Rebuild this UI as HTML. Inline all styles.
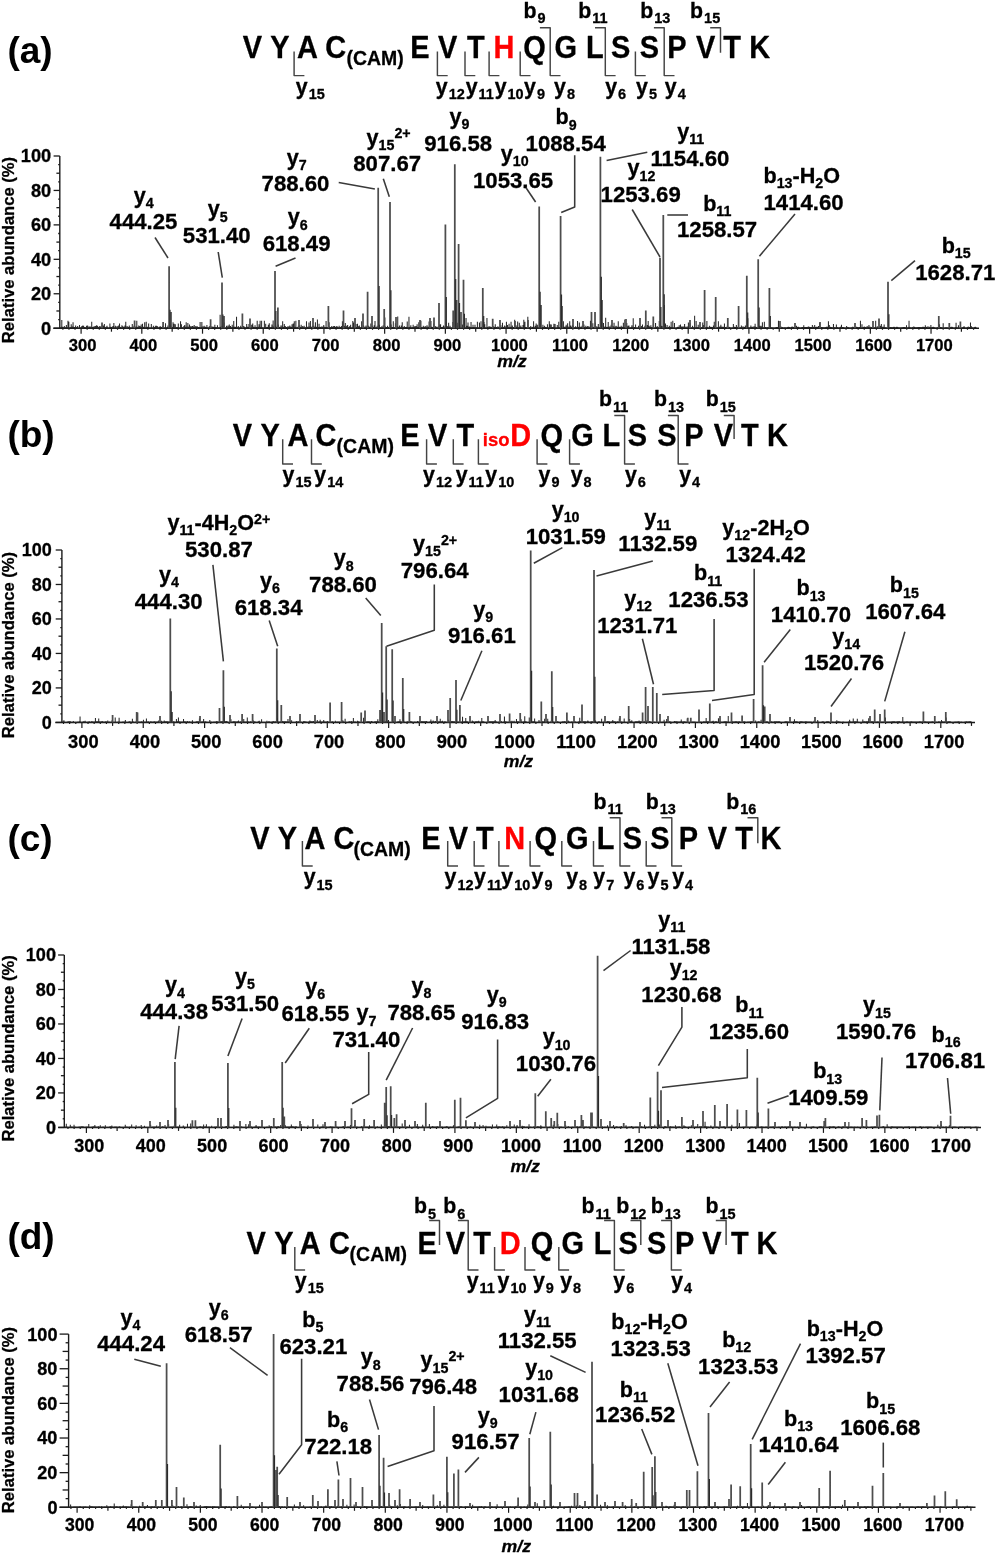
<!DOCTYPE html>
<html><head><meta charset="utf-8"><title>MS/MS spectra</title>
<style>html,body{margin:0;padding:0;background:#fff;width:995px;height:1555px;overflow:hidden}svg{display:block;will-change:transform;filter:blur(0.45px)}text{stroke-width:0.3px}</style>
</head><body>
<svg width="995" height="1555" viewBox="0 0 995 1555" font-family='"Liberation Sans", sans-serif' font-weight="bold" stroke-linejoin="round">
<rect width="995" height="1555" fill="#fff"/>
<text transform="translate(242.64 58.1) scale(0.95 1)" font-size="30.5" fill="#000" stroke="#000">V</text>
<text transform="translate(270.22 58.1) scale(0.95 1)" font-size="30.5" fill="#000" stroke="#000">Y</text>
<text transform="translate(296.9 58.1) scale(0.95 1)" font-size="30.5" fill="#000" stroke="#000">A</text>
<text transform="translate(325.19 58.1) scale(0.95 1)" font-size="30.5" fill="#000" stroke="#000">C</text>
<text transform="translate(410.18 58.1) scale(0.95 1)" font-size="30.5" fill="#000" stroke="#000">E</text>
<text transform="translate(438.09 58.1) scale(0.95 1)" font-size="30.5" fill="#000" stroke="#000">V</text>
<text transform="translate(467 58.1) scale(0.95 1)" font-size="30.5" fill="#000" stroke="#000">T</text>
<text transform="translate(493.39 58.1) scale(0.95 1)" font-size="30.5" fill="#ff0000" stroke="#ff0000">H</text>
<text transform="translate(523.29 58.1) scale(0.95 1)" font-size="30.5" fill="#000" stroke="#000">Q</text>
<text transform="translate(554.58 58.1) scale(0.95 1)" font-size="30.5" fill="#000" stroke="#000">G</text>
<text transform="translate(585.88 58.1) scale(0.95 1)" font-size="30.5" fill="#000" stroke="#000">L</text>
<text transform="translate(610.98 58.1) scale(0.95 1)" font-size="30.5" fill="#000" stroke="#000">S</text>
<text transform="translate(639.83 58.1) scale(0.95 1)" font-size="30.5" fill="#000" stroke="#000">S</text>
<text transform="translate(667.31 58.1) scale(0.95 1)" font-size="30.5" fill="#000" stroke="#000">P</text>
<text transform="translate(695.99 58.1) scale(0.95 1)" font-size="30.5" fill="#000" stroke="#000">V</text>
<text transform="translate(723.3 58.1) scale(0.95 1)" font-size="30.5" fill="#000" stroke="#000">T</text>
<text transform="translate(749.36 58.1) scale(0.95 1)" font-size="30.5" fill="#000" stroke="#000">K</text>
<text transform="translate(346.52 65) scale(0.95 1)" font-size="20.5" fill="#000" stroke="#000">(CAM)</text>
<polyline points="294.1,51.4 294.1,75.6 304.4,75.6" fill="none" stroke="#444" stroke-width="1.45"/>
<polyline points="437.4,51.4 437.4,75.6 447.7,75.6" fill="none" stroke="#444" stroke-width="1.45"/>
<polyline points="465,51.4 465,75.6 475.3,75.6" fill="none" stroke="#444" stroke-width="1.45"/>
<polyline points="489.1,51.4 489.1,75.6 499.4,75.6" fill="none" stroke="#444" stroke-width="1.45"/>
<polyline points="520.2,51.4 520.2,75.6 530.5,75.6" fill="none" stroke="#444" stroke-width="1.45"/>
<polyline points="539.9,27.7 550.2,27.7 550.2,75.6 560.5,75.6" fill="none" stroke="#444" stroke-width="1.45"/>
<polyline points="595,27.7 605.3,27.7 605.3,75.6 615.6,75.6" fill="none" stroke="#444" stroke-width="1.45"/>
<polyline points="635.4,51.4 635.4,75.6 645.7,75.6" fill="none" stroke="#444" stroke-width="1.45"/>
<polyline points="653.9,27.7 664.2,27.7 664.2,75.6 674.5,75.6" fill="none" stroke="#444" stroke-width="1.45"/>
<polyline points="710.2,27.7 720.5,27.7 720.5,52.8" fill="none" stroke="#444" stroke-width="1.45"/>
<text x="295.83" y="94" font-size="21.3" fill="#000" stroke="#000">y</text>
<text x="308.68" y="99.33" font-size="14.48" fill="#000" stroke="#000">15</text>
<text x="435.83" y="94" font-size="21.3" fill="#000" stroke="#000">y</text>
<text x="448.68" y="99.33" font-size="14.48" fill="#000" stroke="#000">12</text>
<text x="465.63" y="94" font-size="21.3" fill="#000" stroke="#000">y</text>
<text x="478.48" y="99.33" font-size="14.48" fill="#000" stroke="#000">11</text>
<text x="494.63" y="94" font-size="21.3" fill="#000" stroke="#000">y</text>
<text x="507.48" y="99.33" font-size="14.48" fill="#000" stroke="#000">10</text>
<text x="524.03" y="94" font-size="21.3" fill="#000" stroke="#000">y</text>
<text x="536.88" y="99.33" font-size="14.48" fill="#000" stroke="#000">9</text>
<text x="554.03" y="94" font-size="21.3" fill="#000" stroke="#000">y</text>
<text x="566.88" y="99.33" font-size="14.48" fill="#000" stroke="#000">8</text>
<text x="605.13" y="94" font-size="21.3" fill="#000" stroke="#000">y</text>
<text x="617.98" y="99.33" font-size="14.48" fill="#000" stroke="#000">6</text>
<text x="636.03" y="94" font-size="21.3" fill="#000" stroke="#000">y</text>
<text x="648.88" y="99.33" font-size="14.48" fill="#000" stroke="#000">5</text>
<text x="664.83" y="94" font-size="21.3" fill="#000" stroke="#000">y</text>
<text x="677.68" y="99.33" font-size="14.48" fill="#000" stroke="#000">4</text>
<text x="523.49" y="17.8" font-size="21.3" fill="#000" stroke="#000">b</text>
<text x="537.51" y="23.12" font-size="14.48" fill="#000" stroke="#000">9</text>
<text x="578.19" y="17.8" font-size="21.3" fill="#000" stroke="#000">b</text>
<text x="592.21" y="23.12" font-size="14.48" fill="#000" stroke="#000">11</text>
<text x="640.29" y="17.8" font-size="21.3" fill="#000" stroke="#000">b</text>
<text x="654.31" y="23.12" font-size="14.48" fill="#000" stroke="#000">13</text>
<text x="690.09" y="17.8" font-size="21.3" fill="#000" stroke="#000">b</text>
<text x="704.11" y="23.12" font-size="14.48" fill="#000" stroke="#000">15</text>
<text x="7.45" y="63.4" font-size="37" fill="#000" stroke="#000" style="stroke-width:0">(a)</text>
<polyline points="59.8,156 59.8,328.2" fill="none" stroke="#1a1a1a" stroke-width="1.4"/>
<polyline points="53.6,328.2 59.8,328.2" fill="none" stroke="#1a1a1a" stroke-width="1.3"/>
<polyline points="58.2,319.59 59.8,319.59" fill="none" stroke="#1a1a1a" stroke-width="1.3"/>
<polyline points="56.4,310.98 59.8,310.98" fill="none" stroke="#1a1a1a" stroke-width="1.3"/>
<polyline points="58.2,302.37 59.8,302.37" fill="none" stroke="#1a1a1a" stroke-width="1.3"/>
<polyline points="53.6,293.76 59.8,293.76" fill="none" stroke="#1a1a1a" stroke-width="1.3"/>
<polyline points="58.2,285.15 59.8,285.15" fill="none" stroke="#1a1a1a" stroke-width="1.3"/>
<polyline points="56.4,276.54 59.8,276.54" fill="none" stroke="#1a1a1a" stroke-width="1.3"/>
<polyline points="58.2,267.93 59.8,267.93" fill="none" stroke="#1a1a1a" stroke-width="1.3"/>
<polyline points="53.6,259.32 59.8,259.32" fill="none" stroke="#1a1a1a" stroke-width="1.3"/>
<polyline points="58.2,250.71 59.8,250.71" fill="none" stroke="#1a1a1a" stroke-width="1.3"/>
<polyline points="56.4,242.1 59.8,242.1" fill="none" stroke="#1a1a1a" stroke-width="1.3"/>
<polyline points="58.2,233.49 59.8,233.49" fill="none" stroke="#1a1a1a" stroke-width="1.3"/>
<polyline points="53.6,224.88 59.8,224.88" fill="none" stroke="#1a1a1a" stroke-width="1.3"/>
<polyline points="58.2,216.27 59.8,216.27" fill="none" stroke="#1a1a1a" stroke-width="1.3"/>
<polyline points="56.4,207.66 59.8,207.66" fill="none" stroke="#1a1a1a" stroke-width="1.3"/>
<polyline points="58.2,199.05 59.8,199.05" fill="none" stroke="#1a1a1a" stroke-width="1.3"/>
<polyline points="53.6,190.44 59.8,190.44" fill="none" stroke="#1a1a1a" stroke-width="1.3"/>
<polyline points="58.2,181.83 59.8,181.83" fill="none" stroke="#1a1a1a" stroke-width="1.3"/>
<polyline points="56.4,173.22 59.8,173.22" fill="none" stroke="#1a1a1a" stroke-width="1.3"/>
<polyline points="58.2,164.61 59.8,164.61" fill="none" stroke="#1a1a1a" stroke-width="1.3"/>
<polyline points="53.6,156 59.8,156" fill="none" stroke="#1a1a1a" stroke-width="1.3"/>
<polyline points="53.3,328.2 979,328.2" fill="none" stroke="#1a1a1a" stroke-width="1.5"/>
<polyline points="62.89,328.2 62.89,329.8" fill="none" stroke="#1a1a1a" stroke-width="1.2"/>
<polyline points="68.96,328.2 68.96,329.8" fill="none" stroke="#1a1a1a" stroke-width="1.2"/>
<polyline points="75.03,328.2 75.03,329.8" fill="none" stroke="#1a1a1a" stroke-width="1.2"/>
<polyline points="81.1,328.2 81.1,333.7" fill="none" stroke="#1a1a1a" stroke-width="1.2"/>
<polyline points="87.17,328.2 87.17,329.8" fill="none" stroke="#1a1a1a" stroke-width="1.2"/>
<polyline points="93.24,328.2 93.24,329.8" fill="none" stroke="#1a1a1a" stroke-width="1.2"/>
<polyline points="99.31,328.2 99.31,329.8" fill="none" stroke="#1a1a1a" stroke-width="1.2"/>
<polyline points="105.38,328.2 105.38,329.8" fill="none" stroke="#1a1a1a" stroke-width="1.2"/>
<polyline points="111.45,328.2 111.45,331.7" fill="none" stroke="#1a1a1a" stroke-width="1.2"/>
<polyline points="117.53,328.2 117.53,329.8" fill="none" stroke="#1a1a1a" stroke-width="1.2"/>
<polyline points="123.6,328.2 123.6,329.8" fill="none" stroke="#1a1a1a" stroke-width="1.2"/>
<polyline points="129.67,328.2 129.67,329.8" fill="none" stroke="#1a1a1a" stroke-width="1.2"/>
<polyline points="135.74,328.2 135.74,329.8" fill="none" stroke="#1a1a1a" stroke-width="1.2"/>
<polyline points="141.81,328.2 141.81,333.7" fill="none" stroke="#1a1a1a" stroke-width="1.2"/>
<polyline points="147.88,328.2 147.88,329.8" fill="none" stroke="#1a1a1a" stroke-width="1.2"/>
<polyline points="153.95,328.2 153.95,329.8" fill="none" stroke="#1a1a1a" stroke-width="1.2"/>
<polyline points="160.02,328.2 160.02,329.8" fill="none" stroke="#1a1a1a" stroke-width="1.2"/>
<polyline points="166.09,328.2 166.09,329.8" fill="none" stroke="#1a1a1a" stroke-width="1.2"/>
<polyline points="172.16,328.2 172.16,331.7" fill="none" stroke="#1a1a1a" stroke-width="1.2"/>
<polyline points="178.24,328.2 178.24,329.8" fill="none" stroke="#1a1a1a" stroke-width="1.2"/>
<polyline points="184.31,328.2 184.31,329.8" fill="none" stroke="#1a1a1a" stroke-width="1.2"/>
<polyline points="190.38,328.2 190.38,329.8" fill="none" stroke="#1a1a1a" stroke-width="1.2"/>
<polyline points="196.45,328.2 196.45,329.8" fill="none" stroke="#1a1a1a" stroke-width="1.2"/>
<polyline points="202.52,328.2 202.52,333.7" fill="none" stroke="#1a1a1a" stroke-width="1.2"/>
<polyline points="208.59,328.2 208.59,329.8" fill="none" stroke="#1a1a1a" stroke-width="1.2"/>
<polyline points="214.66,328.2 214.66,329.8" fill="none" stroke="#1a1a1a" stroke-width="1.2"/>
<polyline points="220.73,328.2 220.73,329.8" fill="none" stroke="#1a1a1a" stroke-width="1.2"/>
<polyline points="226.8,328.2 226.8,329.8" fill="none" stroke="#1a1a1a" stroke-width="1.2"/>
<polyline points="232.88,328.2 232.88,331.7" fill="none" stroke="#1a1a1a" stroke-width="1.2"/>
<polyline points="238.95,328.2 238.95,329.8" fill="none" stroke="#1a1a1a" stroke-width="1.2"/>
<polyline points="245.02,328.2 245.02,329.8" fill="none" stroke="#1a1a1a" stroke-width="1.2"/>
<polyline points="251.09,328.2 251.09,329.8" fill="none" stroke="#1a1a1a" stroke-width="1.2"/>
<polyline points="257.16,328.2 257.16,329.8" fill="none" stroke="#1a1a1a" stroke-width="1.2"/>
<polyline points="263.23,328.2 263.23,333.7" fill="none" stroke="#1a1a1a" stroke-width="1.2"/>
<polyline points="269.3,328.2 269.3,329.8" fill="none" stroke="#1a1a1a" stroke-width="1.2"/>
<polyline points="275.37,328.2 275.37,329.8" fill="none" stroke="#1a1a1a" stroke-width="1.2"/>
<polyline points="281.44,328.2 281.44,329.8" fill="none" stroke="#1a1a1a" stroke-width="1.2"/>
<polyline points="287.51,328.2 287.51,329.8" fill="none" stroke="#1a1a1a" stroke-width="1.2"/>
<polyline points="293.59,328.2 293.59,331.7" fill="none" stroke="#1a1a1a" stroke-width="1.2"/>
<polyline points="299.66,328.2 299.66,329.8" fill="none" stroke="#1a1a1a" stroke-width="1.2"/>
<polyline points="305.73,328.2 305.73,329.8" fill="none" stroke="#1a1a1a" stroke-width="1.2"/>
<polyline points="311.8,328.2 311.8,329.8" fill="none" stroke="#1a1a1a" stroke-width="1.2"/>
<polyline points="317.87,328.2 317.87,329.8" fill="none" stroke="#1a1a1a" stroke-width="1.2"/>
<polyline points="323.94,328.2 323.94,333.7" fill="none" stroke="#1a1a1a" stroke-width="1.2"/>
<polyline points="330.01,328.2 330.01,329.8" fill="none" stroke="#1a1a1a" stroke-width="1.2"/>
<polyline points="336.08,328.2 336.08,329.8" fill="none" stroke="#1a1a1a" stroke-width="1.2"/>
<polyline points="342.15,328.2 342.15,329.8" fill="none" stroke="#1a1a1a" stroke-width="1.2"/>
<polyline points="348.22,328.2 348.22,329.8" fill="none" stroke="#1a1a1a" stroke-width="1.2"/>
<polyline points="354.29,328.2 354.29,331.7" fill="none" stroke="#1a1a1a" stroke-width="1.2"/>
<polyline points="360.37,328.2 360.37,329.8" fill="none" stroke="#1a1a1a" stroke-width="1.2"/>
<polyline points="366.44,328.2 366.44,329.8" fill="none" stroke="#1a1a1a" stroke-width="1.2"/>
<polyline points="372.51,328.2 372.51,329.8" fill="none" stroke="#1a1a1a" stroke-width="1.2"/>
<polyline points="378.58,328.2 378.58,329.8" fill="none" stroke="#1a1a1a" stroke-width="1.2"/>
<polyline points="384.65,328.2 384.65,333.7" fill="none" stroke="#1a1a1a" stroke-width="1.2"/>
<polyline points="390.72,328.2 390.72,329.8" fill="none" stroke="#1a1a1a" stroke-width="1.2"/>
<polyline points="396.79,328.2 396.79,329.8" fill="none" stroke="#1a1a1a" stroke-width="1.2"/>
<polyline points="402.86,328.2 402.86,329.8" fill="none" stroke="#1a1a1a" stroke-width="1.2"/>
<polyline points="408.93,328.2 408.93,329.8" fill="none" stroke="#1a1a1a" stroke-width="1.2"/>
<polyline points="415,328.2 415,331.7" fill="none" stroke="#1a1a1a" stroke-width="1.2"/>
<polyline points="421.08,328.2 421.08,329.8" fill="none" stroke="#1a1a1a" stroke-width="1.2"/>
<polyline points="427.15,328.2 427.15,329.8" fill="none" stroke="#1a1a1a" stroke-width="1.2"/>
<polyline points="433.22,328.2 433.22,329.8" fill="none" stroke="#1a1a1a" stroke-width="1.2"/>
<polyline points="439.29,328.2 439.29,329.8" fill="none" stroke="#1a1a1a" stroke-width="1.2"/>
<polyline points="445.36,328.2 445.36,333.7" fill="none" stroke="#1a1a1a" stroke-width="1.2"/>
<polyline points="451.43,328.2 451.43,329.8" fill="none" stroke="#1a1a1a" stroke-width="1.2"/>
<polyline points="457.5,328.2 457.5,329.8" fill="none" stroke="#1a1a1a" stroke-width="1.2"/>
<polyline points="463.57,328.2 463.57,329.8" fill="none" stroke="#1a1a1a" stroke-width="1.2"/>
<polyline points="469.64,328.2 469.64,329.8" fill="none" stroke="#1a1a1a" stroke-width="1.2"/>
<polyline points="475.72,328.2 475.72,331.7" fill="none" stroke="#1a1a1a" stroke-width="1.2"/>
<polyline points="481.79,328.2 481.79,329.8" fill="none" stroke="#1a1a1a" stroke-width="1.2"/>
<polyline points="487.86,328.2 487.86,329.8" fill="none" stroke="#1a1a1a" stroke-width="1.2"/>
<polyline points="493.93,328.2 493.93,329.8" fill="none" stroke="#1a1a1a" stroke-width="1.2"/>
<polyline points="500,328.2 500,329.8" fill="none" stroke="#1a1a1a" stroke-width="1.2"/>
<polyline points="506.07,328.2 506.07,333.7" fill="none" stroke="#1a1a1a" stroke-width="1.2"/>
<polyline points="512.14,328.2 512.14,329.8" fill="none" stroke="#1a1a1a" stroke-width="1.2"/>
<polyline points="518.21,328.2 518.21,329.8" fill="none" stroke="#1a1a1a" stroke-width="1.2"/>
<polyline points="524.28,328.2 524.28,329.8" fill="none" stroke="#1a1a1a" stroke-width="1.2"/>
<polyline points="530.35,328.2 530.35,329.8" fill="none" stroke="#1a1a1a" stroke-width="1.2"/>
<polyline points="536.42,328.2 536.42,331.7" fill="none" stroke="#1a1a1a" stroke-width="1.2"/>
<polyline points="542.5,328.2 542.5,329.8" fill="none" stroke="#1a1a1a" stroke-width="1.2"/>
<polyline points="548.57,328.2 548.57,329.8" fill="none" stroke="#1a1a1a" stroke-width="1.2"/>
<polyline points="554.64,328.2 554.64,329.8" fill="none" stroke="#1a1a1a" stroke-width="1.2"/>
<polyline points="560.71,328.2 560.71,329.8" fill="none" stroke="#1a1a1a" stroke-width="1.2"/>
<polyline points="566.78,328.2 566.78,333.7" fill="none" stroke="#1a1a1a" stroke-width="1.2"/>
<polyline points="572.85,328.2 572.85,329.8" fill="none" stroke="#1a1a1a" stroke-width="1.2"/>
<polyline points="578.92,328.2 578.92,329.8" fill="none" stroke="#1a1a1a" stroke-width="1.2"/>
<polyline points="584.99,328.2 584.99,329.8" fill="none" stroke="#1a1a1a" stroke-width="1.2"/>
<polyline points="591.06,328.2 591.06,329.8" fill="none" stroke="#1a1a1a" stroke-width="1.2"/>
<polyline points="597.13,328.2 597.13,331.7" fill="none" stroke="#1a1a1a" stroke-width="1.2"/>
<polyline points="603.21,328.2 603.21,329.8" fill="none" stroke="#1a1a1a" stroke-width="1.2"/>
<polyline points="609.28,328.2 609.28,329.8" fill="none" stroke="#1a1a1a" stroke-width="1.2"/>
<polyline points="615.35,328.2 615.35,329.8" fill="none" stroke="#1a1a1a" stroke-width="1.2"/>
<polyline points="621.42,328.2 621.42,329.8" fill="none" stroke="#1a1a1a" stroke-width="1.2"/>
<polyline points="627.49,328.2 627.49,333.7" fill="none" stroke="#1a1a1a" stroke-width="1.2"/>
<polyline points="633.56,328.2 633.56,329.8" fill="none" stroke="#1a1a1a" stroke-width="1.2"/>
<polyline points="639.63,328.2 639.63,329.8" fill="none" stroke="#1a1a1a" stroke-width="1.2"/>
<polyline points="645.7,328.2 645.7,329.8" fill="none" stroke="#1a1a1a" stroke-width="1.2"/>
<polyline points="651.77,328.2 651.77,329.8" fill="none" stroke="#1a1a1a" stroke-width="1.2"/>
<polyline points="657.85,328.2 657.85,331.7" fill="none" stroke="#1a1a1a" stroke-width="1.2"/>
<polyline points="663.92,328.2 663.92,329.8" fill="none" stroke="#1a1a1a" stroke-width="1.2"/>
<polyline points="669.99,328.2 669.99,329.8" fill="none" stroke="#1a1a1a" stroke-width="1.2"/>
<polyline points="676.06,328.2 676.06,329.8" fill="none" stroke="#1a1a1a" stroke-width="1.2"/>
<polyline points="682.13,328.2 682.13,329.8" fill="none" stroke="#1a1a1a" stroke-width="1.2"/>
<polyline points="688.2,328.2 688.2,333.7" fill="none" stroke="#1a1a1a" stroke-width="1.2"/>
<polyline points="694.27,328.2 694.27,329.8" fill="none" stroke="#1a1a1a" stroke-width="1.2"/>
<polyline points="700.34,328.2 700.34,329.8" fill="none" stroke="#1a1a1a" stroke-width="1.2"/>
<polyline points="706.41,328.2 706.41,329.8" fill="none" stroke="#1a1a1a" stroke-width="1.2"/>
<polyline points="712.48,328.2 712.48,329.8" fill="none" stroke="#1a1a1a" stroke-width="1.2"/>
<polyline points="718.56,328.2 718.56,331.7" fill="none" stroke="#1a1a1a" stroke-width="1.2"/>
<polyline points="724.63,328.2 724.63,329.8" fill="none" stroke="#1a1a1a" stroke-width="1.2"/>
<polyline points="730.7,328.2 730.7,329.8" fill="none" stroke="#1a1a1a" stroke-width="1.2"/>
<polyline points="736.77,328.2 736.77,329.8" fill="none" stroke="#1a1a1a" stroke-width="1.2"/>
<polyline points="742.84,328.2 742.84,329.8" fill="none" stroke="#1a1a1a" stroke-width="1.2"/>
<polyline points="748.91,328.2 748.91,333.7" fill="none" stroke="#1a1a1a" stroke-width="1.2"/>
<polyline points="754.98,328.2 754.98,329.8" fill="none" stroke="#1a1a1a" stroke-width="1.2"/>
<polyline points="761.05,328.2 761.05,329.8" fill="none" stroke="#1a1a1a" stroke-width="1.2"/>
<polyline points="767.12,328.2 767.12,329.8" fill="none" stroke="#1a1a1a" stroke-width="1.2"/>
<polyline points="773.19,328.2 773.19,329.8" fill="none" stroke="#1a1a1a" stroke-width="1.2"/>
<polyline points="779.26,328.2 779.26,331.7" fill="none" stroke="#1a1a1a" stroke-width="1.2"/>
<polyline points="785.34,328.2 785.34,329.8" fill="none" stroke="#1a1a1a" stroke-width="1.2"/>
<polyline points="791.41,328.2 791.41,329.8" fill="none" stroke="#1a1a1a" stroke-width="1.2"/>
<polyline points="797.48,328.2 797.48,329.8" fill="none" stroke="#1a1a1a" stroke-width="1.2"/>
<polyline points="803.55,328.2 803.55,329.8" fill="none" stroke="#1a1a1a" stroke-width="1.2"/>
<polyline points="809.62,328.2 809.62,333.7" fill="none" stroke="#1a1a1a" stroke-width="1.2"/>
<polyline points="815.69,328.2 815.69,329.8" fill="none" stroke="#1a1a1a" stroke-width="1.2"/>
<polyline points="821.76,328.2 821.76,329.8" fill="none" stroke="#1a1a1a" stroke-width="1.2"/>
<polyline points="827.83,328.2 827.83,329.8" fill="none" stroke="#1a1a1a" stroke-width="1.2"/>
<polyline points="833.9,328.2 833.9,329.8" fill="none" stroke="#1a1a1a" stroke-width="1.2"/>
<polyline points="839.98,328.2 839.98,331.7" fill="none" stroke="#1a1a1a" stroke-width="1.2"/>
<polyline points="846.05,328.2 846.05,329.8" fill="none" stroke="#1a1a1a" stroke-width="1.2"/>
<polyline points="852.12,328.2 852.12,329.8" fill="none" stroke="#1a1a1a" stroke-width="1.2"/>
<polyline points="858.19,328.2 858.19,329.8" fill="none" stroke="#1a1a1a" stroke-width="1.2"/>
<polyline points="864.26,328.2 864.26,329.8" fill="none" stroke="#1a1a1a" stroke-width="1.2"/>
<polyline points="870.33,328.2 870.33,333.7" fill="none" stroke="#1a1a1a" stroke-width="1.2"/>
<polyline points="876.4,328.2 876.4,329.8" fill="none" stroke="#1a1a1a" stroke-width="1.2"/>
<polyline points="882.47,328.2 882.47,329.8" fill="none" stroke="#1a1a1a" stroke-width="1.2"/>
<polyline points="888.54,328.2 888.54,329.8" fill="none" stroke="#1a1a1a" stroke-width="1.2"/>
<polyline points="894.61,328.2 894.61,329.8" fill="none" stroke="#1a1a1a" stroke-width="1.2"/>
<polyline points="900.69,328.2 900.69,331.7" fill="none" stroke="#1a1a1a" stroke-width="1.2"/>
<polyline points="906.76,328.2 906.76,329.8" fill="none" stroke="#1a1a1a" stroke-width="1.2"/>
<polyline points="912.83,328.2 912.83,329.8" fill="none" stroke="#1a1a1a" stroke-width="1.2"/>
<polyline points="918.9,328.2 918.9,329.8" fill="none" stroke="#1a1a1a" stroke-width="1.2"/>
<polyline points="924.97,328.2 924.97,329.8" fill="none" stroke="#1a1a1a" stroke-width="1.2"/>
<polyline points="931.04,328.2 931.04,333.7" fill="none" stroke="#1a1a1a" stroke-width="1.2"/>
<polyline points="937.11,328.2 937.11,329.8" fill="none" stroke="#1a1a1a" stroke-width="1.2"/>
<polyline points="943.18,328.2 943.18,329.8" fill="none" stroke="#1a1a1a" stroke-width="1.2"/>
<polyline points="949.25,328.2 949.25,329.8" fill="none" stroke="#1a1a1a" stroke-width="1.2"/>
<polyline points="955.32,328.2 955.32,329.8" fill="none" stroke="#1a1a1a" stroke-width="1.2"/>
<polyline points="961.39,328.2 961.39,331.7" fill="none" stroke="#1a1a1a" stroke-width="1.2"/>
<polyline points="967.47,328.2 967.47,329.8" fill="none" stroke="#1a1a1a" stroke-width="1.2"/>
<polyline points="973.54,328.2 973.54,329.8" fill="none" stroke="#1a1a1a" stroke-width="1.2"/>
<text x="68.7" y="350.9" font-size="16.6" fill="#000" stroke="#000">300</text>
<text x="129.58" y="350.9" font-size="16.6" fill="#000" stroke="#000">400</text>
<text x="190.26" y="350.9" font-size="16.6" fill="#000" stroke="#000">500</text>
<text x="251.02" y="350.9" font-size="16.6" fill="#000" stroke="#000">600</text>
<text x="311.78" y="350.9" font-size="16.6" fill="#000" stroke="#000">700</text>
<text x="372.68" y="350.9" font-size="16.6" fill="#000" stroke="#000">800</text>
<text x="433.47" y="350.9" font-size="16.6" fill="#000" stroke="#000">900</text>
<text x="490.93" y="350.9" font-size="16.6" fill="#000" stroke="#000">1000</text>
<text x="552.09" y="350.9" font-size="16.6" fill="#000" stroke="#000">1100</text>
<text x="612.35" y="350.9" font-size="16.6" fill="#000" stroke="#000">1200</text>
<text x="673.06" y="350.9" font-size="16.6" fill="#000" stroke="#000">1300</text>
<text x="733.77" y="350.9" font-size="16.6" fill="#000" stroke="#000">1400</text>
<text x="794.48" y="350.9" font-size="16.6" fill="#000" stroke="#000">1500</text>
<text x="855.19" y="350.9" font-size="16.6" fill="#000" stroke="#000">1600</text>
<text x="915.9" y="350.9" font-size="16.6" fill="#000" stroke="#000">1700</text>
<text x="41.03" y="334.66" font-size="18.2" fill="#000" stroke="#000">0</text>
<text x="30.91" y="300.22" font-size="18.2" fill="#000" stroke="#000">20</text>
<text x="30.91" y="265.78" font-size="18.2" fill="#000" stroke="#000">40</text>
<text x="30.91" y="231.34" font-size="18.2" fill="#000" stroke="#000">60</text>
<text x="30.91" y="196.9" font-size="18.2" fill="#000" stroke="#000">80</text>
<text x="20.79" y="162.46" font-size="18.2" fill="#000" stroke="#000">100</text>
<text transform="translate(14.2 250) rotate(-90)" font-size="16.6" text-anchor="middle" stroke="#000">Relative abundance (%)</text>
<text transform="translate(497.2 366.6) scale(1.04 1)" font-size="17" font-style="italic" stroke="#000">m/z</text>
<polyline points="60.3,327.69 61.85,327.16 63.32,327.63 64.89,327.99 66.4,327.49 68.13,328.09 69.48,328.1 71.22,327.42 72.36,327.1 74.23,327.46 75.82,328.02 76.93,327.61 78.08,327.99 79.38,328.17 80.85,327.7 82.62,327.62 84.23,327.64 85.86,327.69 87.19,327.08 89.08,327.25 90.75,327.85 92.03,327.87 93.19,327.34 94.61,327.25 96.02,327.12 97.8,328.2 99.06,327.18 100.54,327.1 101.96,328.12 103.56,327.32 104.88,328.1 106.24,327.12 107.95,328.07 109.25,328.09 110.39,327.3 111.64,327.57 113.09,327.99 114.78,328.05 116.39,328.07 117.83,327.96 119.15,327.11 120.89,327.86 122.7,327.96 124.11,327.24 125.73,328.09 127.62,327.96 128.92,327.33 130.29,327.87 131.45,328.1 133.01,327.93 134.59,327.78 136.06,327.12 137.54,327.55 139.34,327.99 140.56,327.18 142.31,327.92 143.57,327.37 145.42,327.98 147.28,327.21 148.86,327.73 150.04,328.16 151.91,327.93 153.58,327.91 155.34,327.53 156.67,328 158.35,328.12 159.63,327.57 161.41,327.51 162.74,327.17 164,328.18 165.32,327.7 166.46,328 167.86,327.56 169.06,327.79 170.88,327.1 172.5,327.42 174.07,328.04 175.2,328.18 177.03,327.41 178.9,328.18 180.51,327.66 182.19,327.84 184.09,328.12 185.63,327.37 187.45,327.37 189.11,327.31 190.94,327.8 192.59,327.19 194.39,327.73 196.12,327.23 197.68,327.5 199.08,327.54 200.67,328.11 202.28,327.08 204.09,327.38 205.5,327.37 207.06,327.7 208.83,328.11 210.53,328.17 212.11,327.66 213.4,327.41 214.89,327.51 216.73,327.91 217.84,327.86 219.48,327.97 220.72,327.18 222.35,327.7 224.16,327.83 225.79,327.98 227.24,327.29 229.07,327.21 230.48,327.54 231.83,328.05 233.33,327.26 235.11,327.4 236.97,327.89 238.2,327.69 239.52,327.96 240.95,327.5 242.45,327.85 244.22,327.1 245.68,328.12 246.81,327.22 247.94,327.4 249.5,327.85 251.23,328.18 252.44,327.69 253.56,327.27 254.85,328.04 255.98,327.49 257.44,327.49 259.07,327.29 260.93,327.43 262.19,327.67 263.43,328.19 264.91,327.4 266.16,327.89 267.53,327.42 269.05,327.51 270.75,327.76 272.49,327.18 273.66,327.15 275.33,328.05 276.8,327.5 278.63,327.78 280.18,327.21 281.92,327.14 283.39,327.47 284.65,327.39 286.41,327.48 288.08,327.96 289.9,327.1 291.78,327.6 293.52,327.84 295.34,327.24 296.72,328.11 298.18,327.58 299.89,327.65 301.01,327.29 302.16,327.3 303.4,327.82 305.13,328.04 306.35,327.62 308.03,327.26 309.68,327.14 311.18,327.13 312.35,327.95 313.87,327.87 315.55,327.48 317.07,327.25 318.62,327.85 320.02,327.25 321.84,327.97 323.62,327.11 325.14,327.56 326.4,327.6 327.9,327.52 329.03,327.11 330.54,327.75 332.28,327.57 333.77,327.42 334.93,327.59 336.36,327.12 338.2,327.9 339.67,328.06 341.12,327.28 342.94,327.66 344.3,327.98 345.89,327.16 347.09,327.32 348.21,327.98 349.49,327.43 350.85,327.8 352.45,328.08 354.13,328.06 355.64,327.92 356.9,327.6 358.35,327.78 359.78,327.6 361.01,327.97 362.61,327.48 364.13,327.24 365.72,327.24 367.01,327.37 368.76,327.18 370.11,327.85 371.95,327.95 373.85,327.2 375.06,327.93 376.74,327.91 377.91,327.26 379.35,327.31 380.55,327.75 382.2,328.18 383.46,327.43 385.29,327.11 386.48,327.63 388.19,327.63 389.84,327.99 390.99,328.08 392.12,327.58 393.64,327.56 394.85,327.99 396.12,327.25 398.01,327.16 399.18,328.13 401.05,327.68 402.76,327.83 404.23,327.62 405.68,327.52 406.79,327.41 408.56,328 410.02,327.37 411.45,327.98 412.68,327.62 413.79,327.2 415.53,327.41 417.32,327.49 418.75,327.53 420.25,327.09 421.99,327.91 423.82,327.36 425.55,327.28 426.97,327.19 428.77,327.42 430.49,327.34 431.91,327.39 433.07,327.82 434.54,328.19 435.93,327.48 437.53,327.94 439.38,327.45 440.75,327.46 442.31,327.6 443.72,327.08 445.33,327.41 447.04,327.1 448.16,327.51 449.85,327.91 451.27,328.14 452.53,327.78 453.71,327.92 455.53,327.58 457.04,327.11 458.59,327.08 460.21,327.29 461.37,327.53 463.07,328.15 464.92,328.02 466.4,328.01 467.89,327.51 469.04,327.14 470.47,327.61 472.05,327.79 473.38,327.46 474.93,327.88 476.6,327.87 477.71,327.92 478.85,328.02 480.55,327.76 482.37,327.36 483.51,327.09 485.37,328.12 487.19,327.72 488.67,327.11 489.97,327.61 491.82,327.39 493.29,327.1 495.05,327.52 496.24,327.5 497.7,327.97 498.84,327.61 500.04,327.7 501.68,327.69 502.99,327.54 504.42,327.32 505.95,327.08 507.81,327.37 509.1,328.07 510.91,327.32 512.51,327.8 513.83,327.43 515.38,327.53 516.99,327.35 518.24,327.92 520.13,327.17 521.93,328.16 523.08,327.9 524.52,327.5 525.7,327.59 526.86,328.1 528.5,327.58 530.1,327.78 531.59,327.96 532.96,327.36 534.73,328.12 535.93,327.29 537.53,327.34 538.8,327.72 540.1,327.29 541.5,327.46 543.39,327.83 544.93,327.36 546.77,327.72 548.16,328.09 549.96,328.11 551.13,327.57 552.62,327.43 553.96,327.33 555.12,327.96 556.75,328.11 558.09,327.38 559.74,327.88 560.96,327.8 562.64,327.79 563.83,327.4 565.39,327.17 567.24,327.17 568.69,327.3 570.03,327.84 571.45,327.15 573.27,327.92 574.66,327.79 576.05,327.75 577.46,327.98 579.01,327.3 580.54,327.26 582.09,328 583.8,327.21 585.13,328.17 586.64,327.59 588.19,327.11 589.81,327.3 590.96,327.58 592.7,328.11 593.86,327.37 595.68,328.1 597.29,328.04 598.98,327.47 600.28,327.95 601.99,327.61 603.7,327.76 605.07,327.11 606.71,327.64 608.24,327.39 609.91,327.17 611.34,327.27 612.97,327.24 614.72,327.26 616.53,327.12 618.14,327.61 619.81,327.3 621.24,327.73 622.46,327.37 624.35,327.78 625.59,327.97 627.03,327.87 628.9,328.13 630.25,328.07 631.87,327.33 633.11,328.13 634.58,327.54 636.41,328.16 637.59,327.99 638.87,327.94 640.54,327.53 641.82,327.99 643.15,328.01 644.85,327.85 646.39,327.28 647.87,327.91 649.68,327.17 651.06,327.58 652.92,327.66 654.2,328.14 656.06,327.3 657.47,327.61 658.98,327.89 660.87,327.46 662.16,328.19 663.64,327.78 665.38,327.4 666.96,328.02 668.19,327.84 669.49,327.22 671.01,327.48 672.9,327.9 674.43,328.03 676.15,328.2 677.9,327.25 679.66,328.11 680.98,327.39 682.15,327.66 683.63,327.13 685.2,327.24 686.54,327.31 687.97,327.17 689.15,327.27 690.41,327.59 691.93,328.02 693.7,327.85 695.05,328.11 696.39,327.67 698.07,327.8 699.71,328.08 701.13,327.68 703,327.27 704.63,328.19 706.03,327.4 707.32,327.57 708.79,328.19 710.68,327.3 711.94,327.51 713.28,327.78 714.81,327.86 716.18,327.76 717.81,327.91 719.07,327.38 720.43,327.14 721.98,327.39 723.35,327.27 724.52,328.04 725.7,327.44 727.37,328 728.79,327.26 730.36,328.1 731.64,328.02 732.84,327.74 734,327.16 735.44,327.62 737.06,327.34 738.82,327.77 740.18,327.74 741.29,327.75 742.95,327.1 744.69,327.46 746.27,328.18 747.64,327.81 749.26,328.08 750.66,327.63 752.39,327.27 753.98,328.02 755.69,327.18 757.23,327.8 758.73,328.04 760.4,327.09 761.92,327.4 763.68,327.98 765.54,327.49 766.8,328.11 768.09,327.55 769.75,327.83 771.6,327.79 773.07,328.06 774.94,328.05 776.77,327.59 778.32,327.57 779.63,327.18 781.52,327.28 783.1,328.06 784.86,327.88 786.68,327.93 788.24,327.27 789.49,327.58 790.65,328.16 791.89,327.09 793.74,327.46 795.09,327.44 796.78,327.77 798.35,327.3 799.47,327.98 800.94,328.04 802.35,327.56 803.59,327.62 804.9,327.56 806.27,327.48 807.4,327.45 808.61,327.12 810.19,327.67 811.62,327.5 813.27,327.35 814.97,327.65 816.87,327.26 818.65,327.74 820.1,327.56 821.93,327.61 823.45,327.71 825.27,327.84 826.41,327.38 828.23,327.38 829.81,327.35 831.15,327.53 832.31,328.06 833.77,327.63 835.19,328.14 836.84,327.61 838.13,327.86 839.55,327.93 840.7,327.17 842.58,327.45 844.37,327.73 846.11,327.95 847.81,327.56 849.63,328.09 851.37,328.06 852.9,327.13 854,327.93 855.34,327.83 856.49,327.19 858.24,327.75 859.63,327.54 860.76,328.16 862.58,327.85 864.08,327.15 865.96,327.67 867.23,327.87 869.07,327.19 870.32,327.26 871.71,327.67 872.94,327.21 874.84,327.97 876.44,327.98 878.25,328.14 879.43,327.38 880.78,327.19 882.58,327.4 883.79,327.42 885.64,327.7 886.8,327.95 888.15,327.4 889.4,328 890.69,327.45 892.43,327.78 894.05,327.21 895.63,327.94 896.97,327.16 898.6,327.89 900.21,328.1 902.1,327.7 903.62,327.6 904.76,327.53 906.09,327.92 907.83,328.1 909.16,327.35 910.45,327.89 911.99,327.99 913.81,327.09 914.94,327.68 916.64,327.77 918.48,327.64 919.72,327.57 921.34,327.8 922.97,327.32 924.48,327.63 926.26,327.43 927.77,327.13 929.01,327.32 930.24,327.52 931.53,327.7 933.25,327.32 934.98,327.93 936.47,327.95 938.04,327.64 939.17,327.53 940.84,327.56 942.64,328 943.86,328.18 945.36,327.71 946.81,327.9 948.55,328.12 950.37,327.56 951.91,327.31 953.2,328.04 954.55,328.15 955.9,327.5 957.42,327.9 958.99,328.1 960.75,328.01 962.05,328.02 963.7,327.27 965.43,328.13 966.86,327.79 968.13,327.11 969.27,327.65 970.98,327.09 972.19,327.69 973.89,328.16 975.18,327.2 976.39,327.76" fill="none" stroke="#222" stroke-width="1.1"/>
<path d="M61.8 328.2V319.94M64.33 328.2V325.9M66.37 328.2V325M67.98 328.2V320.78M68.84 328.2V321.68M71.22 328.2V324.24M73.05 328.2V322.2M75.62 328.2V325.52M77.66 328.2V325.97M79.51 328.2V325.08M81.85 328.2V325.96M82.78 328.2V325.46M83.6 328.2V325.81M86.5 328.2V325.79M87.62 328.2V325.47M90.06 328.2V326.2M91.72 328.2V321.82M94.26 328.2V326.18M95.58 328.2V326.07M96.43 328.2V325.19M97.51 328.2V325.82M99.82 328.2V325.96M102.23 328.2V325.36M103.52 328.2V325.53M104.38 328.2V323.96M107.02 328.2V325.7M109.91 328.2V323.53M112.88 328.2V325.89M113.86 328.2V322.94M115.39 328.2V325.76M117.08 328.2V326.04M118.41 328.2V325.54M119.52 328.2V323.43M121.91 328.2V325.34M122.82 328.2V326.18M124.94 328.2V325.6M125.77 328.2V321.73M127.14 328.2V326.01M129.33 328.2V325.46M132.27 328.2V323.99M133.99 328.2V325.77M136.79 328.2V320.7M138.73 328.2V325.47M139.85 328.2V325.91M141.16 328.2V324.54M142.48 328.2V323.82M144.69 328.2V322.31M146.23 328.2V321.78M148.65 328.2V323.55M151.32 328.2V324.03M153.39 328.2V325.74M155.39 328.2V325.85M156.57 328.2V325.68M157.58 328.2V326.13M160.13 328.2V326.05M162.9 328.2V325.84M165.51 328.2V323.32M167.93 328.2V325.57M170.65 328.2V324.39M173.05 328.2V322.32M174.1 328.2V323.68M175.3 328.2V324.27M178.31 328.2V323.54M180.54 328.2V321.3M181.42 328.2V324.33M183.87 328.2V326.12M184.7 328.2V324.89M186.19 328.2V322.24M187.86 328.2V322.9M189.53 328.2V324.52M190.64 328.2V326.14M191.99 328.2V326.12M192.8 328.2V326.08M194.2 328.2V324.89M195.57 328.2V326.18M197.05 328.2V326.01M200.12 328.2V321.97M201.85 328.2V321.88M204.13 328.2V325.77M206.9 328.2V325.1M209.34 328.2V326.2M210.38 328.2V325.48M211.87 328.2V326.2M214.85 328.2V324.64M217.45 328.2V325.3M220.13 328.2V314.79M221.83 328.2V325.85M222.65 328.2V325.91M224.27 328.2V322.5M226.51 328.2V325.76M228.02 328.2V325.57M229.28 328.2V324.52M230.46 328.2V326.09M232.22 328.2V324.78M233.73 328.2V321.1M236.53 328.2V316.83M238.3 328.2V325.93M240.69 328.2V325.78M243.65 328.2V326.01M246.7 328.2V323.93M248.96 328.2V324.06M251.7 328.2V324.77M252.74 328.2V323.52M255.04 328.2V325.37M257.2 328.2V320.79M259 328.2V324.21M260.12 328.2V320.65M261.61 328.2V320.69M264.38 328.2V320.69M265.69 328.2V323.83M268.37 328.2V324.73M269.29 328.2V323.35M271.92 328.2V324.58M273.14 328.2V320.4M275.73 328.2V325.87M278.47 328.2V324.5M281.08 328.2V325.22M282.65 328.2V321.15M284.31 328.2V324.06M285.25 328.2V325.96M288.04 328.2V325.98M289.8 328.2V325.55M292.03 328.2V324.15M293.21 328.2V323.49M294.28 328.2V321.22M295.87 328.2V320.63M298.34 328.2V325.66M299.45 328.2V325.19M301.16 328.2V324.76M302.73 328.2V325.89M304.16 328.2V325.74M306.49 328.2V321.3M308.97 328.2V322.45M310.39 328.2V321.08M312.76 328.2V325.86M313.84 328.2V325.84M315.4 328.2V322.13M317.42 328.2V319.41M319.06 328.2V323.68M321.9 328.2V326.2M323.75 328.2V324.98M326.07 328.2V320.9M329.13 328.2V322.34M331.52 328.2V326.18M333.21 328.2V325.93M334.46 328.2V326.09M336.94 328.2V326.04M339.15 328.2V325.84M341.61 328.2V326.12M342.41 328.2V321.18M343.24 328.2V324.58M344.26 328.2V325.69M345.32 328.2V322.9M346.77 328.2V325.86M347.66 328.2V325.05M349.49 328.2V326.14M350.62 328.2V324.65M352.8 328.2V320.98M353.59 328.2V322.43M356.01 328.2V323.92M357.47 328.2V323.87M358.35 328.2V326.17M359.37 328.2V325.59M361.65 328.2V321.16M363.58 328.2V325.32M366.05 328.2V325.44M367.92 328.2V325.16M368.81 328.2V326.18M370.84 328.2V323.6M372.33 328.2V325.9M374.23 328.2V325.27M375.01 328.2V321.01M377.16 328.2V325.69M379.29 328.2V324.81M381.8 328.2V326.15M383.19 328.2V325.18M384.89 328.2V317.45M387.58 328.2V325.63M390.17 328.2V326.18M391.05 328.2V324.49M393.29 328.2V321.29M395.4 328.2V323.15M397.74 328.2V316.59M399.52 328.2V325.4M401.3 328.2V325.62M402.23 328.2V322.29M404.27 328.2V326.12M407.24 328.2V321.42M408.96 328.2V316.78M410.82 328.2V325.15M413.15 328.2V324.83M414.81 328.2V326.14M415.97 328.2V325.97M417.11 328.2V324.23M418.78 328.2V322.21M420.9 328.2V320.79M423.28 328.2V325.82M425.37 328.2V326.18M427.01 328.2V325.15M429.07 328.2V321.55M430.97 328.2V321.09M433.69 328.2V323.46M435.73 328.2V326.07M438.27 328.2V326.15M439.54 328.2V324.59M440.59 328.2V324.29M443.49 328.2V325.45M445.92 328.2V322.06M447.3 328.2V326.2M448.65 328.2V322.81M450.05 328.2V325.77M452.84 328.2V322.04M455.01 328.2V323.17M457.3 328.2V322.82M458.2 328.2V325.46M459.51 328.2V325.43M462.45 328.2V324.4M463.76 328.2V326.13M466.04 328.2V318.09M467.09 328.2V325.66M468 328.2V322.61M471.04 328.2V322.08M473.01 328.2V324.64M474.99 328.2V324.8M477.39 328.2V321.83M479.45 328.2V322.55M480.99 328.2V321.24M483.95 328.2V322.05M484.77 328.2V324.24M486.95 328.2V318.06M489.93 328.2V326.13M492.91 328.2V326.19M495.27 328.2V324.31M497.9 328.2V326.17M500.92 328.2V325.27M502.49 328.2V322.86M504.61 328.2V325.57M506.43 328.2V321.83M507.55 328.2V324.91M509.08 328.2V323.79M511.06 328.2V321.87M512.37 328.2V325.59M514.69 328.2V319.79M516.02 328.2V325.23M517.65 328.2V321.53M519.31 328.2V322.69M520.86 328.2V325.39M523 328.2V324.93M523.8 328.2V319.67M524.9 328.2V321.86M527.82 328.2V316.86M530.77 328.2V326.1M533.58 328.2V321.13M535.21 328.2V325.78M536.14 328.2V323.6M537.33 328.2V324.64M539.41 328.2V324.64M540.37 328.2V326.17M542.89 328.2V324.77M544.42 328.2V325.71M547.44 328.2V324.15M549.28 328.2V321.19M550.11 328.2V324.28M551.27 328.2V324.57M553.89 328.2V323.8M555.08 328.2V324.05M557.28 328.2V324.94M558.78 328.2V321.81M560.51 328.2V325.01M563.39 328.2V321.27M566.19 328.2V324.74M567.63 328.2V323.26M569.74 328.2V321.15M570.73 328.2V325.52M572.65 328.2V324.71M573.42 328.2V325.79M575.65 328.2V326.15M577.53 328.2V320.91M579.32 328.2V322.6M582.01 328.2V325.84M583.94 328.2V324.47M585.84 328.2V325.72M587.77 328.2V325.98M590.46 328.2V320.81M592.81 328.2V323.35M595.43 328.2V322.47M596.76 328.2V326.2M598.32 328.2V324.1M601.25 328.2V326.18M602.27 328.2V321.93M603.47 328.2V322.97M605.67 328.2V317.81M608.22 328.2V321.91M611.16 328.2V324.84M612.75 328.2V326.05M614.04 328.2V322.82M616 328.2V325.78M618.27 328.2V321.21M621.18 328.2V325.73M623.37 328.2V322.83M624.79 328.2V319.47M626.79 328.2V323.08M628.02 328.2V325.87M628.95 328.2V325.49M631.91 328.2V325.23M633.22 328.2V318.32M635.58 328.2V324.47M638.51 328.2V325.85M641.58 328.2V326M642.48 328.2V324.49M644.91 328.2V325.63M647.18 328.2V325.03M648.19 328.2V321.07M649.09 328.2V325.79M650.87 328.2V325.18M653.36 328.2V323.83M655.55 328.2V323.02M657.41 328.2V326.17M659.26 328.2V321.08M661.15 328.2V325.64M662.2 328.2V325.93M664.14 328.2V325.31M665.5 328.2V323.38M667.12 328.2V325.05M669.33 328.2V325.68M671.14 328.2V321.85M672.78 328.2V320.84M674.48 328.2V323.11M679.2 328.2V325.14M680.49 328.2V324.56M682.05 328.2V326.2M684.59 328.2V324.08M688.4 328.2V322.41M690.08 328.2V323.35M692.57 328.2V325.84M694.63 328.2V315.84M696.15 328.2V321.12M698.23 328.2V324.82M702.74 328.2V322.55M703.85 328.2V325.01M706.9 328.2V321.09M709.42 328.2V325.69M713.43 328.2V325.48M714.26 328.2V321.83M718.39 328.2V321.16M720.86 328.2V324.85M724.45 328.2V323.42M727.27 328.2V325.65M733.37 328.2V324.04M736.37 328.2V325.11M741.38 328.2V325.49M745.43 328.2V325.45M747.85 328.2V318.22M750.87 328.2V325.5M753.93 328.2V326.2M755.11 328.2V323.7M759.65 328.2V325.85M761.02 328.2V325.66M762.41 328.2V322.17M764.36 328.2V321.77M778.46 328.2V320.71M796.55 328.2V325.86M803.76 328.2V325.35M812.36 328.2V324.99M814.69 328.2V325.08M818.46 328.2V325.93M819.73 328.2V322.93M828.43 328.2V321.36M829.26 328.2V324.94M833.45 328.2V323.93M836.38 328.2V324.42M841.47 328.2V324.82M846.6 328.2V325.88M860.44 328.2V320.77M861.97 328.2V324.23M867.15 328.2V326M868.94 328.2V324.97M875.67 328.2V320.71M877.31 328.2V326.19M880.33 328.2V325.74M881.36 328.2V323.89M884.15 328.2V324.38M906.5 328.2V325.33M909.03 328.2V320.8M925.32 328.2V325.28M930.89 328.2V325.07M939.54 328.2V324.15M943.18 328.2V323.32M956.07 328.2V322.75M958.45 328.2V325.24M964.13 328.2V326.19M970.47 328.2V322.45M971.31 328.2V326.18" stroke="#2a2a2a" stroke-width="1.05" fill="none"/>
<path d="M169.1 328.2V266.3M222 328.2V282.6M275 328.2V271M328.4 328.2V306M343.5 328.2V310.5M363 328.2V313.5M367.6 328.2V291.8M378.2 328.2V187.8M384.2 328.2V309M390 328.2V202M439 328.2V303M445.4 328.2V224.6M454.8 328.2V164.3M458.6 328.2V244M463.5 328.2V279.7M482.8 328.2V287.9M539.2 328.2V206.5M560.6 328.2V216M600.4 328.2V156.7M591.5 328.2V312M595 328.2V312M645.8 328.2V310.5M653.3 328.2V316.5M660 328.2V257.7M663.3 328.2V215M704.6 328.2V290M715.7 328.2V297M727.8 328.2V318M738.6 328.2V306M746.8 328.2V275.8M758.2 328.2V259.2M769.4 328.2V287.9M888 328.2V281.8M938.8 328.2V316M949.3 328.2V323M960.4 328.2V321.6M879 328.2V318.5M242.4 328.2V313.5M250 328.2V318.4M277.9 328.2V307.5M102 328.2V322.5M134.6 328.2V320.6M210.6 328.2V319.2M163.1 328.2V322M171 328.2V312M224 328.2V316M434 328.2V317.5M453.2 328.2V310.4M456.5 328.2V300M461 328.2V312M541 328.2V305M562 328.2V306M602 328.2V300M664 328.2V305M313 328.2V318M299 328.2V320M355 328.2V318M372 328.2V316M396 328.2V317M420 328.2V320M430 328.2V318M492.7 328.2V318.8M500 328.2V320M515 328.2V321M528 328.2V320M573 328.2V319M583 328.2V321M612 328.2V320M626 328.2V319M640 328.2V318M690 328.2V320M700 328.2V322M780 328.2V321M795 328.2V323M820 328.2V322M855 328.2V323M873 328.2V321" stroke="#4d4d4d" stroke-width="1.75" fill="none"/>
<path d="M170 328.2V309.63M222.9 328.2V314.52M275.9 328.2V311.04M379.1 328.2V286.08M390.9 328.2V290.34M446.3 328.2V297.12M455.7 328.2V279.03M459.5 328.2V302.94M464.4 328.2V313.65M483.7 328.2V316.11M540.1 328.2V291.69M561.5 328.2V294.54M601.3 328.2V276.75M660.9 328.2V307.05M664.2 328.2V294.24M747.7 328.2V312.48M759.1 328.2V307.5M770.3 328.2V316.11M888.9 328.2V314.28" stroke="#2a2a2a" stroke-width="1.2" fill="none"/>
<text x="109.57" y="229.3" font-size="22.2" fill="#000" stroke="#000">444.25</text>
<text x="133.73" y="202.6" font-size="21.6" fill="#000" stroke="#000">y</text>
<text x="145.74" y="207.89" font-size="14.26" fill="#000" stroke="#000">4</text>
<polyline points="155,237.5 168,258" fill="none" stroke="#3a3a3a" stroke-width="1.55"/>
<text x="182.81" y="243" font-size="22.2" fill="#000" stroke="#000">531.40</text>
<text x="207.73" y="216.3" font-size="21.6" fill="#000" stroke="#000">y</text>
<text x="219.74" y="221.59" font-size="14.26" fill="#000" stroke="#000">5</text>
<polyline points="218.2,252 222.3,277.7" fill="none" stroke="#3a3a3a" stroke-width="1.55"/>
<text x="262.68" y="251" font-size="22.2" fill="#000" stroke="#000">618.49</text>
<text x="287.83" y="224.3" font-size="21.6" fill="#000" stroke="#000">y</text>
<text x="299.84" y="229.59" font-size="14.26" fill="#000" stroke="#000">6</text>
<polyline points="295.5,258 275.6,266.3" fill="none" stroke="#3a3a3a" stroke-width="1.55"/>
<text x="261.55" y="191.3" font-size="22.2" fill="#000" stroke="#000">788.60</text>
<text x="286.83" y="164.6" font-size="21.6" fill="#000" stroke="#000">y</text>
<text x="298.84" y="169.89" font-size="14.26" fill="#000" stroke="#000">7</text>
<polyline points="338.7,182.4 374.9,189" fill="none" stroke="#3a3a3a" stroke-width="1.55"/>
<text x="353.29" y="171.2" font-size="22.2" fill="#000" stroke="#000">807.67</text>
<text x="366.53" y="144.5" font-size="21.6" fill="#000" stroke="#000">y</text>
<text x="378.54" y="149.79" font-size="14.26" fill="#000" stroke="#000">15</text>
<text x="394.4" y="138.02" font-size="14.26" fill="#000" stroke="#000">2+</text>
<polyline points="383.3,178.7 389.3,196.8" fill="none" stroke="#3a3a3a" stroke-width="1.55"/>
<text x="424.22" y="150.9" font-size="22.2" fill="#000" stroke="#000">916.58</text>
<text x="449.43" y="124.2" font-size="21.6" fill="#000" stroke="#000">y</text>
<text x="461.44" y="129.49" font-size="14.26" fill="#000" stroke="#000">9</text>
<text x="473" y="187.8" font-size="22.2" fill="#000" stroke="#000">1053.65</text>
<text x="500.73" y="161.1" font-size="21.6" fill="#000" stroke="#000">y</text>
<text x="512.74" y="166.39" font-size="14.26" fill="#000" stroke="#000">10</text>
<polyline points="526,187.8 535.6,202" fill="none" stroke="#3a3a3a" stroke-width="1.55"/>
<text x="525.6" y="151" font-size="22.2" fill="#000" stroke="#000">1088.54</text>
<text x="555.57" y="124.3" font-size="21.6" fill="#000" stroke="#000">b</text>
<text x="568.77" y="129.59" font-size="14.26" fill="#000" stroke="#000">9</text>
<polyline points="574.7,155.2 574.7,207 561.2,212.5" fill="none" stroke="#3a3a3a" stroke-width="1.55"/>
<text x="650.4" y="165.8" font-size="22.2" fill="#000" stroke="#000">1154.60</text>
<text x="677.23" y="139.1" font-size="21.6" fill="#000" stroke="#000">y</text>
<text x="689.24" y="144.39" font-size="14.26" fill="#000" stroke="#000">11</text>
<polyline points="606.6,160.6 647.3,152.2" fill="none" stroke="#3a3a3a" stroke-width="1.55"/>
<text x="600.6" y="202" font-size="22.2" fill="#000" stroke="#000">1253.69</text>
<text x="627.53" y="175.3" font-size="21.6" fill="#000" stroke="#000">y</text>
<text x="639.54" y="180.59" font-size="14.26" fill="#000" stroke="#000">12</text>
<polyline points="632.2,209.5 660,257" fill="none" stroke="#3a3a3a" stroke-width="1.55"/>
<text x="677" y="237.2" font-size="22.2" fill="#000" stroke="#000">1258.57</text>
<text x="703.17" y="210.5" font-size="21.6" fill="#000" stroke="#000">b</text>
<text x="716.37" y="215.79" font-size="14.26" fill="#000" stroke="#000">11</text>
<polyline points="667.3,215 688,215" fill="none" stroke="#3a3a3a" stroke-width="1.55"/>
<text x="763.5" y="209.5" font-size="22.2" fill="#000" stroke="#000">1414.60</text>
<text x="763.47" y="182.8" font-size="21.6" fill="#000" stroke="#000">b</text>
<text x="776.67" y="188.09" font-size="14.26" fill="#000" stroke="#000">13</text>
<text x="792.53" y="182.8" font-size="21.6" fill="#000" stroke="#000">-H</text>
<text x="815.32" y="188.09" font-size="14.26" fill="#000" stroke="#000">2</text>
<text x="823.25" y="182.8" font-size="21.6" fill="#000" stroke="#000">O</text>
<polyline points="795,214 759.4,256.2" fill="none" stroke="#3a3a3a" stroke-width="1.55"/>
<text x="915.2" y="279.6" font-size="22.2" fill="#000" stroke="#000">1628.71</text>
<text x="941.67" y="252.9" font-size="21.6" fill="#000" stroke="#000">b</text>
<text x="954.87" y="258.19" font-size="14.26" fill="#000" stroke="#000">15</text>
<polyline points="891.3,280.7 915,260.6" fill="none" stroke="#3a3a3a" stroke-width="1.55"/>
<text transform="translate(232.64 446.1) scale(0.95 1)" font-size="30.5" fill="#000" stroke="#000">V</text>
<text transform="translate(260.57 446.1) scale(0.95 1)" font-size="30.5" fill="#000" stroke="#000">Y</text>
<text transform="translate(287.4 446.1) scale(0.95 1)" font-size="30.5" fill="#000" stroke="#000">A</text>
<text transform="translate(315.39 446.1) scale(0.95 1)" font-size="30.5" fill="#000" stroke="#000">C</text>
<text transform="translate(400.23 446.1) scale(0.95 1)" font-size="30.5" fill="#000" stroke="#000">E</text>
<text transform="translate(428.09 446.1) scale(0.95 1)" font-size="30.5" fill="#000" stroke="#000">V</text>
<text transform="translate(456.5 446.1) scale(0.95 1)" font-size="30.5" fill="#000" stroke="#000">T</text>
<text transform="translate(510.33 446.1) scale(0.95 1)" font-size="30.5" fill="#ff0000" stroke="#ff0000">D</text>
<text transform="translate(540.39 446.1) scale(0.95 1)" font-size="30.5" fill="#000" stroke="#000">Q</text>
<text transform="translate(571.33 446.1) scale(0.95 1)" font-size="30.5" fill="#000" stroke="#000">G</text>
<text transform="translate(602.48 446.1) scale(0.95 1)" font-size="30.5" fill="#000" stroke="#000">L</text>
<text transform="translate(627.63 446.1) scale(0.95 1)" font-size="30.5" fill="#000" stroke="#000">S</text>
<text transform="translate(657.23 446.1) scale(0.95 1)" font-size="30.5" fill="#000" stroke="#000">S</text>
<text transform="translate(684.31 446.1) scale(0.95 1)" font-size="30.5" fill="#000" stroke="#000">P</text>
<text transform="translate(713.79 446.1) scale(0.95 1)" font-size="30.5" fill="#000" stroke="#000">V</text>
<text transform="translate(741.1 446.1) scale(0.95 1)" font-size="30.5" fill="#000" stroke="#000">T</text>
<text transform="translate(766.96 446.1) scale(0.95 1)" font-size="30.5" fill="#000" stroke="#000">K</text>
<text transform="translate(336.62 453) scale(0.95 1)" font-size="20.5" fill="#000" stroke="#000">(CAM)</text>
<text x="482.81" y="446.1" font-size="18.5" fill="#f00" stroke="#f00">iso</text>
<polyline points="282.7,439.2 282.7,464 293,464" fill="none" stroke="#444" stroke-width="1.45"/>
<polyline points="311.5,439.2 311.5,464 321.8,464" fill="none" stroke="#444" stroke-width="1.45"/>
<polyline points="426.6,439.2 426.6,464 436.9,464" fill="none" stroke="#444" stroke-width="1.45"/>
<polyline points="453.3,439.2 453.3,464 463.6,464" fill="none" stroke="#444" stroke-width="1.45"/>
<polyline points="478.4,439.2 478.4,464 488.7,464" fill="none" stroke="#444" stroke-width="1.45"/>
<polyline points="537.1,439.2 537.1,464 547.4,464" fill="none" stroke="#444" stroke-width="1.45"/>
<polyline points="569.6,439.2 569.6,464 579.9,464" fill="none" stroke="#444" stroke-width="1.45"/>
<polyline points="614.3,415.5 624.6,415.5 624.6,464 634.9,464" fill="none" stroke="#444" stroke-width="1.45"/>
<polyline points="667.9,415.5 678.2,415.5 678.2,464 688.5,464" fill="none" stroke="#444" stroke-width="1.45"/>
<polyline points="723.8,415.5 734.1,415.5 734.1,439.1" fill="none" stroke="#444" stroke-width="1.45"/>
<text x="282.53" y="481.8" font-size="21.3" fill="#000" stroke="#000">y</text>
<text x="295.38" y="487.12" font-size="14.48" fill="#000" stroke="#000">15</text>
<text x="314.33" y="481.8" font-size="21.3" fill="#000" stroke="#000">y</text>
<text x="327.18" y="487.12" font-size="14.48" fill="#000" stroke="#000">14</text>
<text x="423.03" y="481.8" font-size="21.3" fill="#000" stroke="#000">y</text>
<text x="435.88" y="487.12" font-size="14.48" fill="#000" stroke="#000">12</text>
<text x="455.73" y="481.8" font-size="21.3" fill="#000" stroke="#000">y</text>
<text x="468.58" y="487.12" font-size="14.48" fill="#000" stroke="#000">11</text>
<text x="485.33" y="481.8" font-size="21.3" fill="#000" stroke="#000">y</text>
<text x="498.18" y="487.12" font-size="14.48" fill="#000" stroke="#000">10</text>
<text x="538.53" y="481.8" font-size="21.3" fill="#000" stroke="#000">y</text>
<text x="551.38" y="487.12" font-size="14.48" fill="#000" stroke="#000">9</text>
<text x="570.73" y="481.8" font-size="21.3" fill="#000" stroke="#000">y</text>
<text x="583.58" y="487.12" font-size="14.48" fill="#000" stroke="#000">8</text>
<text x="624.93" y="481.8" font-size="21.3" fill="#000" stroke="#000">y</text>
<text x="637.78" y="487.12" font-size="14.48" fill="#000" stroke="#000">6</text>
<text x="679.23" y="481.8" font-size="21.3" fill="#000" stroke="#000">y</text>
<text x="692.08" y="487.12" font-size="14.48" fill="#000" stroke="#000">4</text>
<text x="599.09" y="406.2" font-size="21.3" fill="#000" stroke="#000">b</text>
<text x="613.11" y="411.52" font-size="14.48" fill="#000" stroke="#000">11</text>
<text x="653.89" y="406.2" font-size="21.3" fill="#000" stroke="#000">b</text>
<text x="667.91" y="411.52" font-size="14.48" fill="#000" stroke="#000">13</text>
<text x="705.69" y="406.2" font-size="21.3" fill="#000" stroke="#000">b</text>
<text x="719.71" y="411.52" font-size="14.48" fill="#000" stroke="#000">15</text>
<text x="7.45" y="447" font-size="37" fill="#000" stroke="#000" style="stroke-width:0">(b)</text>
<polyline points="61.9,550 61.9,722.4" fill="none" stroke="#1a1a1a" stroke-width="1.4"/>
<polyline points="55.7,722.4 61.9,722.4" fill="none" stroke="#1a1a1a" stroke-width="1.3"/>
<polyline points="60.3,713.78 61.9,713.78" fill="none" stroke="#1a1a1a" stroke-width="1.3"/>
<polyline points="58.5,705.16 61.9,705.16" fill="none" stroke="#1a1a1a" stroke-width="1.3"/>
<polyline points="60.3,696.54 61.9,696.54" fill="none" stroke="#1a1a1a" stroke-width="1.3"/>
<polyline points="55.7,687.92 61.9,687.92" fill="none" stroke="#1a1a1a" stroke-width="1.3"/>
<polyline points="60.3,679.3 61.9,679.3" fill="none" stroke="#1a1a1a" stroke-width="1.3"/>
<polyline points="58.5,670.68 61.9,670.68" fill="none" stroke="#1a1a1a" stroke-width="1.3"/>
<polyline points="60.3,662.06 61.9,662.06" fill="none" stroke="#1a1a1a" stroke-width="1.3"/>
<polyline points="55.7,653.44 61.9,653.44" fill="none" stroke="#1a1a1a" stroke-width="1.3"/>
<polyline points="60.3,644.82 61.9,644.82" fill="none" stroke="#1a1a1a" stroke-width="1.3"/>
<polyline points="58.5,636.2 61.9,636.2" fill="none" stroke="#1a1a1a" stroke-width="1.3"/>
<polyline points="60.3,627.58 61.9,627.58" fill="none" stroke="#1a1a1a" stroke-width="1.3"/>
<polyline points="55.7,618.96 61.9,618.96" fill="none" stroke="#1a1a1a" stroke-width="1.3"/>
<polyline points="60.3,610.34 61.9,610.34" fill="none" stroke="#1a1a1a" stroke-width="1.3"/>
<polyline points="58.5,601.72 61.9,601.72" fill="none" stroke="#1a1a1a" stroke-width="1.3"/>
<polyline points="60.3,593.1 61.9,593.1" fill="none" stroke="#1a1a1a" stroke-width="1.3"/>
<polyline points="55.7,584.48 61.9,584.48" fill="none" stroke="#1a1a1a" stroke-width="1.3"/>
<polyline points="60.3,575.86 61.9,575.86" fill="none" stroke="#1a1a1a" stroke-width="1.3"/>
<polyline points="58.5,567.24 61.9,567.24" fill="none" stroke="#1a1a1a" stroke-width="1.3"/>
<polyline points="60.3,558.62 61.9,558.62" fill="none" stroke="#1a1a1a" stroke-width="1.3"/>
<polyline points="55.7,550 61.9,550" fill="none" stroke="#1a1a1a" stroke-width="1.3"/>
<polyline points="55.3,722.4 975,722.4" fill="none" stroke="#1a1a1a" stroke-width="1.5"/>
<polyline points="63.5,722.4 63.5,724" fill="none" stroke="#1a1a1a" stroke-width="1.2"/>
<polyline points="69.63,722.4 69.63,724" fill="none" stroke="#1a1a1a" stroke-width="1.2"/>
<polyline points="75.77,722.4 75.77,724" fill="none" stroke="#1a1a1a" stroke-width="1.2"/>
<polyline points="81.9,722.4 81.9,727.9" fill="none" stroke="#1a1a1a" stroke-width="1.2"/>
<polyline points="88.04,722.4 88.04,724" fill="none" stroke="#1a1a1a" stroke-width="1.2"/>
<polyline points="94.17,722.4 94.17,724" fill="none" stroke="#1a1a1a" stroke-width="1.2"/>
<polyline points="100.31,722.4 100.31,724" fill="none" stroke="#1a1a1a" stroke-width="1.2"/>
<polyline points="106.44,722.4 106.44,724" fill="none" stroke="#1a1a1a" stroke-width="1.2"/>
<polyline points="112.58,722.4 112.58,725.9" fill="none" stroke="#1a1a1a" stroke-width="1.2"/>
<polyline points="118.71,722.4 118.71,724" fill="none" stroke="#1a1a1a" stroke-width="1.2"/>
<polyline points="124.84,722.4 124.84,724" fill="none" stroke="#1a1a1a" stroke-width="1.2"/>
<polyline points="130.98,722.4 130.98,724" fill="none" stroke="#1a1a1a" stroke-width="1.2"/>
<polyline points="137.12,722.4 137.12,724" fill="none" stroke="#1a1a1a" stroke-width="1.2"/>
<polyline points="143.25,722.4 143.25,727.9" fill="none" stroke="#1a1a1a" stroke-width="1.2"/>
<polyline points="149.38,722.4 149.38,724" fill="none" stroke="#1a1a1a" stroke-width="1.2"/>
<polyline points="155.52,722.4 155.52,724" fill="none" stroke="#1a1a1a" stroke-width="1.2"/>
<polyline points="161.66,722.4 161.66,724" fill="none" stroke="#1a1a1a" stroke-width="1.2"/>
<polyline points="167.79,722.4 167.79,724" fill="none" stroke="#1a1a1a" stroke-width="1.2"/>
<polyline points="173.93,722.4 173.93,725.9" fill="none" stroke="#1a1a1a" stroke-width="1.2"/>
<polyline points="180.06,722.4 180.06,724" fill="none" stroke="#1a1a1a" stroke-width="1.2"/>
<polyline points="186.19,722.4 186.19,724" fill="none" stroke="#1a1a1a" stroke-width="1.2"/>
<polyline points="192.33,722.4 192.33,724" fill="none" stroke="#1a1a1a" stroke-width="1.2"/>
<polyline points="198.47,722.4 198.47,724" fill="none" stroke="#1a1a1a" stroke-width="1.2"/>
<polyline points="204.6,722.4 204.6,727.9" fill="none" stroke="#1a1a1a" stroke-width="1.2"/>
<polyline points="210.74,722.4 210.74,724" fill="none" stroke="#1a1a1a" stroke-width="1.2"/>
<polyline points="216.87,722.4 216.87,724" fill="none" stroke="#1a1a1a" stroke-width="1.2"/>
<polyline points="223,722.4 223,724" fill="none" stroke="#1a1a1a" stroke-width="1.2"/>
<polyline points="229.14,722.4 229.14,724" fill="none" stroke="#1a1a1a" stroke-width="1.2"/>
<polyline points="235.28,722.4 235.28,725.9" fill="none" stroke="#1a1a1a" stroke-width="1.2"/>
<polyline points="241.41,722.4 241.41,724" fill="none" stroke="#1a1a1a" stroke-width="1.2"/>
<polyline points="247.55,722.4 247.55,724" fill="none" stroke="#1a1a1a" stroke-width="1.2"/>
<polyline points="253.68,722.4 253.68,724" fill="none" stroke="#1a1a1a" stroke-width="1.2"/>
<polyline points="259.81,722.4 259.81,724" fill="none" stroke="#1a1a1a" stroke-width="1.2"/>
<polyline points="265.95,722.4 265.95,727.9" fill="none" stroke="#1a1a1a" stroke-width="1.2"/>
<polyline points="272.09,722.4 272.09,724" fill="none" stroke="#1a1a1a" stroke-width="1.2"/>
<polyline points="278.22,722.4 278.22,724" fill="none" stroke="#1a1a1a" stroke-width="1.2"/>
<polyline points="284.36,722.4 284.36,724" fill="none" stroke="#1a1a1a" stroke-width="1.2"/>
<polyline points="290.49,722.4 290.49,724" fill="none" stroke="#1a1a1a" stroke-width="1.2"/>
<polyline points="296.62,722.4 296.62,725.9" fill="none" stroke="#1a1a1a" stroke-width="1.2"/>
<polyline points="302.76,722.4 302.76,724" fill="none" stroke="#1a1a1a" stroke-width="1.2"/>
<polyline points="308.89,722.4 308.89,724" fill="none" stroke="#1a1a1a" stroke-width="1.2"/>
<polyline points="315.03,722.4 315.03,724" fill="none" stroke="#1a1a1a" stroke-width="1.2"/>
<polyline points="321.16,722.4 321.16,724" fill="none" stroke="#1a1a1a" stroke-width="1.2"/>
<polyline points="327.3,722.4 327.3,727.9" fill="none" stroke="#1a1a1a" stroke-width="1.2"/>
<polyline points="333.44,722.4 333.44,724" fill="none" stroke="#1a1a1a" stroke-width="1.2"/>
<polyline points="339.57,722.4 339.57,724" fill="none" stroke="#1a1a1a" stroke-width="1.2"/>
<polyline points="345.71,722.4 345.71,724" fill="none" stroke="#1a1a1a" stroke-width="1.2"/>
<polyline points="351.84,722.4 351.84,724" fill="none" stroke="#1a1a1a" stroke-width="1.2"/>
<polyline points="357.98,722.4 357.98,725.9" fill="none" stroke="#1a1a1a" stroke-width="1.2"/>
<polyline points="364.11,722.4 364.11,724" fill="none" stroke="#1a1a1a" stroke-width="1.2"/>
<polyline points="370.25,722.4 370.25,724" fill="none" stroke="#1a1a1a" stroke-width="1.2"/>
<polyline points="376.38,722.4 376.38,724" fill="none" stroke="#1a1a1a" stroke-width="1.2"/>
<polyline points="382.51,722.4 382.51,724" fill="none" stroke="#1a1a1a" stroke-width="1.2"/>
<polyline points="388.65,722.4 388.65,727.9" fill="none" stroke="#1a1a1a" stroke-width="1.2"/>
<polyline points="394.78,722.4 394.78,724" fill="none" stroke="#1a1a1a" stroke-width="1.2"/>
<polyline points="400.92,722.4 400.92,724" fill="none" stroke="#1a1a1a" stroke-width="1.2"/>
<polyline points="407.05,722.4 407.05,724" fill="none" stroke="#1a1a1a" stroke-width="1.2"/>
<polyline points="413.19,722.4 413.19,724" fill="none" stroke="#1a1a1a" stroke-width="1.2"/>
<polyline points="419.33,722.4 419.33,725.9" fill="none" stroke="#1a1a1a" stroke-width="1.2"/>
<polyline points="425.46,722.4 425.46,724" fill="none" stroke="#1a1a1a" stroke-width="1.2"/>
<polyline points="431.6,722.4 431.6,724" fill="none" stroke="#1a1a1a" stroke-width="1.2"/>
<polyline points="437.73,722.4 437.73,724" fill="none" stroke="#1a1a1a" stroke-width="1.2"/>
<polyline points="443.87,722.4 443.87,724" fill="none" stroke="#1a1a1a" stroke-width="1.2"/>
<polyline points="450,722.4 450,727.9" fill="none" stroke="#1a1a1a" stroke-width="1.2"/>
<polyline points="456.13,722.4 456.13,724" fill="none" stroke="#1a1a1a" stroke-width="1.2"/>
<polyline points="462.27,722.4 462.27,724" fill="none" stroke="#1a1a1a" stroke-width="1.2"/>
<polyline points="468.4,722.4 468.4,724" fill="none" stroke="#1a1a1a" stroke-width="1.2"/>
<polyline points="474.54,722.4 474.54,724" fill="none" stroke="#1a1a1a" stroke-width="1.2"/>
<polyline points="480.67,722.4 480.67,725.9" fill="none" stroke="#1a1a1a" stroke-width="1.2"/>
<polyline points="486.81,722.4 486.81,724" fill="none" stroke="#1a1a1a" stroke-width="1.2"/>
<polyline points="492.95,722.4 492.95,724" fill="none" stroke="#1a1a1a" stroke-width="1.2"/>
<polyline points="499.08,722.4 499.08,724" fill="none" stroke="#1a1a1a" stroke-width="1.2"/>
<polyline points="505.22,722.4 505.22,724" fill="none" stroke="#1a1a1a" stroke-width="1.2"/>
<polyline points="511.35,722.4 511.35,727.9" fill="none" stroke="#1a1a1a" stroke-width="1.2"/>
<polyline points="517.49,722.4 517.49,724" fill="none" stroke="#1a1a1a" stroke-width="1.2"/>
<polyline points="523.62,722.4 523.62,724" fill="none" stroke="#1a1a1a" stroke-width="1.2"/>
<polyline points="529.75,722.4 529.75,724" fill="none" stroke="#1a1a1a" stroke-width="1.2"/>
<polyline points="535.89,722.4 535.89,724" fill="none" stroke="#1a1a1a" stroke-width="1.2"/>
<polyline points="542.02,722.4 542.02,725.9" fill="none" stroke="#1a1a1a" stroke-width="1.2"/>
<polyline points="548.16,722.4 548.16,724" fill="none" stroke="#1a1a1a" stroke-width="1.2"/>
<polyline points="554.29,722.4 554.29,724" fill="none" stroke="#1a1a1a" stroke-width="1.2"/>
<polyline points="560.43,722.4 560.43,724" fill="none" stroke="#1a1a1a" stroke-width="1.2"/>
<polyline points="566.57,722.4 566.57,724" fill="none" stroke="#1a1a1a" stroke-width="1.2"/>
<polyline points="572.7,722.4 572.7,727.9" fill="none" stroke="#1a1a1a" stroke-width="1.2"/>
<polyline points="578.84,722.4 578.84,724" fill="none" stroke="#1a1a1a" stroke-width="1.2"/>
<polyline points="584.97,722.4 584.97,724" fill="none" stroke="#1a1a1a" stroke-width="1.2"/>
<polyline points="591.11,722.4 591.11,724" fill="none" stroke="#1a1a1a" stroke-width="1.2"/>
<polyline points="597.24,722.4 597.24,724" fill="none" stroke="#1a1a1a" stroke-width="1.2"/>
<polyline points="603.38,722.4 603.38,725.9" fill="none" stroke="#1a1a1a" stroke-width="1.2"/>
<polyline points="609.51,722.4 609.51,724" fill="none" stroke="#1a1a1a" stroke-width="1.2"/>
<polyline points="615.64,722.4 615.64,724" fill="none" stroke="#1a1a1a" stroke-width="1.2"/>
<polyline points="621.78,722.4 621.78,724" fill="none" stroke="#1a1a1a" stroke-width="1.2"/>
<polyline points="627.91,722.4 627.91,724" fill="none" stroke="#1a1a1a" stroke-width="1.2"/>
<polyline points="634.05,722.4 634.05,727.9" fill="none" stroke="#1a1a1a" stroke-width="1.2"/>
<polyline points="640.18,722.4 640.18,724" fill="none" stroke="#1a1a1a" stroke-width="1.2"/>
<polyline points="646.32,722.4 646.32,724" fill="none" stroke="#1a1a1a" stroke-width="1.2"/>
<polyline points="652.45,722.4 652.45,724" fill="none" stroke="#1a1a1a" stroke-width="1.2"/>
<polyline points="658.59,722.4 658.59,724" fill="none" stroke="#1a1a1a" stroke-width="1.2"/>
<polyline points="664.73,722.4 664.73,725.9" fill="none" stroke="#1a1a1a" stroke-width="1.2"/>
<polyline points="670.86,722.4 670.86,724" fill="none" stroke="#1a1a1a" stroke-width="1.2"/>
<polyline points="677,722.4 677,724" fill="none" stroke="#1a1a1a" stroke-width="1.2"/>
<polyline points="683.13,722.4 683.13,724" fill="none" stroke="#1a1a1a" stroke-width="1.2"/>
<polyline points="689.26,722.4 689.26,724" fill="none" stroke="#1a1a1a" stroke-width="1.2"/>
<polyline points="695.4,722.4 695.4,727.9" fill="none" stroke="#1a1a1a" stroke-width="1.2"/>
<polyline points="701.53,722.4 701.53,724" fill="none" stroke="#1a1a1a" stroke-width="1.2"/>
<polyline points="707.67,722.4 707.67,724" fill="none" stroke="#1a1a1a" stroke-width="1.2"/>
<polyline points="713.8,722.4 713.8,724" fill="none" stroke="#1a1a1a" stroke-width="1.2"/>
<polyline points="719.94,722.4 719.94,724" fill="none" stroke="#1a1a1a" stroke-width="1.2"/>
<polyline points="726.07,722.4 726.07,725.9" fill="none" stroke="#1a1a1a" stroke-width="1.2"/>
<polyline points="732.21,722.4 732.21,724" fill="none" stroke="#1a1a1a" stroke-width="1.2"/>
<polyline points="738.35,722.4 738.35,724" fill="none" stroke="#1a1a1a" stroke-width="1.2"/>
<polyline points="744.48,722.4 744.48,724" fill="none" stroke="#1a1a1a" stroke-width="1.2"/>
<polyline points="750.62,722.4 750.62,724" fill="none" stroke="#1a1a1a" stroke-width="1.2"/>
<polyline points="756.75,722.4 756.75,727.9" fill="none" stroke="#1a1a1a" stroke-width="1.2"/>
<polyline points="762.88,722.4 762.88,724" fill="none" stroke="#1a1a1a" stroke-width="1.2"/>
<polyline points="769.02,722.4 769.02,724" fill="none" stroke="#1a1a1a" stroke-width="1.2"/>
<polyline points="775.15,722.4 775.15,724" fill="none" stroke="#1a1a1a" stroke-width="1.2"/>
<polyline points="781.29,722.4 781.29,724" fill="none" stroke="#1a1a1a" stroke-width="1.2"/>
<polyline points="787.42,722.4 787.42,725.9" fill="none" stroke="#1a1a1a" stroke-width="1.2"/>
<polyline points="793.56,722.4 793.56,724" fill="none" stroke="#1a1a1a" stroke-width="1.2"/>
<polyline points="799.69,722.4 799.69,724" fill="none" stroke="#1a1a1a" stroke-width="1.2"/>
<polyline points="805.83,722.4 805.83,724" fill="none" stroke="#1a1a1a" stroke-width="1.2"/>
<polyline points="811.97,722.4 811.97,724" fill="none" stroke="#1a1a1a" stroke-width="1.2"/>
<polyline points="818.1,722.4 818.1,727.9" fill="none" stroke="#1a1a1a" stroke-width="1.2"/>
<polyline points="824.24,722.4 824.24,724" fill="none" stroke="#1a1a1a" stroke-width="1.2"/>
<polyline points="830.37,722.4 830.37,724" fill="none" stroke="#1a1a1a" stroke-width="1.2"/>
<polyline points="836.5,722.4 836.5,724" fill="none" stroke="#1a1a1a" stroke-width="1.2"/>
<polyline points="842.64,722.4 842.64,724" fill="none" stroke="#1a1a1a" stroke-width="1.2"/>
<polyline points="848.77,722.4 848.77,725.9" fill="none" stroke="#1a1a1a" stroke-width="1.2"/>
<polyline points="854.91,722.4 854.91,724" fill="none" stroke="#1a1a1a" stroke-width="1.2"/>
<polyline points="861.04,722.4 861.04,724" fill="none" stroke="#1a1a1a" stroke-width="1.2"/>
<polyline points="867.18,722.4 867.18,724" fill="none" stroke="#1a1a1a" stroke-width="1.2"/>
<polyline points="873.31,722.4 873.31,724" fill="none" stroke="#1a1a1a" stroke-width="1.2"/>
<polyline points="879.45,722.4 879.45,727.9" fill="none" stroke="#1a1a1a" stroke-width="1.2"/>
<polyline points="885.58,722.4 885.58,724" fill="none" stroke="#1a1a1a" stroke-width="1.2"/>
<polyline points="891.72,722.4 891.72,724" fill="none" stroke="#1a1a1a" stroke-width="1.2"/>
<polyline points="897.86,722.4 897.86,724" fill="none" stroke="#1a1a1a" stroke-width="1.2"/>
<polyline points="903.99,722.4 903.99,724" fill="none" stroke="#1a1a1a" stroke-width="1.2"/>
<polyline points="910.12,722.4 910.12,725.9" fill="none" stroke="#1a1a1a" stroke-width="1.2"/>
<polyline points="916.26,722.4 916.26,724" fill="none" stroke="#1a1a1a" stroke-width="1.2"/>
<polyline points="922.39,722.4 922.39,724" fill="none" stroke="#1a1a1a" stroke-width="1.2"/>
<polyline points="928.53,722.4 928.53,724" fill="none" stroke="#1a1a1a" stroke-width="1.2"/>
<polyline points="934.66,722.4 934.66,724" fill="none" stroke="#1a1a1a" stroke-width="1.2"/>
<polyline points="940.8,722.4 940.8,727.9" fill="none" stroke="#1a1a1a" stroke-width="1.2"/>
<polyline points="946.93,722.4 946.93,724" fill="none" stroke="#1a1a1a" stroke-width="1.2"/>
<polyline points="953.07,722.4 953.07,724" fill="none" stroke="#1a1a1a" stroke-width="1.2"/>
<polyline points="959.2,722.4 959.2,724" fill="none" stroke="#1a1a1a" stroke-width="1.2"/>
<polyline points="965.34,722.4 965.34,724" fill="none" stroke="#1a1a1a" stroke-width="1.2"/>
<polyline points="971.48,722.4 971.48,725.9" fill="none" stroke="#1a1a1a" stroke-width="1.2"/>
<text x="68.1" y="748" font-size="18.3" fill="#000" stroke="#000">300</text>
<text x="129.63" y="748" font-size="18.3" fill="#000" stroke="#000">400</text>
<text x="190.93" y="748" font-size="18.3" fill="#000" stroke="#000">500</text>
<text x="252.32" y="748" font-size="18.3" fill="#000" stroke="#000">600</text>
<text x="313.72" y="748" font-size="18.3" fill="#000" stroke="#000">700</text>
<text x="375.27" y="748" font-size="18.3" fill="#000" stroke="#000">800</text>
<text x="436.69" y="748" font-size="18.3" fill="#000" stroke="#000">900</text>
<text x="494.3" y="748" font-size="18.3" fill="#000" stroke="#000">1000</text>
<text x="556.15" y="748" font-size="18.3" fill="#000" stroke="#000">1100</text>
<text x="617" y="748" font-size="18.3" fill="#000" stroke="#000">1200</text>
<text x="678.35" y="748" font-size="18.3" fill="#000" stroke="#000">1300</text>
<text x="739.7" y="748" font-size="18.3" fill="#000" stroke="#000">1400</text>
<text x="801.05" y="748" font-size="18.3" fill="#000" stroke="#000">1500</text>
<text x="862.4" y="748" font-size="18.3" fill="#000" stroke="#000">1600</text>
<text x="923.75" y="748" font-size="18.3" fill="#000" stroke="#000">1700</text>
<text x="41.73" y="728.79" font-size="18" fill="#000" stroke="#000">0</text>
<text x="31.72" y="694.31" font-size="18" fill="#000" stroke="#000">20</text>
<text x="31.72" y="659.83" font-size="18" fill="#000" stroke="#000">40</text>
<text x="31.72" y="625.35" font-size="18" fill="#000" stroke="#000">60</text>
<text x="31.72" y="590.87" font-size="18" fill="#000" stroke="#000">80</text>
<text x="21.71" y="556.39" font-size="18" fill="#000" stroke="#000">100</text>
<text transform="translate(14.2 645) rotate(-90)" font-size="16.6" text-anchor="middle" stroke="#000">Relative abundance (%)</text>
<text transform="translate(503.7 767) scale(1.04 1)" font-size="17" font-style="italic" stroke="#000">m/z</text>
<polyline points="62.4,722.06 64.03,721.92 65.24,722.39 66.64,722.2 68.39,721.9 69.97,722 71.6,722.3 73.05,722.28 74.88,722.36 76.63,722.35 78.28,722.16 79.7,721.79 80.82,722.36 82.65,722.03 83.82,721.69 85.68,722.32 87.12,722.3 88.47,721.95 89.7,721.9 90.84,722.28 92.59,722.11 94.03,721.97 95.51,722.12 96.63,721.88 98.51,721.7 100.14,722.14 101.53,721.9 103.17,722.32 104.46,722.14 105.97,721.82 107.47,722.38 109.22,722.09 110.74,722.24 112.18,722.12 113.9,722.33 115.44,722.27 117.1,722.37 118.42,722.15 120.03,722.36 121.49,722.25 122.82,722.06 124.69,722.05 126.55,722.28 128.39,722.14 129.64,721.86 131.47,722.4 132.79,721.85 134.16,722.23 135.27,722.37 136.86,721.69 138.76,722.04 139.88,722.17 141.61,721.8 143.22,722.23 144.74,722.06 146.34,722.21 148.2,721.76 149.43,722.19 151.23,722.2 153.08,722.03 154.74,721.89 156.01,722.19 157.32,721.91 158.97,722.31 160.78,722.1 162.07,722.09 163.96,722 165.56,721.74 167.43,721.85 168.86,721.98 170.68,721.83 172.25,722.15 173.64,721.87 175.19,722.39 176.86,721.75 178.6,721.75 180.43,722.01 182.16,722.13 183.34,722.15 184.69,721.73 186.34,722.01 187.93,722.31 189.46,721.9 190.88,722.22 192.3,722.17 193.95,722.3 195.12,722.18 196.78,721.85 198.41,721.73 199.8,722.38 201.29,722.08 202.53,721.92 203.91,722.23 205.27,721.72 206.38,722.14 207.7,722.26 209.14,722.24 210.98,722.04 212.64,722.28 214.11,721.96 215.88,722.22 217.35,721.78 219.12,722.24 220.65,721.85 222.06,721.92 223.69,721.7 225.24,721.91 226.62,721.87 227.98,722.04 229.36,722.18 230.57,722.24 232.11,722.22 233.25,721.82 234.57,721.73 236.15,722.12 237.95,721.75 239.31,722.31 240.92,721.79 242.51,721.84 243.94,721.96 245.25,722.11 246.65,722.12 248.07,721.82 249.31,722.25 250.61,721.7 252.13,722.36 253.9,721.77 255.65,722.14 257.34,722.18 258.55,721.78 260.32,722.25 262.12,722.38 263.47,722.39 264.71,722.28 266.38,722.19 267.63,722.27 268.98,721.78 270.57,722.33 272.21,722.01 273.67,722.02 275.29,721.82 276.8,721.94 278.27,721.94 279.68,722.1 281.2,721.89 282.52,721.73 284.01,721.78 285.66,721.71 287.31,722.09 288.74,721.96 290.44,721.8 291.64,722.36 292.83,722.34 293.97,722.39 295.27,722.32 296.92,721.96 298.79,721.71 300.49,721.72 301.61,722.24 303.45,722.06 304.72,721.86 306.16,722.01 307.51,722.23 308.68,721.96 310.54,721.69 312.26,721.73 313.65,722.19 315.48,721.97 317.12,722.39 318.4,722.05 320.09,721.81 321.79,722.16 323.2,721.78 325.09,722.05 326.35,721.95 327.87,722.14 329.16,722.12 330.75,722.31 332.28,721.71 333.98,722.22 335.41,722.33 337.1,721.95 338.34,722.01 339.92,721.98 341.32,722.18 342.7,721.68 344.07,722.04 345.54,722.28 346.96,722.25 348.31,722.14 349.69,721.72 351.03,722.16 352.66,722.11 354.17,721.93 355.33,721.92 356.51,722.22 358.26,721.69 359.9,722.28 361.35,722.2 363.12,722.23 364.38,721.94 365.99,721.98 367.47,721.71 368.94,721.73 370.35,722.06 371.74,721.89 373.44,722.23 374.96,721.88 376.46,721.92 378.05,721.89 379.44,722.18 380.56,721.76 382.29,722.12 384.16,721.75 385.38,721.8 386.82,722.17 388.13,722.1 389.27,722.36 390.46,722.18 391.69,722.31 393.46,722.13 394.95,721.97 396.79,722.29 398.08,721.78 399.9,721.73 401.43,722.14 402.68,721.74 404.39,722 406.12,722.21 407.65,721.75 408.84,721.96 410.09,721.8 411.86,721.94 413.31,722.38 414.8,722.14 416.22,722.34 418.06,722.02 419.61,721.79 421.42,722 422.96,721.79 424.36,721.75 425.48,721.83 427,721.95 428.89,722.24 430.32,721.82 432.01,722.02 433.74,721.91 435.53,721.93 436.92,722.19 438.09,722.31 439.22,721.7 440.43,721.97 441.64,721.7 443.17,722.27 444.93,721.78 446.81,722.24 448.23,721.92 449.56,721.99 451.22,721.86 452.98,721.86 454.31,721.86 455.75,722.28 456.87,721.95 458.26,722.33 459.75,722.1 461.11,721.99 462.64,722.02 464.53,721.75 465.87,721.77 467.22,721.73 468.37,722.17 470.21,721.92 471.88,722.25 473.08,721.71 474.23,722.27 475.67,721.81 477.32,721.68 479.04,722.09 480.87,722.17 482.01,721.71 483.81,721.92 485.3,722.25 486.57,722.35 487.75,722.06 489.57,721.73 491.08,721.92 492.55,721.84 494.22,721.69 495.99,721.91 497.57,722.28 499.04,722.08 500.27,722.25 501.7,722.27 503.3,722.16 505.19,721.91 506.7,722.09 508.11,722.26 509.98,721.74 511.6,721.93 512.82,722.01 514.05,722.17 515.62,722.28 516.91,721.87 518.4,721.76 519.62,722.34 521.47,721.96 523.13,722 524.35,721.7 525.84,721.75 527.06,722.2 528.6,722.22 530.39,722.21 531.55,722.28 532.87,721.72 534.67,721.92 536.11,722.37 537.88,722.31 539.14,722.09 540.93,722.27 542.08,721.75 543.18,721.87 544.4,722.18 545.66,722.08 547.5,721.8 549.03,722.34 550.27,722.19 552,721.74 553.12,722.16 554.99,722.29 556.16,722.21 557.97,722.21 559.64,722.31 561.27,722.28 562.85,721.87 564.65,722.09 566.54,722.11 568.4,721.74 570.3,722.32 571.62,721.9 573.42,722.22 575.14,722.06 576.24,722.34 577.35,722.24 579.19,721.91 580.98,721.74 582.4,721.9 584.02,721.9 585.2,721.76 586.42,722.08 588.07,721.86 589.83,722.18 591.17,721.88 592.31,721.77 593.66,722.12 595.01,721.89 596.25,722.3 597.4,722.31 599,721.69 600.11,722.07 601.49,722.18 602.87,722.32 604.3,722.21 605.45,722.3 607.3,721.88 609.18,721.81 610.87,722.24 612.06,721.69 613.71,721.88 614.92,721.83 616.45,722.34 617.72,721.7 619.32,722.33 620.48,721.86 621.86,722.06 623.07,722.27 624.57,722.09 625.82,722.29 627.28,722.32 628.42,722.06 629.57,721.87 631.28,721.89 633.14,722.28 634.58,722.1 635.74,721.78 636.87,721.69 638.51,721.69 639.66,721.76 641.53,721.84 643.09,721.93 644.58,721.79 646.14,722.01 647.56,721.95 649.13,721.72 650.85,722.16 652.53,722.23 654.01,722.02 655.7,722.35 656.91,722.27 658.51,722.28 660.06,721.77 661.5,722.24 663.08,722.1 664.53,722.27 666.17,722.15 668.06,722.04 669.71,721.73 671.59,722.38 673.43,722.33 675.29,721.83 676.6,721.88 678.15,722.07 679.75,722.07 681.38,721.9 682.48,721.94 684.14,721.78 685.67,722.01 686.89,722.26 688.71,722.36 690.53,722.31 691.93,721.95 693.06,722.08 694.8,722.12 696.04,722.36 697.9,722.32 699.53,721.94 700.86,722 702.5,722.25 703.8,721.73 705.07,722.05 706.53,721.84 708.32,721.85 709.92,722.01 711.09,721.99 712.54,721.86 713.94,722.31 715.34,721.8 716.84,721.92 717.99,722.24 719.3,722.05 720.49,721.72 721.86,722.4 723.15,722.04 724.74,721.81 725.91,721.7 727.7,722.03 729.32,722.18 730.53,722.39 732.4,721.76 733.86,721.97 735.34,721.9 736.52,721.86 737.76,721.97 739.36,721.79 740.95,722.27 742.7,722.13 744.25,721.82 746.14,722.33 747.6,722.17 749.38,722.11 751.21,721.83 752.64,721.85 754.28,722.32 755.62,722.3 757.39,722.12 758.73,721.88 760.62,722.3 762.27,722.24 764,721.86 765.72,721.98 766.92,721.79 768.1,721.98 769.97,722.21 771.46,721.91 773.07,722.17 774.51,721.75 776.18,722.27 777.82,721.79 779.4,721.76 780.72,722.19 782.51,722.22 783.71,722.29 785.52,721.81 786.77,721.87 788.03,721.95 789.14,721.98 790.84,722.04 792.44,722.32 793.91,721.84 795.31,721.86 796.89,721.82 798.58,722.18 800.33,721.81 801.78,721.88 803.21,721.99 804.57,722.07 805.91,721.76 807.5,721.96 809.02,722.07 810.26,721.93 811.72,722.15 813.23,722.31 814.85,721.84 816.24,722.28 818.11,721.95 819.47,722.34 821.03,722.24 822.85,721.88 824.17,722.11 825.34,722.24 826.88,721.76 828.33,721.71 829.63,722.33 831.4,722.13 832.73,722.08 834.32,722.24 835.5,721.97 837.13,722 838.36,721.78 839.8,722.01 841.61,722.3 843.1,722.09 844.71,722.24 846.01,722.24 847.55,722.18 849.4,721.77 851.08,722.11 852.84,721.99 854.56,721.71 855.76,721.85 857.58,722.11 858.96,722.38 860.77,722.25 861.88,722.34 863.39,721.91 865.22,721.92 866.4,721.73 868.2,721.82 870.02,721.8 871.66,721.85 872.78,721.69 873.88,722.09 875.44,722.03 876.81,722.03 878.16,721.92 879.29,722.15 880.91,722.07 882.03,722.07 883.87,722.02 885.55,722.12 887.44,722.02 889.18,721.95 890.94,722.12 892.78,721.69 894.6,721.75 895.99,722.16 897.8,721.81 899.38,722 900.48,722 901.63,722.02 902.91,721.96 904.14,722.16 905.85,721.98 907.06,721.69 908.18,722.1 909.85,721.98 911.47,721.75 912.65,722.03 913.95,721.97 915.42,721.95 917.16,722.04 918.6,722 919.83,721.74 921.24,722.04 923.02,721.8 924.91,721.89 926.44,722.09 928.16,721.95 929.27,721.99 930.91,722.14 932.67,721.87 934.48,722.19 936.11,722 937.48,722.19 938.65,721.8 939.97,722.15 941.28,722 942.77,721.78 943.93,722.15 945.7,721.83 946.85,722.08 948.75,721.69 950.1,721.86 951.47,722.35 953.29,722.31 955.18,722.07 956.96,722.06 958.78,721.86 960.02,722.38 961.26,721.96 962.44,722.35 963.85,722.36 965.2,721.95 966.48,721.83 967.79,722.14 969.21,721.79 970.35,721.82 971.52,721.7" fill="none" stroke="#222" stroke-width="1.1"/>
<path d="M63.9 722.4V720.17M70.02 722.4V720.98M73.34 722.4V721.11M80.06 722.4V716.46M85.15 722.4V720.74M91.85 722.4V720.93M95.44 722.4V718M98.72 722.4V718.38M102.77 722.4V721.06M107.75 722.4V720.41M112.11 722.4V720.29M115.22 722.4V717.54M119.12 722.4V717.84M125.37 722.4V719.99M132.39 722.4V718.67M136.4 722.4V720.68M143.45 722.4V719.73M146.42 722.4V718.47M150.92 722.4V721M158.66 722.4V720.58M161.44 722.4V720.76M164.26 722.4V720.62M171.37 722.4V720.41M176.42 722.4V719.04M178.43 722.4V717.55M183.51 722.4V718.89M187.37 722.4V721.1M192.45 722.4V720.18M199.43 722.4V718.45M203.61 722.4V719.06M209.81 722.4V720.12M216.22 722.4V720.94M222.79 722.4V721.11M226.25 722.4V721.11M230.97 722.4V719.29M238.54 722.4V720.44M243.75 722.4V718.94M247.29 722.4V717.58M253.37 722.4V720.41M259.25 722.4V720.68M261.58 722.4V719.33M266.9 722.4V720.74M273.23 722.4V721.1M277.49 722.4V718.15M282.28 722.4V721.07M287.96 722.4V719.11M291.6 722.4V720.13M296.37 722.4V721.12M303.8 722.4V720.95M309.88 722.4V720.61M313.46 722.4V720.94M317.29 722.4V719.92M320.17 722.4V719.72M323.71 722.4V719.97M327.38 722.4V721.07M335.34 722.4V720.71M342.81 722.4V720.13M345.12 722.4V718.7M351.32 722.4V721.05M353.38 722.4V718.09M357.49 722.4V720.68M363.57 722.4V717.67M371.52 722.4V721M377.81 722.4V719.33M383.23 722.4V720.82M386.09 722.4V721.11M388.52 722.4V720.11M395.4 722.4V720.9M399.96 722.4V719.24M403.64 722.4V720.7M410.84 722.4V721.11M417.45 722.4V720.99M421.82 722.4V720.97M426.36 722.4V720.88M430.91 722.4V719.61M433.13 722.4V720.48M435.54 722.4V721.1M437.71 722.4V720.71M440.25 722.4V718.68M442.58 722.4V720.7M448.65 722.4V719.67M451.98 722.4V721.1M459.17 722.4V720.94M462.55 722.4V716.87M465.75 722.4V717.97M472.27 722.4V720.61M478.65 722.4V720.64M481.79 722.4V717.89M488.33 722.4V720.62M495.16 722.4V720.07M501.29 722.4V721.08M504.45 722.4V716.38M511.94 722.4V720.85M514.13 722.4V720.64M516.47 722.4V719.05M521.13 722.4V719.3M524.74 722.4V716.21M529.26 722.4V717.44M534.61 722.4V718.41M538.99 722.4V719.88M544.63 722.4V718.82M547.72 722.4V718.84M551.15 722.4V720.63M557.8 722.4V720.92M564.79 722.4V721.07M568.22 722.4V720.53M574.73 722.4V721.04M579.73 722.4V717.79M582.17 722.4V720.95M587.82 722.4V720.56M595.56 722.4V720.6M601.63 722.4V718.73M604.23 722.4V720.72M607.76 722.4V721.08M612.77 722.4V719.99M619.28 722.4V718.56M624.2 722.4V718.52M629.65 722.4V718.92M631.77 722.4V720.33M639.07 722.4V720.42M647.06 722.4V720.19M649.86 722.4V720.97M656.56 722.4V718.1M664.12 722.4V719.85M666.7 722.4V718.94M674.41 722.4V720.93M681.27 722.4V719.46M687.27 722.4V718.51M706.15 722.4V718.05M713.18 722.4V720.82M718.46 722.4V718.26M728.25 722.4V716.11M755.66 722.4V720.43M761.09 722.4V719.85M776.09 722.4V721.11M794.45 722.4V719.24M814.05 722.4V720.84M817.72 722.4V720.03M836.83 722.4V720.16M849.62 722.4V719.8M853.26 722.4V718.44M857.31 722.4V718.84M862.81 722.4V719.57M868.69 722.4V718.21M885.42 722.4V717.52M899.18 722.4V721.07M902.78 722.4V717.05M941.5 722.4V719.92M946.17 722.4V717.56" stroke="#2a2a2a" stroke-width="1.05" fill="none"/>
<path d="M170.3 722.4V618.5M223.4 722.4V670.3M276.8 722.4V648.6M381.7 722.4V623M386.2 722.4V646.2M392.2 722.4V649.2M402.8 722.4V677.9M330.1 722.4V702.6M341.6 722.4V702M219.5 722.4V708M281.3 722.4V705M137.5 722.4V712.5M361.2 722.4V712.5M365 722.4V710.4M409.4 722.4V712M242.1 722.4V714M252.6 722.4V714M450.2 722.4V698M456 722.4V680M459.9 722.4V705M530.7 722.4V550.6M541.3 722.4V701.4M551.8 722.4V671.2M566.9 722.4V712.5M582 722.4V704.4M594 722.4V570M509.6 722.4V713.4M520.2 722.4V713M628.7 722.4V706M642.6 722.4V712.5M645.6 722.4V687M652.8 722.4V687M656.8 722.4V693M687.8 722.4V717.7M690.8 722.4V717.7M699 722.4V709.5M709.8 722.4V703.5M731.5 722.4V712.5M742.1 722.4V715.6M753.6 722.4V699M762.6 722.4V665.2M764.7 722.4V706.5M831 722.4V712.5M874.7 722.4V709.5M884.7 722.4V709.5M923.4 722.4V711.6M934.8 722.4V716M945.8 722.4V712M112.6 722.4V715M136.7 722.4V712M172 722.4V712M160 722.4V716M200 722.4V716M230 722.4V715M290 722.4V716M300 722.4V714M315 722.4V715M380 722.4V710M384 722.4V712M395 722.4V716M420 722.4V716M437 722.4V716M448 722.4V710M470 722.4V716M488 722.4V716M500 722.4V714M546 722.4V714M556 722.4V716M574 722.4V716M605 722.4V716M620 722.4V716M648 722.4V706M660 722.4V714M668 722.4V716M720 722.4V716M770 722.4V714M790 722.4V717M815 722.4V717M870 722.4V716M880 722.4V714" stroke="#4d4d4d" stroke-width="1.75" fill="none"/>
<path d="M171.2 722.4V691.23M224.3 722.4V706.77M277.7 722.4V700.26M382.6 722.4V692.58M387.1 722.4V699.54M393.1 722.4V700.44M403.7 722.4V709.05M456.9 722.4V709.68M531.6 722.4V670.86M552.7 722.4V707.04M594.9 722.4V676.68M763.5 722.4V705.24" stroke="#2a2a2a" stroke-width="1.2" fill="none"/>
<text x="134.77" y="608.8" font-size="22.2" fill="#000" stroke="#000">444.30</text>
<text x="159.03" y="582.1" font-size="21.6" fill="#000" stroke="#000">y</text>
<text x="171.04" y="587.39" font-size="14.26" fill="#000" stroke="#000">4</text>
<text x="185.01" y="556.7" font-size="22.2" fill="#000" stroke="#000">530.87</text>
<text x="167.43" y="530" font-size="21.6" fill="#000" stroke="#000">y</text>
<text x="179.44" y="535.29" font-size="14.26" fill="#000" stroke="#000">11</text>
<text x="194.51" y="530" font-size="21.6" fill="#000" stroke="#000">-4H</text>
<text x="229.32" y="535.29" font-size="14.26" fill="#000" stroke="#000">2</text>
<text x="237.24" y="530" font-size="21.6" fill="#000" stroke="#000">O</text>
<text x="254.05" y="523.52" font-size="14.26" fill="#000" stroke="#000">2+</text>
<polyline points="212.9,564.8 223.4,661.3" fill="none" stroke="#3a3a3a" stroke-width="1.55"/>
<text x="234.68" y="614.6" font-size="22.2" fill="#000" stroke="#000">618.34</text>
<text x="260.03" y="587.9" font-size="21.6" fill="#000" stroke="#000">y</text>
<text x="272.04" y="593.19" font-size="14.26" fill="#000" stroke="#000">6</text>
<polyline points="269.2,620.6 277.7,646.2" fill="none" stroke="#3a3a3a" stroke-width="1.55"/>
<text x="309.05" y="592" font-size="22.2" fill="#000" stroke="#000">788.60</text>
<text x="333.83" y="565.3" font-size="21.6" fill="#000" stroke="#000">y</text>
<text x="345.84" y="570.59" font-size="14.26" fill="#000" stroke="#000">8</text>
<polyline points="365.7,598 380.8,615.5" fill="none" stroke="#3a3a3a" stroke-width="1.55"/>
<text x="400.75" y="577.8" font-size="22.2" fill="#000" stroke="#000">796.64</text>
<text x="413.03" y="551.1" font-size="21.6" fill="#000" stroke="#000">y</text>
<text x="425.04" y="556.39" font-size="14.26" fill="#000" stroke="#000">15</text>
<text x="440.9" y="544.62" font-size="14.26" fill="#000" stroke="#000">2+</text>
<polyline points="434.3,584.4 434.3,630.2 386.5,646.2" fill="none" stroke="#3a3a3a" stroke-width="1.55"/>
<text x="447.92" y="643.2" font-size="22.2" fill="#000" stroke="#000">916.61</text>
<text x="473.33" y="616.5" font-size="21.6" fill="#000" stroke="#000">y</text>
<text x="485.34" y="621.79" font-size="14.26" fill="#000" stroke="#000">9</text>
<polyline points="481.9,650.7 460.8,700.5" fill="none" stroke="#3a3a3a" stroke-width="1.55"/>
<text x="525.7" y="543.7" font-size="22.2" fill="#000" stroke="#000">1031.59</text>
<text x="551.63" y="517" font-size="21.6" fill="#000" stroke="#000">y</text>
<text x="563.64" y="522.29" font-size="14.26" fill="#000" stroke="#000">10</text>
<polyline points="533.8,563.3 562.4,547.6" fill="none" stroke="#3a3a3a" stroke-width="1.55"/>
<text x="618.3" y="551.3" font-size="22.2" fill="#000" stroke="#000">1132.59</text>
<text x="644.23" y="524.6" font-size="21.6" fill="#000" stroke="#000">y</text>
<text x="656.24" y="529.89" font-size="14.26" fill="#000" stroke="#000">11</text>
<polyline points="596.5,576 652.8,560.9" fill="none" stroke="#3a3a3a" stroke-width="1.55"/>
<text x="597.2" y="632.7" font-size="22.2" fill="#000" stroke="#000">1231.71</text>
<text x="624.13" y="606" font-size="21.6" fill="#000" stroke="#000">y</text>
<text x="636.14" y="611.29" font-size="14.26" fill="#000" stroke="#000">12</text>
<polyline points="642.4,638.7 653.5,684.2" fill="none" stroke="#3a3a3a" stroke-width="1.55"/>
<text x="668.3" y="607" font-size="22.2" fill="#000" stroke="#000">1236.53</text>
<text x="693.97" y="580.3" font-size="21.6" fill="#000" stroke="#000">b</text>
<text x="707.17" y="585.59" font-size="14.26" fill="#000" stroke="#000">11</text>
<polyline points="662.2,694.5 714.1,690.5 714.1,619.1" fill="none" stroke="#3a3a3a" stroke-width="1.55"/>
<text x="725.6" y="561.8" font-size="22.2" fill="#000" stroke="#000">1324.42</text>
<text x="722.33" y="535.1" font-size="21.6" fill="#000" stroke="#000">y</text>
<text x="734.34" y="540.39" font-size="14.26" fill="#000" stroke="#000">12</text>
<text x="750.2" y="535.1" font-size="21.6" fill="#000" stroke="#000">-2H</text>
<text x="785" y="540.39" font-size="14.26" fill="#000" stroke="#000">2</text>
<text x="792.93" y="535.1" font-size="21.6" fill="#000" stroke="#000">O</text>
<polyline points="712,700.5 754.2,694.5 754.2,568.7" fill="none" stroke="#3a3a3a" stroke-width="1.55"/>
<text x="770.8" y="622.1" font-size="22.2" fill="#000" stroke="#000">1410.70</text>
<text x="796.47" y="595.4" font-size="21.6" fill="#000" stroke="#000">b</text>
<text x="809.67" y="600.69" font-size="14.26" fill="#000" stroke="#000">13</text>
<polyline points="764.1,662.2 790.3,629.6" fill="none" stroke="#3a3a3a" stroke-width="1.55"/>
<text x="804" y="670.3" font-size="22.2" fill="#000" stroke="#000">1520.76</text>
<text x="832.33" y="643.6" font-size="21.6" fill="#000" stroke="#000">y</text>
<text x="844.34" y="648.89" font-size="14.26" fill="#000" stroke="#000">14</text>
<polyline points="831,706.5 851.5,678.5" fill="none" stroke="#3a3a3a" stroke-width="1.55"/>
<text x="865.2" y="619.1" font-size="22.2" fill="#000" stroke="#000">1607.64</text>
<text x="889.87" y="592.4" font-size="21.6" fill="#000" stroke="#000">b</text>
<text x="903.07" y="597.69" font-size="14.26" fill="#000" stroke="#000">15</text>
<polyline points="884.7,701.4 904.9,631.7" fill="none" stroke="#3a3a3a" stroke-width="1.55"/>
<text transform="translate(250.24 849.1) scale(0.95 1)" font-size="30.5" fill="#000" stroke="#000">V</text>
<text transform="translate(277.87 849.1) scale(0.95 1)" font-size="30.5" fill="#000" stroke="#000">Y</text>
<text transform="translate(304.45 849.1) scale(0.95 1)" font-size="30.5" fill="#000" stroke="#000">A</text>
<text transform="translate(333.59 849.1) scale(0.95 1)" font-size="30.5" fill="#000" stroke="#000">C</text>
<text transform="translate(421.18 849.1) scale(0.95 1)" font-size="30.5" fill="#000" stroke="#000">E</text>
<text transform="translate(448.74 849.1) scale(0.95 1)" font-size="30.5" fill="#000" stroke="#000">V</text>
<text transform="translate(475.9 849.1) scale(0.95 1)" font-size="30.5" fill="#000" stroke="#000">T</text>
<text transform="translate(504.14 849.1) scale(0.95 1)" font-size="30.5" fill="#ff0000" stroke="#ff0000">N</text>
<text transform="translate(534.44 849.1) scale(0.95 1)" font-size="30.5" fill="#000" stroke="#000">Q</text>
<text transform="translate(565.88 849.1) scale(0.95 1)" font-size="30.5" fill="#000" stroke="#000">G</text>
<text transform="translate(596.63 849.1) scale(0.95 1)" font-size="30.5" fill="#000" stroke="#000">L</text>
<text transform="translate(622.83 849.1) scale(0.95 1)" font-size="30.5" fill="#000" stroke="#000">S</text>
<text transform="translate(650.23 849.1) scale(0.95 1)" font-size="30.5" fill="#000" stroke="#000">S</text>
<text transform="translate(678.76 849.1) scale(0.95 1)" font-size="30.5" fill="#000" stroke="#000">P</text>
<text transform="translate(707.69 849.1) scale(0.95 1)" font-size="30.5" fill="#000" stroke="#000">V</text>
<text transform="translate(735.35 849.1) scale(0.95 1)" font-size="30.5" fill="#000" stroke="#000">T</text>
<text transform="translate(760.51 849.1) scale(0.95 1)" font-size="30.5" fill="#000" stroke="#000">K</text>
<text transform="translate(353.52 856) scale(0.95 1)" font-size="20.5" fill="#000" stroke="#000">(CAM)</text>
<polyline points="302.4,841 302.4,866 312.7,866" fill="none" stroke="#444" stroke-width="1.45"/>
<polyline points="447.7,841 447.7,866 458,866" fill="none" stroke="#444" stroke-width="1.45"/>
<polyline points="474.2,841 474.2,866 484.5,866" fill="none" stroke="#444" stroke-width="1.45"/>
<polyline points="498.9,841 498.9,866 509.2,866" fill="none" stroke="#444" stroke-width="1.45"/>
<polyline points="530.1,841 530.1,866 540.4,866" fill="none" stroke="#444" stroke-width="1.45"/>
<polyline points="561.8,841 561.8,866 572.1,866" fill="none" stroke="#444" stroke-width="1.45"/>
<polyline points="593.5,841 593.5,866 603.8,866" fill="none" stroke="#444" stroke-width="1.45"/>
<polyline points="609.7,817.7 620,817.7 620,866 630.3,866" fill="none" stroke="#444" stroke-width="1.45"/>
<polyline points="646.2,841 646.2,866 656.5,866" fill="none" stroke="#444" stroke-width="1.45"/>
<polyline points="661.5,817.7 671.8,817.7 671.8,866 682.1,866" fill="none" stroke="#444" stroke-width="1.45"/>
<polyline points="747.5,817.7 757.8,817.7 757.8,843.3" fill="none" stroke="#444" stroke-width="1.45"/>
<text x="303.73" y="884.2" font-size="21.3" fill="#000" stroke="#000">y</text>
<text x="316.58" y="889.53" font-size="14.48" fill="#000" stroke="#000">15</text>
<text x="444.53" y="884.2" font-size="21.3" fill="#000" stroke="#000">y</text>
<text x="457.38" y="889.53" font-size="14.48" fill="#000" stroke="#000">12</text>
<text x="474.03" y="884.2" font-size="21.3" fill="#000" stroke="#000">y</text>
<text x="486.88" y="889.53" font-size="14.48" fill="#000" stroke="#000">11</text>
<text x="501.33" y="884.2" font-size="21.3" fill="#000" stroke="#000">y</text>
<text x="514.18" y="889.53" font-size="14.48" fill="#000" stroke="#000">10</text>
<text x="531.53" y="884.2" font-size="21.3" fill="#000" stroke="#000">y</text>
<text x="544.38" y="889.53" font-size="14.48" fill="#000" stroke="#000">9</text>
<text x="566.13" y="884.2" font-size="21.3" fill="#000" stroke="#000">y</text>
<text x="578.98" y="889.53" font-size="14.48" fill="#000" stroke="#000">8</text>
<text x="593.33" y="884.2" font-size="21.3" fill="#000" stroke="#000">y</text>
<text x="606.18" y="889.53" font-size="14.48" fill="#000" stroke="#000">7</text>
<text x="623.43" y="884.2" font-size="21.3" fill="#000" stroke="#000">y</text>
<text x="636.28" y="889.53" font-size="14.48" fill="#000" stroke="#000">6</text>
<text x="647.53" y="884.2" font-size="21.3" fill="#000" stroke="#000">y</text>
<text x="660.38" y="889.53" font-size="14.48" fill="#000" stroke="#000">5</text>
<text x="672.23" y="884.2" font-size="21.3" fill="#000" stroke="#000">y</text>
<text x="685.08" y="889.53" font-size="14.48" fill="#000" stroke="#000">4</text>
<text x="593.59" y="808.6" font-size="21.3" fill="#000" stroke="#000">b</text>
<text x="607.61" y="813.93" font-size="14.48" fill="#000" stroke="#000">11</text>
<text x="645.69" y="808.6" font-size="21.3" fill="#000" stroke="#000">b</text>
<text x="659.71" y="813.93" font-size="14.48" fill="#000" stroke="#000">13</text>
<text x="726.19" y="808.6" font-size="21.3" fill="#000" stroke="#000">b</text>
<text x="740.21" y="813.93" font-size="14.48" fill="#000" stroke="#000">16</text>
<text x="7.45" y="850.6" font-size="37" fill="#000" stroke="#000" style="stroke-width:0">(c)</text>
<polyline points="64.3,955 64.3,1127.4" fill="none" stroke="#1a1a1a" stroke-width="1.4"/>
<polyline points="58.1,1127.4 64.3,1127.4" fill="none" stroke="#1a1a1a" stroke-width="1.3"/>
<polyline points="62.7,1118.78 64.3,1118.78" fill="none" stroke="#1a1a1a" stroke-width="1.3"/>
<polyline points="60.9,1110.16 64.3,1110.16" fill="none" stroke="#1a1a1a" stroke-width="1.3"/>
<polyline points="62.7,1101.54 64.3,1101.54" fill="none" stroke="#1a1a1a" stroke-width="1.3"/>
<polyline points="58.1,1092.92 64.3,1092.92" fill="none" stroke="#1a1a1a" stroke-width="1.3"/>
<polyline points="62.7,1084.3 64.3,1084.3" fill="none" stroke="#1a1a1a" stroke-width="1.3"/>
<polyline points="60.9,1075.68 64.3,1075.68" fill="none" stroke="#1a1a1a" stroke-width="1.3"/>
<polyline points="62.7,1067.06 64.3,1067.06" fill="none" stroke="#1a1a1a" stroke-width="1.3"/>
<polyline points="58.1,1058.44 64.3,1058.44" fill="none" stroke="#1a1a1a" stroke-width="1.3"/>
<polyline points="62.7,1049.82 64.3,1049.82" fill="none" stroke="#1a1a1a" stroke-width="1.3"/>
<polyline points="60.9,1041.2 64.3,1041.2" fill="none" stroke="#1a1a1a" stroke-width="1.3"/>
<polyline points="62.7,1032.58 64.3,1032.58" fill="none" stroke="#1a1a1a" stroke-width="1.3"/>
<polyline points="58.1,1023.96 64.3,1023.96" fill="none" stroke="#1a1a1a" stroke-width="1.3"/>
<polyline points="62.7,1015.34 64.3,1015.34" fill="none" stroke="#1a1a1a" stroke-width="1.3"/>
<polyline points="60.9,1006.72 64.3,1006.72" fill="none" stroke="#1a1a1a" stroke-width="1.3"/>
<polyline points="62.7,998.1 64.3,998.1" fill="none" stroke="#1a1a1a" stroke-width="1.3"/>
<polyline points="58.1,989.48 64.3,989.48" fill="none" stroke="#1a1a1a" stroke-width="1.3"/>
<polyline points="62.7,980.86 64.3,980.86" fill="none" stroke="#1a1a1a" stroke-width="1.3"/>
<polyline points="60.9,972.24 64.3,972.24" fill="none" stroke="#1a1a1a" stroke-width="1.3"/>
<polyline points="62.7,963.62 64.3,963.62" fill="none" stroke="#1a1a1a" stroke-width="1.3"/>
<polyline points="58.1,955 64.3,955" fill="none" stroke="#1a1a1a" stroke-width="1.3"/>
<polyline points="58.3,1127.4 981,1127.4" fill="none" stroke="#1a1a1a" stroke-width="1.5"/>
<polyline points="67.97,1127.4 67.97,1129" fill="none" stroke="#1a1a1a" stroke-width="1.2"/>
<polyline points="74.12,1127.4 74.12,1129" fill="none" stroke="#1a1a1a" stroke-width="1.2"/>
<polyline points="80.26,1127.4 80.26,1129" fill="none" stroke="#1a1a1a" stroke-width="1.2"/>
<polyline points="86.4,1127.4 86.4,1132.9" fill="none" stroke="#1a1a1a" stroke-width="1.2"/>
<polyline points="92.54,1127.4 92.54,1129" fill="none" stroke="#1a1a1a" stroke-width="1.2"/>
<polyline points="98.68,1127.4 98.68,1129" fill="none" stroke="#1a1a1a" stroke-width="1.2"/>
<polyline points="104.83,1127.4 104.83,1129" fill="none" stroke="#1a1a1a" stroke-width="1.2"/>
<polyline points="110.97,1127.4 110.97,1129" fill="none" stroke="#1a1a1a" stroke-width="1.2"/>
<polyline points="117.11,1127.4 117.11,1130.9" fill="none" stroke="#1a1a1a" stroke-width="1.2"/>
<polyline points="123.25,1127.4 123.25,1129" fill="none" stroke="#1a1a1a" stroke-width="1.2"/>
<polyline points="129.39,1127.4 129.39,1129" fill="none" stroke="#1a1a1a" stroke-width="1.2"/>
<polyline points="135.54,1127.4 135.54,1129" fill="none" stroke="#1a1a1a" stroke-width="1.2"/>
<polyline points="141.68,1127.4 141.68,1129" fill="none" stroke="#1a1a1a" stroke-width="1.2"/>
<polyline points="147.82,1127.4 147.82,1132.9" fill="none" stroke="#1a1a1a" stroke-width="1.2"/>
<polyline points="153.96,1127.4 153.96,1129" fill="none" stroke="#1a1a1a" stroke-width="1.2"/>
<polyline points="160.1,1127.4 160.1,1129" fill="none" stroke="#1a1a1a" stroke-width="1.2"/>
<polyline points="166.25,1127.4 166.25,1129" fill="none" stroke="#1a1a1a" stroke-width="1.2"/>
<polyline points="172.39,1127.4 172.39,1129" fill="none" stroke="#1a1a1a" stroke-width="1.2"/>
<polyline points="178.53,1127.4 178.53,1130.9" fill="none" stroke="#1a1a1a" stroke-width="1.2"/>
<polyline points="184.67,1127.4 184.67,1129" fill="none" stroke="#1a1a1a" stroke-width="1.2"/>
<polyline points="190.81,1127.4 190.81,1129" fill="none" stroke="#1a1a1a" stroke-width="1.2"/>
<polyline points="196.96,1127.4 196.96,1129" fill="none" stroke="#1a1a1a" stroke-width="1.2"/>
<polyline points="203.1,1127.4 203.1,1129" fill="none" stroke="#1a1a1a" stroke-width="1.2"/>
<polyline points="209.24,1127.4 209.24,1132.9" fill="none" stroke="#1a1a1a" stroke-width="1.2"/>
<polyline points="215.38,1127.4 215.38,1129" fill="none" stroke="#1a1a1a" stroke-width="1.2"/>
<polyline points="221.52,1127.4 221.52,1129" fill="none" stroke="#1a1a1a" stroke-width="1.2"/>
<polyline points="227.67,1127.4 227.67,1129" fill="none" stroke="#1a1a1a" stroke-width="1.2"/>
<polyline points="233.81,1127.4 233.81,1129" fill="none" stroke="#1a1a1a" stroke-width="1.2"/>
<polyline points="239.95,1127.4 239.95,1130.9" fill="none" stroke="#1a1a1a" stroke-width="1.2"/>
<polyline points="246.09,1127.4 246.09,1129" fill="none" stroke="#1a1a1a" stroke-width="1.2"/>
<polyline points="252.23,1127.4 252.23,1129" fill="none" stroke="#1a1a1a" stroke-width="1.2"/>
<polyline points="258.38,1127.4 258.38,1129" fill="none" stroke="#1a1a1a" stroke-width="1.2"/>
<polyline points="264.52,1127.4 264.52,1129" fill="none" stroke="#1a1a1a" stroke-width="1.2"/>
<polyline points="270.66,1127.4 270.66,1132.9" fill="none" stroke="#1a1a1a" stroke-width="1.2"/>
<polyline points="276.8,1127.4 276.8,1129" fill="none" stroke="#1a1a1a" stroke-width="1.2"/>
<polyline points="282.94,1127.4 282.94,1129" fill="none" stroke="#1a1a1a" stroke-width="1.2"/>
<polyline points="289.09,1127.4 289.09,1129" fill="none" stroke="#1a1a1a" stroke-width="1.2"/>
<polyline points="295.23,1127.4 295.23,1129" fill="none" stroke="#1a1a1a" stroke-width="1.2"/>
<polyline points="301.37,1127.4 301.37,1130.9" fill="none" stroke="#1a1a1a" stroke-width="1.2"/>
<polyline points="307.51,1127.4 307.51,1129" fill="none" stroke="#1a1a1a" stroke-width="1.2"/>
<polyline points="313.65,1127.4 313.65,1129" fill="none" stroke="#1a1a1a" stroke-width="1.2"/>
<polyline points="319.8,1127.4 319.8,1129" fill="none" stroke="#1a1a1a" stroke-width="1.2"/>
<polyline points="325.94,1127.4 325.94,1129" fill="none" stroke="#1a1a1a" stroke-width="1.2"/>
<polyline points="332.08,1127.4 332.08,1132.9" fill="none" stroke="#1a1a1a" stroke-width="1.2"/>
<polyline points="338.22,1127.4 338.22,1129" fill="none" stroke="#1a1a1a" stroke-width="1.2"/>
<polyline points="344.36,1127.4 344.36,1129" fill="none" stroke="#1a1a1a" stroke-width="1.2"/>
<polyline points="350.51,1127.4 350.51,1129" fill="none" stroke="#1a1a1a" stroke-width="1.2"/>
<polyline points="356.65,1127.4 356.65,1129" fill="none" stroke="#1a1a1a" stroke-width="1.2"/>
<polyline points="362.79,1127.4 362.79,1130.9" fill="none" stroke="#1a1a1a" stroke-width="1.2"/>
<polyline points="368.93,1127.4 368.93,1129" fill="none" stroke="#1a1a1a" stroke-width="1.2"/>
<polyline points="375.07,1127.4 375.07,1129" fill="none" stroke="#1a1a1a" stroke-width="1.2"/>
<polyline points="381.22,1127.4 381.22,1129" fill="none" stroke="#1a1a1a" stroke-width="1.2"/>
<polyline points="387.36,1127.4 387.36,1129" fill="none" stroke="#1a1a1a" stroke-width="1.2"/>
<polyline points="393.5,1127.4 393.5,1132.9" fill="none" stroke="#1a1a1a" stroke-width="1.2"/>
<polyline points="399.64,1127.4 399.64,1129" fill="none" stroke="#1a1a1a" stroke-width="1.2"/>
<polyline points="405.78,1127.4 405.78,1129" fill="none" stroke="#1a1a1a" stroke-width="1.2"/>
<polyline points="411.93,1127.4 411.93,1129" fill="none" stroke="#1a1a1a" stroke-width="1.2"/>
<polyline points="418.07,1127.4 418.07,1129" fill="none" stroke="#1a1a1a" stroke-width="1.2"/>
<polyline points="424.21,1127.4 424.21,1130.9" fill="none" stroke="#1a1a1a" stroke-width="1.2"/>
<polyline points="430.35,1127.4 430.35,1129" fill="none" stroke="#1a1a1a" stroke-width="1.2"/>
<polyline points="436.49,1127.4 436.49,1129" fill="none" stroke="#1a1a1a" stroke-width="1.2"/>
<polyline points="442.64,1127.4 442.64,1129" fill="none" stroke="#1a1a1a" stroke-width="1.2"/>
<polyline points="448.78,1127.4 448.78,1129" fill="none" stroke="#1a1a1a" stroke-width="1.2"/>
<polyline points="454.92,1127.4 454.92,1132.9" fill="none" stroke="#1a1a1a" stroke-width="1.2"/>
<polyline points="461.06,1127.4 461.06,1129" fill="none" stroke="#1a1a1a" stroke-width="1.2"/>
<polyline points="467.2,1127.4 467.2,1129" fill="none" stroke="#1a1a1a" stroke-width="1.2"/>
<polyline points="473.35,1127.4 473.35,1129" fill="none" stroke="#1a1a1a" stroke-width="1.2"/>
<polyline points="479.49,1127.4 479.49,1129" fill="none" stroke="#1a1a1a" stroke-width="1.2"/>
<polyline points="485.63,1127.4 485.63,1130.9" fill="none" stroke="#1a1a1a" stroke-width="1.2"/>
<polyline points="491.77,1127.4 491.77,1129" fill="none" stroke="#1a1a1a" stroke-width="1.2"/>
<polyline points="497.91,1127.4 497.91,1129" fill="none" stroke="#1a1a1a" stroke-width="1.2"/>
<polyline points="504.06,1127.4 504.06,1129" fill="none" stroke="#1a1a1a" stroke-width="1.2"/>
<polyline points="510.2,1127.4 510.2,1129" fill="none" stroke="#1a1a1a" stroke-width="1.2"/>
<polyline points="516.34,1127.4 516.34,1132.9" fill="none" stroke="#1a1a1a" stroke-width="1.2"/>
<polyline points="522.48,1127.4 522.48,1129" fill="none" stroke="#1a1a1a" stroke-width="1.2"/>
<polyline points="528.62,1127.4 528.62,1129" fill="none" stroke="#1a1a1a" stroke-width="1.2"/>
<polyline points="534.77,1127.4 534.77,1129" fill="none" stroke="#1a1a1a" stroke-width="1.2"/>
<polyline points="540.91,1127.4 540.91,1129" fill="none" stroke="#1a1a1a" stroke-width="1.2"/>
<polyline points="547.05,1127.4 547.05,1130.9" fill="none" stroke="#1a1a1a" stroke-width="1.2"/>
<polyline points="553.19,1127.4 553.19,1129" fill="none" stroke="#1a1a1a" stroke-width="1.2"/>
<polyline points="559.33,1127.4 559.33,1129" fill="none" stroke="#1a1a1a" stroke-width="1.2"/>
<polyline points="565.48,1127.4 565.48,1129" fill="none" stroke="#1a1a1a" stroke-width="1.2"/>
<polyline points="571.62,1127.4 571.62,1129" fill="none" stroke="#1a1a1a" stroke-width="1.2"/>
<polyline points="577.76,1127.4 577.76,1132.9" fill="none" stroke="#1a1a1a" stroke-width="1.2"/>
<polyline points="583.9,1127.4 583.9,1129" fill="none" stroke="#1a1a1a" stroke-width="1.2"/>
<polyline points="590.04,1127.4 590.04,1129" fill="none" stroke="#1a1a1a" stroke-width="1.2"/>
<polyline points="596.19,1127.4 596.19,1129" fill="none" stroke="#1a1a1a" stroke-width="1.2"/>
<polyline points="602.33,1127.4 602.33,1129" fill="none" stroke="#1a1a1a" stroke-width="1.2"/>
<polyline points="608.47,1127.4 608.47,1130.9" fill="none" stroke="#1a1a1a" stroke-width="1.2"/>
<polyline points="614.61,1127.4 614.61,1129" fill="none" stroke="#1a1a1a" stroke-width="1.2"/>
<polyline points="620.75,1127.4 620.75,1129" fill="none" stroke="#1a1a1a" stroke-width="1.2"/>
<polyline points="626.9,1127.4 626.9,1129" fill="none" stroke="#1a1a1a" stroke-width="1.2"/>
<polyline points="633.04,1127.4 633.04,1129" fill="none" stroke="#1a1a1a" stroke-width="1.2"/>
<polyline points="639.18,1127.4 639.18,1132.9" fill="none" stroke="#1a1a1a" stroke-width="1.2"/>
<polyline points="645.32,1127.4 645.32,1129" fill="none" stroke="#1a1a1a" stroke-width="1.2"/>
<polyline points="651.46,1127.4 651.46,1129" fill="none" stroke="#1a1a1a" stroke-width="1.2"/>
<polyline points="657.61,1127.4 657.61,1129" fill="none" stroke="#1a1a1a" stroke-width="1.2"/>
<polyline points="663.75,1127.4 663.75,1129" fill="none" stroke="#1a1a1a" stroke-width="1.2"/>
<polyline points="669.89,1127.4 669.89,1130.9" fill="none" stroke="#1a1a1a" stroke-width="1.2"/>
<polyline points="676.03,1127.4 676.03,1129" fill="none" stroke="#1a1a1a" stroke-width="1.2"/>
<polyline points="682.17,1127.4 682.17,1129" fill="none" stroke="#1a1a1a" stroke-width="1.2"/>
<polyline points="688.32,1127.4 688.32,1129" fill="none" stroke="#1a1a1a" stroke-width="1.2"/>
<polyline points="694.46,1127.4 694.46,1129" fill="none" stroke="#1a1a1a" stroke-width="1.2"/>
<polyline points="700.6,1127.4 700.6,1132.9" fill="none" stroke="#1a1a1a" stroke-width="1.2"/>
<polyline points="706.74,1127.4 706.74,1129" fill="none" stroke="#1a1a1a" stroke-width="1.2"/>
<polyline points="712.88,1127.4 712.88,1129" fill="none" stroke="#1a1a1a" stroke-width="1.2"/>
<polyline points="719.03,1127.4 719.03,1129" fill="none" stroke="#1a1a1a" stroke-width="1.2"/>
<polyline points="725.17,1127.4 725.17,1129" fill="none" stroke="#1a1a1a" stroke-width="1.2"/>
<polyline points="731.31,1127.4 731.31,1130.9" fill="none" stroke="#1a1a1a" stroke-width="1.2"/>
<polyline points="737.45,1127.4 737.45,1129" fill="none" stroke="#1a1a1a" stroke-width="1.2"/>
<polyline points="743.59,1127.4 743.59,1129" fill="none" stroke="#1a1a1a" stroke-width="1.2"/>
<polyline points="749.74,1127.4 749.74,1129" fill="none" stroke="#1a1a1a" stroke-width="1.2"/>
<polyline points="755.88,1127.4 755.88,1129" fill="none" stroke="#1a1a1a" stroke-width="1.2"/>
<polyline points="762.02,1127.4 762.02,1132.9" fill="none" stroke="#1a1a1a" stroke-width="1.2"/>
<polyline points="768.16,1127.4 768.16,1129" fill="none" stroke="#1a1a1a" stroke-width="1.2"/>
<polyline points="774.3,1127.4 774.3,1129" fill="none" stroke="#1a1a1a" stroke-width="1.2"/>
<polyline points="780.45,1127.4 780.45,1129" fill="none" stroke="#1a1a1a" stroke-width="1.2"/>
<polyline points="786.59,1127.4 786.59,1129" fill="none" stroke="#1a1a1a" stroke-width="1.2"/>
<polyline points="792.73,1127.4 792.73,1130.9" fill="none" stroke="#1a1a1a" stroke-width="1.2"/>
<polyline points="798.87,1127.4 798.87,1129" fill="none" stroke="#1a1a1a" stroke-width="1.2"/>
<polyline points="805.01,1127.4 805.01,1129" fill="none" stroke="#1a1a1a" stroke-width="1.2"/>
<polyline points="811.16,1127.4 811.16,1129" fill="none" stroke="#1a1a1a" stroke-width="1.2"/>
<polyline points="817.3,1127.4 817.3,1129" fill="none" stroke="#1a1a1a" stroke-width="1.2"/>
<polyline points="823.44,1127.4 823.44,1132.9" fill="none" stroke="#1a1a1a" stroke-width="1.2"/>
<polyline points="829.58,1127.4 829.58,1129" fill="none" stroke="#1a1a1a" stroke-width="1.2"/>
<polyline points="835.72,1127.4 835.72,1129" fill="none" stroke="#1a1a1a" stroke-width="1.2"/>
<polyline points="841.87,1127.4 841.87,1129" fill="none" stroke="#1a1a1a" stroke-width="1.2"/>
<polyline points="848.01,1127.4 848.01,1129" fill="none" stroke="#1a1a1a" stroke-width="1.2"/>
<polyline points="854.15,1127.4 854.15,1130.9" fill="none" stroke="#1a1a1a" stroke-width="1.2"/>
<polyline points="860.29,1127.4 860.29,1129" fill="none" stroke="#1a1a1a" stroke-width="1.2"/>
<polyline points="866.43,1127.4 866.43,1129" fill="none" stroke="#1a1a1a" stroke-width="1.2"/>
<polyline points="872.58,1127.4 872.58,1129" fill="none" stroke="#1a1a1a" stroke-width="1.2"/>
<polyline points="878.72,1127.4 878.72,1129" fill="none" stroke="#1a1a1a" stroke-width="1.2"/>
<polyline points="884.86,1127.4 884.86,1132.9" fill="none" stroke="#1a1a1a" stroke-width="1.2"/>
<polyline points="891,1127.4 891,1129" fill="none" stroke="#1a1a1a" stroke-width="1.2"/>
<polyline points="897.14,1127.4 897.14,1129" fill="none" stroke="#1a1a1a" stroke-width="1.2"/>
<polyline points="903.29,1127.4 903.29,1129" fill="none" stroke="#1a1a1a" stroke-width="1.2"/>
<polyline points="909.43,1127.4 909.43,1129" fill="none" stroke="#1a1a1a" stroke-width="1.2"/>
<polyline points="915.57,1127.4 915.57,1130.9" fill="none" stroke="#1a1a1a" stroke-width="1.2"/>
<polyline points="921.71,1127.4 921.71,1129" fill="none" stroke="#1a1a1a" stroke-width="1.2"/>
<polyline points="927.85,1127.4 927.85,1129" fill="none" stroke="#1a1a1a" stroke-width="1.2"/>
<polyline points="934,1127.4 934,1129" fill="none" stroke="#1a1a1a" stroke-width="1.2"/>
<polyline points="940.14,1127.4 940.14,1129" fill="none" stroke="#1a1a1a" stroke-width="1.2"/>
<polyline points="946.28,1127.4 946.28,1132.9" fill="none" stroke="#1a1a1a" stroke-width="1.2"/>
<polyline points="952.42,1127.4 952.42,1129" fill="none" stroke="#1a1a1a" stroke-width="1.2"/>
<polyline points="958.56,1127.4 958.56,1129" fill="none" stroke="#1a1a1a" stroke-width="1.2"/>
<polyline points="964.71,1127.4 964.71,1129" fill="none" stroke="#1a1a1a" stroke-width="1.2"/>
<polyline points="970.85,1127.4 970.85,1129" fill="none" stroke="#1a1a1a" stroke-width="1.2"/>
<polyline points="976.99,1127.4 976.99,1130.9" fill="none" stroke="#1a1a1a" stroke-width="1.2"/>
<text x="74.15" y="1152.2" font-size="18" fill="#000" stroke="#000">300</text>
<text x="135.74" y="1152.2" font-size="18" fill="#000" stroke="#000">400</text>
<text x="197.12" y="1152.2" font-size="18" fill="#000" stroke="#000">500</text>
<text x="258.58" y="1152.2" font-size="18" fill="#000" stroke="#000">600</text>
<text x="320.05" y="1152.2" font-size="18" fill="#000" stroke="#000">700</text>
<text x="381.67" y="1152.2" font-size="18" fill="#000" stroke="#000">800</text>
<text x="443.16" y="1152.2" font-size="18" fill="#000" stroke="#000">900</text>
<text x="500.93" y="1152.2" font-size="18" fill="#000" stroke="#000">1000</text>
<text x="562.84" y="1152.2" font-size="18" fill="#000" stroke="#000">1100</text>
<text x="623.77" y="1152.2" font-size="18" fill="#000" stroke="#000">1200</text>
<text x="685.19" y="1152.2" font-size="18" fill="#000" stroke="#000">1300</text>
<text x="746.61" y="1152.2" font-size="18" fill="#000" stroke="#000">1400</text>
<text x="808.03" y="1152.2" font-size="18" fill="#000" stroke="#000">1500</text>
<text x="869.45" y="1152.2" font-size="18" fill="#000" stroke="#000">1600</text>
<text x="930.87" y="1152.2" font-size="18" fill="#000" stroke="#000">1700</text>
<text x="45.88" y="1133.83" font-size="18.1" fill="#000" stroke="#000">0</text>
<text x="35.81" y="1099.35" font-size="18.1" fill="#000" stroke="#000">20</text>
<text x="35.81" y="1064.87" font-size="18.1" fill="#000" stroke="#000">40</text>
<text x="35.81" y="1030.39" font-size="18.1" fill="#000" stroke="#000">60</text>
<text x="35.81" y="995.91" font-size="18.1" fill="#000" stroke="#000">80</text>
<text x="25.75" y="961.43" font-size="18.1" fill="#000" stroke="#000">100</text>
<text transform="translate(14.2 1048.4) rotate(-90)" font-size="16.6" text-anchor="middle" stroke="#000">Relative abundance (%)</text>
<text transform="translate(510.4 1172) scale(1.04 1)" font-size="17" font-style="italic" stroke="#000">m/z</text>
<polyline points="64.8,1127.26 66.45,1127.03 68.23,1127.3 69.51,1127.32 70.79,1127 72,1127.11 73.27,1127.24 74.71,1126.95 76.3,1127.39 77.62,1127.32 79.42,1126.96 81.16,1126.95 82.86,1126.89 84.59,1127.26 86.37,1127.14 88.08,1127.1 89.52,1127.2 90.96,1127.23 92.16,1126.96 93.9,1126.87 95.55,1127.1 97.25,1127.33 98.89,1127.16 100.13,1127.29 101.65,1127.26 103.12,1127.07 104.53,1127.33 106.03,1127.27 107.31,1127.29 108.71,1127.36 110.33,1126.89 111.74,1127.01 113.59,1127.38 114.8,1126.96 116.57,1127.05 117.8,1127.18 119.59,1126.92 121.34,1127.29 123.12,1127.2 124.79,1127.33 126.67,1127.07 128.35,1127.29 129.94,1127.09 131.51,1127.21 133.2,1127.22 134.53,1127.31 136.18,1127.34 137.46,1127.36 139.07,1127.1 140.61,1127.38 142.06,1127.21 143.24,1127.4 145.13,1127.33 146.47,1127.25 148.05,1127.36 149.53,1127.2 151.3,1127.4 152.66,1127.13 154.54,1127.12 156.02,1127.04 157.36,1127.38 158.86,1126.91 160.55,1127.26 162.2,1126.94 163.5,1127.08 164.89,1127.27 166.22,1127.29 167.6,1127.38 169.02,1127.35 170.72,1127.08 171.83,1126.98 173.08,1127.14 174.62,1127.22 175.95,1127.17 177.16,1126.93 178.35,1126.96 179.63,1127.24 181.04,1127.38 182.24,1127.21 183.69,1126.93 185.59,1127.38 187.11,1127.33 188.86,1127.23 190.67,1127.11 191.87,1127.4 193.17,1126.93 194.39,1127.14 195.79,1127.21 197.53,1127.28 199.2,1127.04 201.05,1127.12 202.89,1127.16 204.45,1127.06 206.22,1126.92 207.41,1127.33 208.94,1126.96 210.46,1127.24 212.33,1127.24 213.5,1127.37 214.63,1127.01 215.81,1127.01 217.61,1126.86 219.35,1127.17 220.95,1126.95 222.62,1127.24 224.33,1127.34 225.68,1126.86 227.16,1127.26 228.89,1127.16 229.99,1127.38 231.3,1127.22 233.14,1127.27 234.93,1126.94 236.36,1126.86 238.07,1127.14 239.38,1127.15 241.2,1127.11 242.45,1127.2 243.93,1127.3 245.49,1127.38 247.25,1127.3 248.43,1127.08 249.78,1126.92 251.28,1127.12 253.04,1127.28 254.74,1127.05 256.18,1126.88 257.3,1126.93 258.51,1126.95 259.74,1127.37 261.24,1126.9 262.54,1127.14 264.13,1127.27 265.65,1127.39 267.11,1126.99 268.49,1127.28 269.63,1127.02 271.07,1126.91 272.76,1127.35 274.59,1126.9 276.35,1126.95 277.99,1127.01 279.62,1127.08 280.93,1127.33 282.61,1127.08 283.76,1127.05 285.34,1127.12 287.06,1126.93 288.47,1126.96 289.97,1127.09 291.4,1126.9 292.86,1126.89 294.23,1127.04 296.06,1127.03 297.46,1127.36 298.94,1127.18 300.69,1126.98 302.58,1127.16 304.01,1127.1 305.71,1127.36 306.98,1127.32 308.34,1127.24 310.21,1127.29 312.06,1127.24 313.32,1126.87 314.5,1127.34 315.7,1127.36 317.11,1127.29 318.33,1127.39 319.99,1127.37 321.28,1127.09 323.09,1127.04 324.75,1127.02 326.49,1126.94 327.71,1127.37 329.31,1127.12 330.83,1126.98 332.07,1127.02 333.51,1127.17 334.8,1127.25 336.37,1127.1 338.19,1127.25 339.87,1127.35 341.49,1127.31 343.27,1126.88 344.58,1126.96 345.85,1127.24 347.03,1127.16 348.22,1127.02 349.78,1127.17 351.45,1127.27 352.81,1127.2 353.91,1126.92 355.08,1127.35 356.82,1126.96 358.28,1127.17 359.49,1127.4 361.01,1127.27 362.23,1126.91 363.34,1127.2 365.05,1127 366.23,1127 367.78,1127.06 369.64,1126.97 371.22,1126.98 372.71,1127.1 374.46,1127.07 375.86,1127.39 377.6,1127.22 379.04,1127.24 380.58,1127.18 382.35,1127.08 383.9,1126.98 385.35,1127.11 387.05,1127.01 388.75,1126.92 390.29,1127.1 391.54,1127.27 392.99,1127.13 394.81,1127.38 396.19,1127 397.66,1126.94 398.88,1126.98 400.33,1127.09 401.47,1127.18 403.22,1127 404.77,1127.17 405.9,1127.02 407.36,1127.01 408.95,1127.18 410.75,1127.33 412.61,1127.35 414.49,1127.08 415.95,1126.89 417.46,1127.13 418.6,1126.97 420.22,1127.27 421.41,1127.17 423.25,1126.93 424.73,1127.38 426.49,1127.29 428.17,1127.13 430.05,1127.32 431.78,1127.01 432.89,1127.09 434.23,1127.02 436.1,1127.04 437.59,1127.07 438.89,1127.15 440.09,1127.01 441.24,1127.12 442.48,1127.1 443.63,1127.39 445.23,1127.01 447.04,1127.03 448.94,1127.32 450.54,1127.06 451.78,1127.32 453.07,1127.12 454.8,1127.02 456.36,1127.36 458.04,1127.12 459.27,1127.07 460.57,1127.23 462.03,1126.99 463.21,1127.16 464.5,1127.04 466.25,1127.26 467.93,1127.15 469.2,1127.25 470.74,1126.96 472.32,1127.4 474.04,1127.09 475.48,1127.27 476.93,1127.03 478.25,1127.33 480.05,1127.16 481.21,1126.92 482.4,1127.2 483.99,1127.04 485.81,1127.3 487.37,1126.93 488.84,1127.01 490.31,1127.01 492.18,1127.22 493.87,1127.21 495.68,1126.99 497.47,1126.93 499.04,1126.89 500.27,1127.09 501.43,1127.09 503.08,1127.25 504.83,1127.17 506.08,1127.3 507.65,1127.19 508.78,1127.23 510.66,1127.14 512.31,1127.17 513.47,1127.07 514.73,1127.33 516.33,1127.04 517.44,1126.89 518.55,1127.31 519.92,1126.97 521.61,1127 523.05,1126.91 524.26,1126.88 525.4,1127.32 527.1,1126.98 528.74,1127.27 530.53,1127.12 531.8,1127.35 533.69,1127.37 534.97,1127.21 536.78,1126.95 538.55,1127.06 539.66,1127 540.92,1126.89 542.79,1127.36 544.48,1127.27 545.66,1126.93 547.11,1127.24 548.66,1127.37 550.1,1127.05 551.89,1127.33 553.71,1127.34 554.97,1127.22 556.21,1127.35 557.83,1127.18 559.08,1127.12 560.28,1127.03 562.15,1127.15 563.59,1127.18 564.99,1127.18 566.23,1127.24 567.88,1127.14 569.03,1127.32 570.81,1127.21 572.57,1127.07 574.17,1127.21 575.74,1127.18 577.25,1126.89 578.44,1127.28 580.26,1126.9 582.01,1126.94 583.19,1127.01 584.39,1126.94 585.81,1127.14 587.32,1127.29 588.88,1126.93 590.34,1127.16 591.73,1127.3 593.06,1126.95 594.93,1127.2 596.26,1127.22 598.05,1127.26 599.3,1127.23 600.46,1127.32 601.75,1127.05 603.59,1127.26 604.93,1127.08 606.05,1127.35 607.61,1127.15 608.99,1127.18 610.11,1127.26 611.35,1127.27 612.5,1126.96 613.62,1127.18 614.86,1127.29 616.56,1126.88 618.44,1127.22 619.97,1127.17 621.13,1127.17 622.72,1127.18 624.45,1127.16 625.78,1126.92 627.34,1127.26 629.16,1127.14 630.75,1127.15 632.53,1127 633.99,1127.2 635.71,1126.95 637.29,1126.93 638.81,1127.18 640.16,1127.25 641.39,1126.9 642.93,1127.35 644.19,1127.17 645.94,1126.94 647.65,1127.24 649.09,1126.89 650.5,1127.05 651.64,1127.14 653.14,1126.91 655.01,1126.99 656.38,1126.93 658.21,1127.36 659.65,1127.1 660.99,1127.27 662.72,1127.29 664.27,1127.39 665.73,1126.88 666.84,1127.34 668.66,1126.91 670.16,1127.24 671.5,1127 673.07,1127.16 674.72,1127.35 676.13,1126.93 677.96,1127.14 679.69,1126.92 681.2,1127.32 682.39,1127.04 683.76,1127.12 684.89,1126.89 686.22,1127.06 687.81,1127.21 689.08,1127.1 690.44,1127.36 691.68,1127.38 693.5,1127.29 695.34,1127.07 697.2,1127.15 698.51,1127.35 700.1,1127.02 701.75,1126.91 702.93,1127.05 704.59,1126.89 705.89,1126.9 707.01,1127.08 708.37,1127.12 709.61,1127.19 710.99,1127.15 712.41,1127.28 713.65,1127.15 715.54,1126.94 716.76,1127.06 717.98,1127.22 719.88,1127.22 721.06,1127.1 722.63,1127.12 724.49,1127.12 725.88,1127.29 727.44,1127 728.94,1127.19 730.25,1126.94 732.14,1127.08 733.81,1127.22 735.03,1127.37 736.63,1126.9 738.28,1127.04 740.07,1127.18 741.51,1127.26 743.28,1127.03 744.79,1126.98 746.62,1127.38 747.9,1127.15 749.57,1127.27 751.03,1127.04 752.36,1127.04 753.51,1127.18 755.12,1126.93 756.63,1127.04 758.26,1127.05 759.72,1127.23 760.92,1126.92 762.64,1127.05 764.35,1127.23 765.59,1127.11 767.06,1127.05 768.86,1127.19 770.26,1127.02 772.07,1127.09 773.64,1126.92 775.48,1127.38 777.36,1127.35 778.9,1127.13 780.78,1127.27 781.92,1126.88 783.38,1127.15 784.82,1127.25 785.95,1127.1 787.22,1127.13 789.12,1126.87 790.46,1127.22 791.66,1127.07 792.9,1127.33 794.74,1127.1 796.55,1127.28 797.79,1127.09 799.44,1127.3 800.94,1127.1 802.44,1127.23 803.9,1127.34 805.08,1127.37 806.85,1127.27 808.49,1127.34 810.29,1127.38 812.04,1127.11 813.86,1126.92 814.97,1127.37 816.27,1127.38 818.07,1127.32 819.71,1126.89 821.37,1126.86 822.99,1127.19 824.87,1127.28 826.41,1127.18 827.94,1127.24 829.81,1126.86 831.47,1127.13 833.33,1126.89 834.47,1126.92 835.66,1127.35 836.96,1127.2 838.45,1126.88 839.67,1127.05 841.17,1127.33 843.07,1126.91 844.44,1126.93 845.9,1127.04 847.75,1127.05 849.14,1127.37 850.61,1127.09 851.93,1127.09 853.04,1127.26 854.52,1127.14 856.19,1127.27 857.51,1127 858.84,1127.32 860.44,1127.21 862.01,1126.88 863.89,1126.97 865.76,1126.97 867.15,1126.9 868.35,1127.29 869.86,1127.33 871.44,1127.11 872.71,1127 873.87,1127.14 875.19,1126.89 876.41,1127.19 878.08,1127.24 879.84,1127.34 881,1127.39 882.55,1127.14 884.08,1127.15 885.88,1127.28 887.1,1127.27 888.86,1126.96 890.05,1127.4 891.94,1126.88 893.26,1127.11 894.4,1127.13 895.64,1127.03 896.86,1127.1 898.23,1127.14 900.09,1127.12 901.97,1127.01 903.25,1127.26 905,1126.98 906.22,1126.96 907.56,1127.09 909.37,1126.9 910.61,1127.32 911.92,1127.07 913.79,1127.05 915.5,1126.96 916.98,1127.2 918.72,1127.06 920.53,1126.86 922,1127.21 923.21,1127.08 924.56,1127.23 926.06,1127.01 927.71,1127.15 929.33,1127.06 931.16,1127.03 932.94,1127.27 934.72,1127.4 936.47,1127.39 938.06,1127.25 939.29,1127 940.5,1127.03 941.66,1127.29 943.08,1127.09 944.71,1127.21 946.5,1127.38 947.76,1127.19 949.34,1127.05 951.15,1127.21 952.77,1127.03 954,1127.2 955.45,1127.08 956.97,1127.33 958.24,1127.22 959.4,1126.98 961.22,1127 962.5,1127.08 963.62,1127.29 964.93,1127.08 966.49,1127.11 967.72,1127.13 969.42,1126.93 970.81,1127.16 972.61,1127.38 974.19,1127.34 975.94,1127.04 977.1,1127.38 978.95,1127.23" fill="none" stroke="#222" stroke-width="1.1"/>
<path d="M66.3 1127.4V1123.87M70.31 1127.4V1124.71M74.03 1127.4V1124.82M81.38 1127.4V1126.43M88.77 1127.4V1123.88M94.86 1127.4V1124.97M98.17 1127.4V1126.37M100.31 1127.4V1125.13M105.34 1127.4V1125.13M111.82 1127.4V1125.5M119.31 1127.4V1126.43M125.27 1127.4V1124.83M131.67 1127.4V1124.43M136.09 1127.4V1125.32M141.2 1127.4V1124.99M144.45 1127.4V1125.87M150.66 1127.4V1124.86M156.68 1127.4V1125.61M159.41 1127.4V1125.94M162.55 1127.4V1126.41M165.03 1127.4V1124.93M168.65 1127.4V1124.29M174.02 1127.4V1125.81M179.62 1127.4V1124.71M183.27 1127.4V1125.5M187.47 1127.4V1123.81M190.72 1127.4V1123.59M196.72 1127.4V1126.39M200.17 1127.4V1126.23M203.63 1127.4V1124.5M206.39 1127.4V1124.2M211.68 1127.4V1125.82M217.88 1127.4V1125.59M222.29 1127.4V1126.44M226.54 1127.4V1126.02M233.93 1127.4V1124.66M241.71 1127.4V1126.44M245.86 1127.4V1124.01M248.66 1127.4V1124.34M251.7 1127.4V1126.44M256.07 1127.4V1124.94M259.24 1127.4V1126.43M261.54 1127.4V1125.84M269.15 1127.4V1125.28M271.58 1127.4V1126.13M278.1 1127.4V1126.02M280.7 1127.4V1125.02M285.37 1127.4V1125.33M291.35 1127.4V1124.53M296 1127.4V1126.36M301.08 1127.4V1124.09M308 1127.4V1125.53M312.35 1127.4V1126.34M317.78 1127.4V1124.45M322.97 1127.4V1124.27M330.64 1127.4V1126.41M335.59 1127.4V1124.37M343.41 1127.4V1126.38M350.44 1127.4V1124.88M354.76 1127.4V1125.12M361.41 1127.4V1126.32M364.01 1127.4V1125.16M369.5 1127.4V1125.18M377.28 1127.4V1126.19M381.35 1127.4V1124.54M389 1127.4V1126.1M395.73 1127.4V1126.37M402.2 1127.4V1123.42M409.46 1127.4V1124.78M417.36 1127.4V1124.03M422.69 1127.4V1124.73M429.38 1127.4V1123.92M432.71 1127.4V1125.96M437.21 1127.4V1126.34M439.82 1127.4V1125.68M446.82 1127.4V1126.09M453.48 1127.4V1125.14M459.11 1127.4V1126.36M466.15 1127.4V1126.07M470.25 1127.4V1126.4M474.92 1127.4V1126.26M479.76 1127.4V1124.74M483.05 1127.4V1125.08M485.97 1127.4V1125.64M492.44 1127.4V1124.52M496.72 1127.4V1124.4M502.8 1127.4V1125.95M506.81 1127.4V1125.17M514.25 1127.4V1124.59M517.07 1127.4V1125.12M522.22 1127.4V1125.67M529.03 1127.4V1124.33M534.08 1127.4V1125.92M537.91 1127.4V1126.01M540.81 1127.4V1125.15M546.21 1127.4V1126.42M553.28 1127.4V1124.7M557.85 1127.4V1123.91M565.67 1127.4V1125.24M568.65 1127.4V1126.17M575.92 1127.4V1126.4M581.44 1127.4V1124.69M586.31 1127.4V1126.44M592.06 1127.4V1124.18M597.63 1127.4V1125.15M602.37 1127.4V1126.43M607.54 1127.4V1125.34M613.57 1127.4V1125.01M621.39 1127.4V1125.92M626.04 1127.4V1125.36M631.57 1127.4V1126.03M639.14 1127.4V1126.42M644.53 1127.4V1124.64M651.51 1127.4V1126.36M654.83 1127.4V1124.82M659.27 1127.4V1124.56M664.88 1127.4V1126.11M670.55 1127.4V1126.13M675.43 1127.4V1125.22M681.68 1127.4V1125.87M683.94 1127.4V1125.33M691.36 1127.4V1125.15M697.72 1127.4V1123.9M699.93 1127.4V1126.21M705.06 1127.4V1121.69M710.86 1127.4V1125.39M724 1127.4V1126.15M731.86 1127.4V1124.85M739.43 1127.4V1123.07M745.91 1127.4V1126.3M757.18 1127.4V1124.61M784.93 1127.4V1126.15M790.82 1127.4V1126.39M806.42 1127.4V1123.79M823.58 1127.4V1126.1M848.87 1127.4V1122.03M862.92 1127.4V1125.93M883.21 1127.4V1126.08M887.15 1127.4V1124.27M937.84 1127.4V1124.84M941.27 1127.4V1124.39M946 1127.4V1126.32M949.4 1127.4V1125.3M954.07 1127.4V1126.39" stroke="#2a2a2a" stroke-width="1.05" fill="none"/>
<path d="M174.9 1127.4V1062.1M227.9 1127.4V1063M282.2 1127.4V1062.1M351.5 1127.4V1108.2M386.2 1127.4V1087.1M390.7 1127.4V1086.2M218 1127.4V1117.9M221 1127.4V1117.9M192.4 1127.4V1120.3M195.4 1127.4V1120.3M273.8 1127.4V1117.9M284.3 1127.4V1116.4M313 1127.4V1119M335.6 1127.4V1121M364.2 1127.4V1119M374.1 1127.4V1120M384.7 1127.4V1102.8M394.3 1127.4V1118M396.6 1127.4V1114.3M425.8 1127.4V1102.8M454.8 1127.4V1099.8M460.5 1127.4V1097.7M465.9 1127.4V1120.3M535.3 1127.4V1093.2M545.8 1127.4V1111.2M551.2 1127.4V1117.9M554.3 1127.4V1121M557.3 1127.4V1112.7M581.4 1127.4V1115M591 1127.4V1112.4M597.6 1127.4V955.7M601 1127.4V1119M650.3 1127.4V1097.5M657.6 1127.4V1071.8M661 1127.4V1090.2M592 1127.4V1112.4M583 1127.4V1120M623.7 1127.4V1123M681.9 1127.4V1117M693 1127.4V1120M703 1127.4V1110.9M714.8 1127.4V1104.9M727.1 1127.4V1104M737.4 1127.4V1109.4M746.4 1127.4V1110M757.3 1127.4V1077.7M768.4 1127.4V1108.5M824.2 1127.4V1121M825.4 1127.4V1118M862.1 1127.4V1118M866.4 1127.4V1120M877 1127.4V1115.4M879.4 1127.4V1114.7M941 1127.4V1121M950.5 1127.4V1115.8M150 1127.4V1121M160 1127.4V1122M168 1127.4V1120M240 1127.4V1121M250 1127.4V1121M262 1127.4V1120M300 1127.4V1121M325 1127.4V1122M345 1127.4V1121M355 1127.4V1120M405 1127.4V1120M415 1127.4V1121M440 1127.4V1121M475 1127.4V1122M510 1127.4V1121M520 1127.4V1120M565 1127.4V1121M575 1127.4V1120M610 1127.4V1121M640 1127.4V1122M668 1127.4V1120M720 1127.4V1121M775 1127.4V1122M790 1127.4V1121M800 1127.4V1122M845 1127.4V1122" stroke="#4d4d4d" stroke-width="1.75" fill="none"/>
<path d="M175.8 1127.4V1107.81M228.8 1127.4V1108.08M283.1 1127.4V1107.81M387.1 1127.4V1115.31M391.6 1127.4V1115.04M598.5 1127.4V1075.89M658.5 1127.4V1110.72M758.2 1127.4V1112.49" stroke="#2a2a2a" stroke-width="1.2" fill="none"/>
<text x="140.17" y="1019" font-size="22.2" fill="#000" stroke="#000">444.38</text>
<text x="165.03" y="992.3" font-size="21.6" fill="#000" stroke="#000">y</text>
<text x="177.04" y="997.59" font-size="14.26" fill="#000" stroke="#000">4</text>
<polyline points="179.1,1025.9 175.2,1059.1" fill="none" stroke="#3a3a3a" stroke-width="1.55"/>
<text x="211.31" y="1010.8" font-size="22.2" fill="#000" stroke="#000">531.50</text>
<text x="235.03" y="984.1" font-size="21.6" fill="#000" stroke="#000">y</text>
<text x="247.04" y="989.39" font-size="14.26" fill="#000" stroke="#000">5</text>
<polyline points="242.1,1018.4 227.9,1056.1" fill="none" stroke="#3a3a3a" stroke-width="1.55"/>
<text x="281.38" y="1020.8" font-size="22.2" fill="#000" stroke="#000">618.55</text>
<text x="305.23" y="994.1" font-size="21.6" fill="#000" stroke="#000">y</text>
<text x="317.24" y="999.39" font-size="14.26" fill="#000" stroke="#000">6</text>
<polyline points="309.3,1028.3 285.2,1063" fill="none" stroke="#3a3a3a" stroke-width="1.55"/>
<text x="332.45" y="1047" font-size="22.2" fill="#000" stroke="#000">731.40</text>
<text x="356.53" y="1020.3" font-size="21.6" fill="#000" stroke="#000">y</text>
<text x="368.54" y="1025.59" font-size="14.26" fill="#000" stroke="#000">7</text>
<polyline points="368.7,1052.1 368.7,1094.4 352.1,1103.7" fill="none" stroke="#3a3a3a" stroke-width="1.55"/>
<text x="387.45" y="1019.9" font-size="22.2" fill="#000" stroke="#000">788.65</text>
<text x="411.53" y="993.2" font-size="21.6" fill="#000" stroke="#000">y</text>
<text x="423.54" y="998.49" font-size="14.26" fill="#000" stroke="#000">8</text>
<polyline points="412.6,1028 386.2,1080.2" fill="none" stroke="#3a3a3a" stroke-width="1.55"/>
<text x="461.22" y="1028.9" font-size="22.2" fill="#000" stroke="#000">916.83</text>
<text x="486.83" y="1002.2" font-size="21.6" fill="#000" stroke="#000">y</text>
<text x="498.84" y="1007.49" font-size="14.26" fill="#000" stroke="#000">9</text>
<polyline points="497.6,1039.5 497.6,1098.3 465.9,1117.9" fill="none" stroke="#3a3a3a" stroke-width="1.55"/>
<text x="515.8" y="1071.1" font-size="22.2" fill="#000" stroke="#000">1030.76</text>
<text x="542.63" y="1044.4" font-size="21.6" fill="#000" stroke="#000">y</text>
<text x="554.64" y="1049.69" font-size="14.26" fill="#000" stroke="#000">10</text>
<polyline points="550.9,1079.3 537.7,1096.2" fill="none" stroke="#3a3a3a" stroke-width="1.55"/>
<text x="631.4" y="953.5" font-size="22.2" fill="#000" stroke="#000">1131.58</text>
<text x="658.33" y="926.8" font-size="21.6" fill="#000" stroke="#000">y</text>
<text x="670.34" y="932.09" font-size="14.26" fill="#000" stroke="#000">11</text>
<polyline points="603.5,970.7 630.6,950.5" fill="none" stroke="#3a3a3a" stroke-width="1.55"/>
<text x="641.3" y="1001.8" font-size="22.2" fill="#000" stroke="#000">1230.68</text>
<text x="669.63" y="975.1" font-size="21.6" fill="#000" stroke="#000">y</text>
<text x="681.64" y="980.39" font-size="14.26" fill="#000" stroke="#000">12</text>
<polyline points="681.9,1006.9 681.9,1027.1 658.4,1065.7" fill="none" stroke="#3a3a3a" stroke-width="1.55"/>
<text x="708.8" y="1039.1" font-size="22.2" fill="#000" stroke="#000">1235.60</text>
<text x="735.37" y="1012.4" font-size="21.6" fill="#000" stroke="#000">b</text>
<text x="748.57" y="1017.69" font-size="14.26" fill="#000" stroke="#000">11</text>
<polyline points="662,1087.4 747.3,1077.7 747.3,1049.1" fill="none" stroke="#3a3a3a" stroke-width="1.55"/>
<text x="788.2" y="1105" font-size="22.2" fill="#000" stroke="#000">1409.59</text>
<text x="813.17" y="1078.3" font-size="21.6" fill="#000" stroke="#000">b</text>
<text x="826.37" y="1083.59" font-size="14.26" fill="#000" stroke="#000">13</text>
<polyline points="767.5,1103.3 788.6,1095.8" fill="none" stroke="#3a3a3a" stroke-width="1.55"/>
<text x="835.9" y="1039.1" font-size="22.2" fill="#000" stroke="#000">1590.76</text>
<text x="863.03" y="1012.4" font-size="21.6" fill="#000" stroke="#000">y</text>
<text x="875.04" y="1017.69" font-size="14.26" fill="#000" stroke="#000">15</text>
<polyline points="882,1057.5 879.8,1110.4" fill="none" stroke="#3a3a3a" stroke-width="1.55"/>
<text x="905" y="1068.3" font-size="22.2" fill="#000" stroke="#000">1706.81</text>
<text x="931.57" y="1041.6" font-size="21.6" fill="#000" stroke="#000">b</text>
<text x="944.77" y="1046.89" font-size="14.26" fill="#000" stroke="#000">16</text>
<polyline points="947.5,1078 950.7,1113.7" fill="none" stroke="#3a3a3a" stroke-width="1.55"/>
<text transform="translate(246.59 1254.1) scale(0.95 1)" font-size="30.5" fill="#000" stroke="#000">V</text>
<text transform="translate(274.37 1254.1) scale(0.95 1)" font-size="30.5" fill="#000" stroke="#000">Y</text>
<text transform="translate(299.75 1254.1) scale(0.95 1)" font-size="30.5" fill="#000" stroke="#000">A</text>
<text transform="translate(328.94 1254.1) scale(0.95 1)" font-size="30.5" fill="#000" stroke="#000">C</text>
<text transform="translate(417.53 1254.1) scale(0.95 1)" font-size="30.5" fill="#000" stroke="#000">E</text>
<text transform="translate(445.74 1254.1) scale(0.95 1)" font-size="30.5" fill="#000" stroke="#000">V</text>
<text transform="translate(473.35 1254.1) scale(0.95 1)" font-size="30.5" fill="#000" stroke="#000">T</text>
<text transform="translate(499.73 1254.1) scale(0.95 1)" font-size="30.5" fill="#ff0000" stroke="#ff0000">D</text>
<text transform="translate(530.69 1254.1) scale(0.95 1)" font-size="30.5" fill="#000" stroke="#000">Q</text>
<text transform="translate(561.48 1254.1) scale(0.95 1)" font-size="30.5" fill="#000" stroke="#000">G</text>
<text transform="translate(593.68 1254.1) scale(0.95 1)" font-size="30.5" fill="#000" stroke="#000">L</text>
<text transform="translate(618.43 1254.1) scale(0.95 1)" font-size="30.5" fill="#000" stroke="#000">S</text>
<text transform="translate(647.08 1254.1) scale(0.95 1)" font-size="30.5" fill="#000" stroke="#000">S</text>
<text transform="translate(674.91 1254.1) scale(0.95 1)" font-size="30.5" fill="#000" stroke="#000">P</text>
<text transform="translate(702.24 1254.1) scale(0.95 1)" font-size="30.5" fill="#000" stroke="#000">V</text>
<text transform="translate(730.9 1254.1) scale(0.95 1)" font-size="30.5" fill="#000" stroke="#000">T</text>
<text transform="translate(756.56 1254.1) scale(0.95 1)" font-size="30.5" fill="#000" stroke="#000">K</text>
<text transform="translate(349.62 1261) scale(0.95 1)" font-size="20.5" fill="#000" stroke="#000">(CAM)</text>
<polyline points="294.8,1247 294.8,1270 305.1,1270" fill="none" stroke="#444" stroke-width="1.45"/>
<polyline points="429.2,1220.5 439.5,1220.5 439.5,1245" fill="none" stroke="#444" stroke-width="1.45"/>
<polyline points="457.9,1220.5 468.2,1220.5 468.2,1270 478.5,1270" fill="none" stroke="#444" stroke-width="1.45"/>
<polyline points="494.6,1247 494.6,1270 504.9,1270" fill="none" stroke="#444" stroke-width="1.45"/>
<polyline points="525,1247 525,1270 535.3,1270" fill="none" stroke="#444" stroke-width="1.45"/>
<polyline points="558.8,1247 558.8,1270 569.1,1270" fill="none" stroke="#444" stroke-width="1.45"/>
<polyline points="604.1,1220.5 614.4,1220.5 614.4,1270 624.7,1270" fill="none" stroke="#444" stroke-width="1.45"/>
<polyline points="630.5,1220.5 640.8,1220.5 640.8,1245" fill="none" stroke="#444" stroke-width="1.45"/>
<polyline points="661.1,1220.5 671.4,1220.5 671.4,1270 681.7,1270" fill="none" stroke="#444" stroke-width="1.45"/>
<polyline points="715.8,1220.5 726.1,1220.5 726.1,1245" fill="none" stroke="#444" stroke-width="1.45"/>
<text x="294.83" y="1288" font-size="21.3" fill="#000" stroke="#000">y</text>
<text x="307.68" y="1293.33" font-size="14.48" fill="#000" stroke="#000">15</text>
<text x="466.63" y="1288" font-size="21.3" fill="#000" stroke="#000">y</text>
<text x="479.48" y="1293.33" font-size="14.48" fill="#000" stroke="#000">11</text>
<text x="497.53" y="1288" font-size="21.3" fill="#000" stroke="#000">y</text>
<text x="510.38" y="1293.33" font-size="14.48" fill="#000" stroke="#000">10</text>
<text x="532.93" y="1288" font-size="21.3" fill="#000" stroke="#000">y</text>
<text x="545.78" y="1293.33" font-size="14.48" fill="#000" stroke="#000">9</text>
<text x="560.23" y="1288" font-size="21.3" fill="#000" stroke="#000">y</text>
<text x="573.08" y="1293.33" font-size="14.48" fill="#000" stroke="#000">8</text>
<text x="613.33" y="1288" font-size="21.3" fill="#000" stroke="#000">y</text>
<text x="626.18" y="1293.33" font-size="14.48" fill="#000" stroke="#000">6</text>
<text x="671.23" y="1288" font-size="21.3" fill="#000" stroke="#000">y</text>
<text x="684.08" y="1293.33" font-size="14.48" fill="#000" stroke="#000">4</text>
<text x="413.99" y="1213.2" font-size="21.3" fill="#000" stroke="#000">b</text>
<text x="428.01" y="1218.53" font-size="14.48" fill="#000" stroke="#000">5</text>
<text x="443.29" y="1213.2" font-size="21.3" fill="#000" stroke="#000">b</text>
<text x="457.31" y="1218.53" font-size="14.48" fill="#000" stroke="#000">6</text>
<text x="581.49" y="1213.2" font-size="21.3" fill="#000" stroke="#000">b</text>
<text x="595.51" y="1218.53" font-size="14.48" fill="#000" stroke="#000">11</text>
<text x="616.29" y="1213.2" font-size="21.3" fill="#000" stroke="#000">b</text>
<text x="630.31" y="1218.53" font-size="14.48" fill="#000" stroke="#000">12</text>
<text x="650.69" y="1213.2" font-size="21.3" fill="#000" stroke="#000">b</text>
<text x="664.71" y="1218.53" font-size="14.48" fill="#000" stroke="#000">13</text>
<text x="705.39" y="1213.2" font-size="21.3" fill="#000" stroke="#000">b</text>
<text x="719.41" y="1218.53" font-size="14.48" fill="#000" stroke="#000">15</text>
<text x="7.45" y="1249.1" font-size="37" fill="#000" stroke="#000" style="stroke-width:0">(d)</text>
<polyline points="68.6,1334.1 68.6,1507.3" fill="none" stroke="#1a1a1a" stroke-width="1.4"/>
<polyline points="59.6,1507.3 68.6,1507.3" fill="none" stroke="#1a1a1a" stroke-width="1.3"/>
<polyline points="65.6,1498.64 68.6,1498.64" fill="none" stroke="#1a1a1a" stroke-width="1.3"/>
<polyline points="62.6,1489.98 68.6,1489.98" fill="none" stroke="#1a1a1a" stroke-width="1.3"/>
<polyline points="65.6,1481.32 68.6,1481.32" fill="none" stroke="#1a1a1a" stroke-width="1.3"/>
<polyline points="59.6,1472.66 68.6,1472.66" fill="none" stroke="#1a1a1a" stroke-width="1.3"/>
<polyline points="65.6,1464 68.6,1464" fill="none" stroke="#1a1a1a" stroke-width="1.3"/>
<polyline points="62.6,1455.34 68.6,1455.34" fill="none" stroke="#1a1a1a" stroke-width="1.3"/>
<polyline points="65.6,1446.68 68.6,1446.68" fill="none" stroke="#1a1a1a" stroke-width="1.3"/>
<polyline points="59.6,1438.02 68.6,1438.02" fill="none" stroke="#1a1a1a" stroke-width="1.3"/>
<polyline points="65.6,1429.36 68.6,1429.36" fill="none" stroke="#1a1a1a" stroke-width="1.3"/>
<polyline points="62.6,1420.7 68.6,1420.7" fill="none" stroke="#1a1a1a" stroke-width="1.3"/>
<polyline points="65.6,1412.04 68.6,1412.04" fill="none" stroke="#1a1a1a" stroke-width="1.3"/>
<polyline points="59.6,1403.38 68.6,1403.38" fill="none" stroke="#1a1a1a" stroke-width="1.3"/>
<polyline points="65.6,1394.72 68.6,1394.72" fill="none" stroke="#1a1a1a" stroke-width="1.3"/>
<polyline points="62.6,1386.06 68.6,1386.06" fill="none" stroke="#1a1a1a" stroke-width="1.3"/>
<polyline points="65.6,1377.4 68.6,1377.4" fill="none" stroke="#1a1a1a" stroke-width="1.3"/>
<polyline points="59.6,1368.74 68.6,1368.74" fill="none" stroke="#1a1a1a" stroke-width="1.3"/>
<polyline points="65.6,1360.08 68.6,1360.08" fill="none" stroke="#1a1a1a" stroke-width="1.3"/>
<polyline points="62.6,1351.42 68.6,1351.42" fill="none" stroke="#1a1a1a" stroke-width="1.3"/>
<polyline points="65.6,1342.76 68.6,1342.76" fill="none" stroke="#1a1a1a" stroke-width="1.3"/>
<polyline points="59.6,1334.1 68.6,1334.1" fill="none" stroke="#1a1a1a" stroke-width="1.3"/>
<polyline points="59.5,1507.3 975.5,1507.3" fill="none" stroke="#1a1a1a" stroke-width="1.5"/>
<polyline points="70.94,1507.3 70.94,1508.9" fill="none" stroke="#1a1a1a" stroke-width="1.2"/>
<polyline points="77.1,1507.3 77.1,1512.8" fill="none" stroke="#1a1a1a" stroke-width="1.2"/>
<polyline points="83.26,1507.3 83.26,1508.9" fill="none" stroke="#1a1a1a" stroke-width="1.2"/>
<polyline points="89.43,1507.3 89.43,1508.9" fill="none" stroke="#1a1a1a" stroke-width="1.2"/>
<polyline points="95.59,1507.3 95.59,1508.9" fill="none" stroke="#1a1a1a" stroke-width="1.2"/>
<polyline points="101.76,1507.3 101.76,1508.9" fill="none" stroke="#1a1a1a" stroke-width="1.2"/>
<polyline points="107.92,1507.3 107.92,1510.8" fill="none" stroke="#1a1a1a" stroke-width="1.2"/>
<polyline points="114.08,1507.3 114.08,1508.9" fill="none" stroke="#1a1a1a" stroke-width="1.2"/>
<polyline points="120.25,1507.3 120.25,1508.9" fill="none" stroke="#1a1a1a" stroke-width="1.2"/>
<polyline points="126.41,1507.3 126.41,1508.9" fill="none" stroke="#1a1a1a" stroke-width="1.2"/>
<polyline points="132.58,1507.3 132.58,1508.9" fill="none" stroke="#1a1a1a" stroke-width="1.2"/>
<polyline points="138.74,1507.3 138.74,1512.8" fill="none" stroke="#1a1a1a" stroke-width="1.2"/>
<polyline points="144.9,1507.3 144.9,1508.9" fill="none" stroke="#1a1a1a" stroke-width="1.2"/>
<polyline points="151.07,1507.3 151.07,1508.9" fill="none" stroke="#1a1a1a" stroke-width="1.2"/>
<polyline points="157.23,1507.3 157.23,1508.9" fill="none" stroke="#1a1a1a" stroke-width="1.2"/>
<polyline points="163.4,1507.3 163.4,1508.9" fill="none" stroke="#1a1a1a" stroke-width="1.2"/>
<polyline points="169.56,1507.3 169.56,1510.8" fill="none" stroke="#1a1a1a" stroke-width="1.2"/>
<polyline points="175.72,1507.3 175.72,1508.9" fill="none" stroke="#1a1a1a" stroke-width="1.2"/>
<polyline points="181.89,1507.3 181.89,1508.9" fill="none" stroke="#1a1a1a" stroke-width="1.2"/>
<polyline points="188.05,1507.3 188.05,1508.9" fill="none" stroke="#1a1a1a" stroke-width="1.2"/>
<polyline points="194.22,1507.3 194.22,1508.9" fill="none" stroke="#1a1a1a" stroke-width="1.2"/>
<polyline points="200.38,1507.3 200.38,1512.8" fill="none" stroke="#1a1a1a" stroke-width="1.2"/>
<polyline points="206.54,1507.3 206.54,1508.9" fill="none" stroke="#1a1a1a" stroke-width="1.2"/>
<polyline points="212.71,1507.3 212.71,1508.9" fill="none" stroke="#1a1a1a" stroke-width="1.2"/>
<polyline points="218.87,1507.3 218.87,1508.9" fill="none" stroke="#1a1a1a" stroke-width="1.2"/>
<polyline points="225.04,1507.3 225.04,1508.9" fill="none" stroke="#1a1a1a" stroke-width="1.2"/>
<polyline points="231.2,1507.3 231.2,1510.8" fill="none" stroke="#1a1a1a" stroke-width="1.2"/>
<polyline points="237.36,1507.3 237.36,1508.9" fill="none" stroke="#1a1a1a" stroke-width="1.2"/>
<polyline points="243.53,1507.3 243.53,1508.9" fill="none" stroke="#1a1a1a" stroke-width="1.2"/>
<polyline points="249.69,1507.3 249.69,1508.9" fill="none" stroke="#1a1a1a" stroke-width="1.2"/>
<polyline points="255.86,1507.3 255.86,1508.9" fill="none" stroke="#1a1a1a" stroke-width="1.2"/>
<polyline points="262.02,1507.3 262.02,1512.8" fill="none" stroke="#1a1a1a" stroke-width="1.2"/>
<polyline points="268.18,1507.3 268.18,1508.9" fill="none" stroke="#1a1a1a" stroke-width="1.2"/>
<polyline points="274.35,1507.3 274.35,1508.9" fill="none" stroke="#1a1a1a" stroke-width="1.2"/>
<polyline points="280.51,1507.3 280.51,1508.9" fill="none" stroke="#1a1a1a" stroke-width="1.2"/>
<polyline points="286.68,1507.3 286.68,1508.9" fill="none" stroke="#1a1a1a" stroke-width="1.2"/>
<polyline points="292.84,1507.3 292.84,1510.8" fill="none" stroke="#1a1a1a" stroke-width="1.2"/>
<polyline points="299,1507.3 299,1508.9" fill="none" stroke="#1a1a1a" stroke-width="1.2"/>
<polyline points="305.17,1507.3 305.17,1508.9" fill="none" stroke="#1a1a1a" stroke-width="1.2"/>
<polyline points="311.33,1507.3 311.33,1508.9" fill="none" stroke="#1a1a1a" stroke-width="1.2"/>
<polyline points="317.5,1507.3 317.5,1508.9" fill="none" stroke="#1a1a1a" stroke-width="1.2"/>
<polyline points="323.66,1507.3 323.66,1512.8" fill="none" stroke="#1a1a1a" stroke-width="1.2"/>
<polyline points="329.82,1507.3 329.82,1508.9" fill="none" stroke="#1a1a1a" stroke-width="1.2"/>
<polyline points="335.99,1507.3 335.99,1508.9" fill="none" stroke="#1a1a1a" stroke-width="1.2"/>
<polyline points="342.15,1507.3 342.15,1508.9" fill="none" stroke="#1a1a1a" stroke-width="1.2"/>
<polyline points="348.32,1507.3 348.32,1508.9" fill="none" stroke="#1a1a1a" stroke-width="1.2"/>
<polyline points="354.48,1507.3 354.48,1510.8" fill="none" stroke="#1a1a1a" stroke-width="1.2"/>
<polyline points="360.64,1507.3 360.64,1508.9" fill="none" stroke="#1a1a1a" stroke-width="1.2"/>
<polyline points="366.81,1507.3 366.81,1508.9" fill="none" stroke="#1a1a1a" stroke-width="1.2"/>
<polyline points="372.97,1507.3 372.97,1508.9" fill="none" stroke="#1a1a1a" stroke-width="1.2"/>
<polyline points="379.14,1507.3 379.14,1508.9" fill="none" stroke="#1a1a1a" stroke-width="1.2"/>
<polyline points="385.3,1507.3 385.3,1512.8" fill="none" stroke="#1a1a1a" stroke-width="1.2"/>
<polyline points="391.46,1507.3 391.46,1508.9" fill="none" stroke="#1a1a1a" stroke-width="1.2"/>
<polyline points="397.63,1507.3 397.63,1508.9" fill="none" stroke="#1a1a1a" stroke-width="1.2"/>
<polyline points="403.79,1507.3 403.79,1508.9" fill="none" stroke="#1a1a1a" stroke-width="1.2"/>
<polyline points="409.96,1507.3 409.96,1508.9" fill="none" stroke="#1a1a1a" stroke-width="1.2"/>
<polyline points="416.12,1507.3 416.12,1510.8" fill="none" stroke="#1a1a1a" stroke-width="1.2"/>
<polyline points="422.28,1507.3 422.28,1508.9" fill="none" stroke="#1a1a1a" stroke-width="1.2"/>
<polyline points="428.45,1507.3 428.45,1508.9" fill="none" stroke="#1a1a1a" stroke-width="1.2"/>
<polyline points="434.61,1507.3 434.61,1508.9" fill="none" stroke="#1a1a1a" stroke-width="1.2"/>
<polyline points="440.78,1507.3 440.78,1508.9" fill="none" stroke="#1a1a1a" stroke-width="1.2"/>
<polyline points="446.94,1507.3 446.94,1512.8" fill="none" stroke="#1a1a1a" stroke-width="1.2"/>
<polyline points="453.1,1507.3 453.1,1508.9" fill="none" stroke="#1a1a1a" stroke-width="1.2"/>
<polyline points="459.27,1507.3 459.27,1508.9" fill="none" stroke="#1a1a1a" stroke-width="1.2"/>
<polyline points="465.43,1507.3 465.43,1508.9" fill="none" stroke="#1a1a1a" stroke-width="1.2"/>
<polyline points="471.6,1507.3 471.6,1508.9" fill="none" stroke="#1a1a1a" stroke-width="1.2"/>
<polyline points="477.76,1507.3 477.76,1510.8" fill="none" stroke="#1a1a1a" stroke-width="1.2"/>
<polyline points="483.92,1507.3 483.92,1508.9" fill="none" stroke="#1a1a1a" stroke-width="1.2"/>
<polyline points="490.09,1507.3 490.09,1508.9" fill="none" stroke="#1a1a1a" stroke-width="1.2"/>
<polyline points="496.25,1507.3 496.25,1508.9" fill="none" stroke="#1a1a1a" stroke-width="1.2"/>
<polyline points="502.42,1507.3 502.42,1508.9" fill="none" stroke="#1a1a1a" stroke-width="1.2"/>
<polyline points="508.58,1507.3 508.58,1512.8" fill="none" stroke="#1a1a1a" stroke-width="1.2"/>
<polyline points="514.74,1507.3 514.74,1508.9" fill="none" stroke="#1a1a1a" stroke-width="1.2"/>
<polyline points="520.91,1507.3 520.91,1508.9" fill="none" stroke="#1a1a1a" stroke-width="1.2"/>
<polyline points="527.07,1507.3 527.07,1508.9" fill="none" stroke="#1a1a1a" stroke-width="1.2"/>
<polyline points="533.24,1507.3 533.24,1508.9" fill="none" stroke="#1a1a1a" stroke-width="1.2"/>
<polyline points="539.4,1507.3 539.4,1510.8" fill="none" stroke="#1a1a1a" stroke-width="1.2"/>
<polyline points="545.56,1507.3 545.56,1508.9" fill="none" stroke="#1a1a1a" stroke-width="1.2"/>
<polyline points="551.73,1507.3 551.73,1508.9" fill="none" stroke="#1a1a1a" stroke-width="1.2"/>
<polyline points="557.89,1507.3 557.89,1508.9" fill="none" stroke="#1a1a1a" stroke-width="1.2"/>
<polyline points="564.06,1507.3 564.06,1508.9" fill="none" stroke="#1a1a1a" stroke-width="1.2"/>
<polyline points="570.22,1507.3 570.22,1512.8" fill="none" stroke="#1a1a1a" stroke-width="1.2"/>
<polyline points="576.38,1507.3 576.38,1508.9" fill="none" stroke="#1a1a1a" stroke-width="1.2"/>
<polyline points="582.55,1507.3 582.55,1508.9" fill="none" stroke="#1a1a1a" stroke-width="1.2"/>
<polyline points="588.71,1507.3 588.71,1508.9" fill="none" stroke="#1a1a1a" stroke-width="1.2"/>
<polyline points="594.88,1507.3 594.88,1508.9" fill="none" stroke="#1a1a1a" stroke-width="1.2"/>
<polyline points="601.04,1507.3 601.04,1510.8" fill="none" stroke="#1a1a1a" stroke-width="1.2"/>
<polyline points="607.2,1507.3 607.2,1508.9" fill="none" stroke="#1a1a1a" stroke-width="1.2"/>
<polyline points="613.37,1507.3 613.37,1508.9" fill="none" stroke="#1a1a1a" stroke-width="1.2"/>
<polyline points="619.53,1507.3 619.53,1508.9" fill="none" stroke="#1a1a1a" stroke-width="1.2"/>
<polyline points="625.7,1507.3 625.7,1508.9" fill="none" stroke="#1a1a1a" stroke-width="1.2"/>
<polyline points="631.86,1507.3 631.86,1512.8" fill="none" stroke="#1a1a1a" stroke-width="1.2"/>
<polyline points="638.02,1507.3 638.02,1508.9" fill="none" stroke="#1a1a1a" stroke-width="1.2"/>
<polyline points="644.19,1507.3 644.19,1508.9" fill="none" stroke="#1a1a1a" stroke-width="1.2"/>
<polyline points="650.35,1507.3 650.35,1508.9" fill="none" stroke="#1a1a1a" stroke-width="1.2"/>
<polyline points="656.52,1507.3 656.52,1508.9" fill="none" stroke="#1a1a1a" stroke-width="1.2"/>
<polyline points="662.68,1507.3 662.68,1510.8" fill="none" stroke="#1a1a1a" stroke-width="1.2"/>
<polyline points="668.84,1507.3 668.84,1508.9" fill="none" stroke="#1a1a1a" stroke-width="1.2"/>
<polyline points="675.01,1507.3 675.01,1508.9" fill="none" stroke="#1a1a1a" stroke-width="1.2"/>
<polyline points="681.17,1507.3 681.17,1508.9" fill="none" stroke="#1a1a1a" stroke-width="1.2"/>
<polyline points="687.34,1507.3 687.34,1508.9" fill="none" stroke="#1a1a1a" stroke-width="1.2"/>
<polyline points="693.5,1507.3 693.5,1512.8" fill="none" stroke="#1a1a1a" stroke-width="1.2"/>
<polyline points="699.66,1507.3 699.66,1508.9" fill="none" stroke="#1a1a1a" stroke-width="1.2"/>
<polyline points="705.83,1507.3 705.83,1508.9" fill="none" stroke="#1a1a1a" stroke-width="1.2"/>
<polyline points="711.99,1507.3 711.99,1508.9" fill="none" stroke="#1a1a1a" stroke-width="1.2"/>
<polyline points="718.16,1507.3 718.16,1508.9" fill="none" stroke="#1a1a1a" stroke-width="1.2"/>
<polyline points="724.32,1507.3 724.32,1510.8" fill="none" stroke="#1a1a1a" stroke-width="1.2"/>
<polyline points="730.48,1507.3 730.48,1508.9" fill="none" stroke="#1a1a1a" stroke-width="1.2"/>
<polyline points="736.65,1507.3 736.65,1508.9" fill="none" stroke="#1a1a1a" stroke-width="1.2"/>
<polyline points="742.81,1507.3 742.81,1508.9" fill="none" stroke="#1a1a1a" stroke-width="1.2"/>
<polyline points="748.98,1507.3 748.98,1508.9" fill="none" stroke="#1a1a1a" stroke-width="1.2"/>
<polyline points="755.14,1507.3 755.14,1512.8" fill="none" stroke="#1a1a1a" stroke-width="1.2"/>
<polyline points="761.3,1507.3 761.3,1508.9" fill="none" stroke="#1a1a1a" stroke-width="1.2"/>
<polyline points="767.47,1507.3 767.47,1508.9" fill="none" stroke="#1a1a1a" stroke-width="1.2"/>
<polyline points="773.63,1507.3 773.63,1508.9" fill="none" stroke="#1a1a1a" stroke-width="1.2"/>
<polyline points="779.8,1507.3 779.8,1508.9" fill="none" stroke="#1a1a1a" stroke-width="1.2"/>
<polyline points="785.96,1507.3 785.96,1510.8" fill="none" stroke="#1a1a1a" stroke-width="1.2"/>
<polyline points="792.12,1507.3 792.12,1508.9" fill="none" stroke="#1a1a1a" stroke-width="1.2"/>
<polyline points="798.29,1507.3 798.29,1508.9" fill="none" stroke="#1a1a1a" stroke-width="1.2"/>
<polyline points="804.45,1507.3 804.45,1508.9" fill="none" stroke="#1a1a1a" stroke-width="1.2"/>
<polyline points="810.62,1507.3 810.62,1508.9" fill="none" stroke="#1a1a1a" stroke-width="1.2"/>
<polyline points="816.78,1507.3 816.78,1512.8" fill="none" stroke="#1a1a1a" stroke-width="1.2"/>
<polyline points="822.94,1507.3 822.94,1508.9" fill="none" stroke="#1a1a1a" stroke-width="1.2"/>
<polyline points="829.11,1507.3 829.11,1508.9" fill="none" stroke="#1a1a1a" stroke-width="1.2"/>
<polyline points="835.27,1507.3 835.27,1508.9" fill="none" stroke="#1a1a1a" stroke-width="1.2"/>
<polyline points="841.44,1507.3 841.44,1508.9" fill="none" stroke="#1a1a1a" stroke-width="1.2"/>
<polyline points="847.6,1507.3 847.6,1510.8" fill="none" stroke="#1a1a1a" stroke-width="1.2"/>
<polyline points="853.76,1507.3 853.76,1508.9" fill="none" stroke="#1a1a1a" stroke-width="1.2"/>
<polyline points="859.93,1507.3 859.93,1508.9" fill="none" stroke="#1a1a1a" stroke-width="1.2"/>
<polyline points="866.09,1507.3 866.09,1508.9" fill="none" stroke="#1a1a1a" stroke-width="1.2"/>
<polyline points="872.26,1507.3 872.26,1508.9" fill="none" stroke="#1a1a1a" stroke-width="1.2"/>
<polyline points="878.42,1507.3 878.42,1512.8" fill="none" stroke="#1a1a1a" stroke-width="1.2"/>
<polyline points="884.58,1507.3 884.58,1508.9" fill="none" stroke="#1a1a1a" stroke-width="1.2"/>
<polyline points="890.75,1507.3 890.75,1508.9" fill="none" stroke="#1a1a1a" stroke-width="1.2"/>
<polyline points="896.91,1507.3 896.91,1508.9" fill="none" stroke="#1a1a1a" stroke-width="1.2"/>
<polyline points="903.08,1507.3 903.08,1508.9" fill="none" stroke="#1a1a1a" stroke-width="1.2"/>
<polyline points="909.24,1507.3 909.24,1510.8" fill="none" stroke="#1a1a1a" stroke-width="1.2"/>
<polyline points="915.4,1507.3 915.4,1508.9" fill="none" stroke="#1a1a1a" stroke-width="1.2"/>
<polyline points="921.57,1507.3 921.57,1508.9" fill="none" stroke="#1a1a1a" stroke-width="1.2"/>
<polyline points="927.73,1507.3 927.73,1508.9" fill="none" stroke="#1a1a1a" stroke-width="1.2"/>
<polyline points="933.9,1507.3 933.9,1508.9" fill="none" stroke="#1a1a1a" stroke-width="1.2"/>
<polyline points="940.06,1507.3 940.06,1512.8" fill="none" stroke="#1a1a1a" stroke-width="1.2"/>
<polyline points="946.22,1507.3 946.22,1508.9" fill="none" stroke="#1a1a1a" stroke-width="1.2"/>
<polyline points="952.39,1507.3 952.39,1508.9" fill="none" stroke="#1a1a1a" stroke-width="1.2"/>
<polyline points="958.55,1507.3 958.55,1508.9" fill="none" stroke="#1a1a1a" stroke-width="1.2"/>
<polyline points="964.72,1507.3 964.72,1508.9" fill="none" stroke="#1a1a1a" stroke-width="1.2"/>
<polyline points="970.88,1507.3 970.88,1510.8" fill="none" stroke="#1a1a1a" stroke-width="1.2"/>
<text x="64.88" y="1531.1" font-size="17.6" fill="#000" stroke="#000">300</text>
<text x="126.69" y="1531.1" font-size="17.6" fill="#000" stroke="#000">400</text>
<text x="188.29" y="1531.1" font-size="17.6" fill="#000" stroke="#000">500</text>
<text x="249.98" y="1531.1" font-size="17.6" fill="#000" stroke="#000">600</text>
<text x="311.66" y="1531.1" font-size="17.6" fill="#000" stroke="#000">700</text>
<text x="373.5" y="1531.1" font-size="17.6" fill="#000" stroke="#000">800</text>
<text x="435.21" y="1531.1" font-size="17.6" fill="#000" stroke="#000">900</text>
<text x="493.32" y="1531.1" font-size="17.6" fill="#000" stroke="#000">1000</text>
<text x="555.44" y="1531.1" font-size="17.6" fill="#000" stroke="#000">1100</text>
<text x="616.6" y="1531.1" font-size="17.6" fill="#000" stroke="#000">1200</text>
<text x="678.24" y="1531.1" font-size="17.6" fill="#000" stroke="#000">1300</text>
<text x="739.88" y="1531.1" font-size="17.6" fill="#000" stroke="#000">1400</text>
<text x="801.52" y="1531.1" font-size="17.6" fill="#000" stroke="#000">1500</text>
<text x="863.16" y="1531.1" font-size="17.6" fill="#000" stroke="#000">1600</text>
<text x="924.8" y="1531.1" font-size="17.6" fill="#000" stroke="#000">1700</text>
<text x="47.38" y="1513.73" font-size="18.1" fill="#000" stroke="#000">0</text>
<text x="37.31" y="1479.09" font-size="18.1" fill="#000" stroke="#000">20</text>
<text x="37.31" y="1444.45" font-size="18.1" fill="#000" stroke="#000">40</text>
<text x="37.31" y="1409.81" font-size="18.1" fill="#000" stroke="#000">60</text>
<text x="37.31" y="1375.17" font-size="18.1" fill="#000" stroke="#000">80</text>
<text x="27.25" y="1340.53" font-size="18.1" fill="#000" stroke="#000">100</text>
<text transform="translate(14.2 1420) rotate(-90)" font-size="16.6" text-anchor="middle" stroke="#000">Relative abundance (%)</text>
<text transform="translate(501.6 1552) scale(1.04 1)" font-size="17" font-style="italic" stroke="#000">m/z</text>
<polyline points="69.1,1507.25 70.76,1507.01 72.61,1507.18 73.92,1506.97 75.55,1507.16 77.19,1507.12 78.92,1507.25 80.19,1506.89 81.58,1507.18 83.32,1507.02 84.54,1507.05 86.17,1507.23 87.8,1507.24 89.17,1507.26 90.43,1506.86 91.85,1506.85 93.3,1507.03 95.1,1506.99 96.29,1507.03 97.9,1507.22 99.07,1506.91 100.58,1507.21 102.05,1507.2 103.78,1507.07 104.97,1506.93 106.14,1507.17 107.26,1506.97 108.45,1507.06 109.63,1507.08 111.27,1507.06 112.74,1507.08 114.19,1507.03 115.36,1507.09 116.65,1506.91 118.5,1507.27 119.72,1506.98 121.28,1507.29 122.94,1506.88 124.38,1507.14 125.93,1506.88 127.24,1507.16 128.5,1507.02 129.97,1507.18 131.38,1507.28 132.73,1506.86 134.3,1507.17 136.15,1507.14 137.45,1507.28 138.67,1507.21 139.95,1506.91 141.26,1507.19 142.85,1506.89 144.18,1506.96 145.57,1507.05 147.15,1506.88 148.86,1507.07 150.63,1507.14 152.04,1506.87 153.57,1506.95 154.93,1506.89 156.52,1507.19 158.36,1507.09 159.73,1507.18 160.92,1507.21 162.57,1507.24 163.88,1507.1 165.41,1507.13 167.14,1507.18 168.54,1507.11 169.74,1507.2 170.96,1506.97 172.17,1507 173.45,1507.01 175.08,1507.14 176.92,1507 178.47,1507.28 179.89,1507.18 181.37,1506.88 183.16,1507.27 184.81,1506.88 186.34,1507.26 188.13,1507.11 190.02,1506.91 191.78,1506.88 192.93,1506.94 194.28,1507.24 195.68,1507.03 196.79,1507.1 198.51,1507.08 200.04,1507.17 201.91,1507.19 203.56,1507.01 204.66,1506.85 205.95,1506.86 207.79,1506.89 209.57,1507.12 211.03,1507.14 212.88,1507.29 214.09,1506.87 215.83,1506.98 217.71,1507.06 219.48,1507.1 221.3,1507.27 222.75,1507.04 224.48,1507.11 226.13,1506.86 227.56,1507.21 228.69,1506.91 230.17,1507.13 231.68,1507.25 232.96,1507.19 234.26,1506.91 235.56,1507.26 237.36,1507.05 238.48,1507 240.13,1507.01 241.85,1507.11 243.13,1506.97 244.73,1506.98 245.97,1507.13 247.63,1507.13 249.21,1507.09 250.91,1507.14 252.41,1506.93 253.76,1507.22 255.37,1507.24 257.15,1507.18 258.98,1507.06 260.2,1507.07 261.85,1507.08 263.45,1507.13 265.32,1507.22 267.06,1507.29 268.57,1507.27 269.77,1507.04 271.59,1507.16 273.02,1507.09 274.6,1507.14 275.98,1506.92 277.53,1507.14 279.28,1506.85 280.73,1507.29 282.07,1506.9 283.31,1507.21 285.04,1507.25 286.82,1507.2 288.23,1507.03 289.42,1506.95 290.87,1506.95 292.58,1507.27 294.34,1506.93 295.64,1507.03 296.9,1507.06 298.6,1507.13 300.13,1507.24 301.92,1507.02 303.68,1507.26 305.38,1507.26 306.92,1507.2 308.75,1507.25 310.22,1507.09 311.63,1507.27 313.27,1506.86 314.65,1506.9 316.02,1507.18 317.49,1506.86 319.21,1507.02 320.34,1507.1 321.46,1507.27 322.86,1507.19 324.04,1507.07 325.77,1506.88 327.6,1507.11 328.84,1506.87 330.28,1507.15 332.04,1507.05 333.9,1506.98 335.76,1507.23 337.61,1507.06 339.27,1507.16 340.57,1507.17 341.8,1506.87 343,1507.19 344.6,1507.21 345.87,1507.19 347.16,1507.3 348.85,1507 350.2,1506.9 351.75,1507.2 353.62,1507.2 355.37,1506.93 356.47,1506.92 357.91,1507.07 359.76,1507.1 361.06,1507.28 362.87,1507.1 364.54,1507.01 366.42,1506.88 368.27,1507.07 370.1,1507.16 371.3,1507.01 372.42,1506.86 373.78,1507.11 375.11,1507.15 376.64,1506.94 377.75,1507.15 379.05,1506.87 380.5,1507.1 382.35,1507.13 383.76,1507.12 385.05,1506.98 386.38,1507.07 387.93,1506.95 389.63,1507.08 391.49,1506.87 393.34,1506.98 394.8,1507.14 396.59,1507.09 398.29,1507.13 399.68,1507.29 401.36,1507.17 402.86,1506.97 404.62,1506.87 406.25,1507.2 408.1,1507.28 409.53,1506.88 411.3,1507.03 413.1,1507.22 414.23,1507.17 416.07,1507.28 417.44,1507.07 418.7,1506.91 419.89,1507.26 421.78,1507.29 423.06,1507.12 424.87,1507.15 426.42,1506.94 428.02,1506.93 429.13,1507.06 430.25,1506.92 431.37,1507.26 432.81,1507.02 433.92,1507.01 435.1,1507.15 436.24,1506.97 438,1506.95 439.36,1507.19 441.23,1506.93 443.1,1507.11 444.91,1507 446.64,1507.07 448.36,1507.08 449.68,1507.09 450.82,1507 452.18,1507.22 453.92,1507.06 455.27,1506.88 457.12,1507.11 458.66,1507.3 460.04,1506.86 461.55,1506.85 462.67,1507.29 463.82,1507.27 465.53,1506.86 467.24,1507.03 468.64,1507.13 469.85,1507.12 471.04,1506.94 472.57,1507.13 474.36,1507.16 476.15,1506.98 477.76,1507.03 479.36,1506.89 481.26,1507.05 483.13,1507.19 484.97,1506.9 486.58,1507.25 488.39,1507.13 489.75,1506.87 490.92,1507.01 492.21,1506.91 493.48,1507.25 494.97,1507.09 496.67,1507.17 498,1507.17 499.54,1507.24 501.09,1506.93 502.74,1507.18 504.23,1507.26 505.7,1506.96 506.8,1507.01 508.64,1507.17 510,1506.99 511.22,1507.18 512.81,1507.07 514.05,1507.21 515.54,1506.91 516.8,1506.99 518.33,1507.17 519.76,1506.93 520.94,1507.05 522.42,1507.25 523.85,1507.22 525.28,1507.29 526.83,1506.94 528.63,1506.88 529.93,1506.94 531.32,1506.98 532.79,1506.97 534.21,1506.87 535.69,1506.94 536.93,1506.97 538.2,1507.12 539.6,1507 541.17,1507.18 543.01,1507.28 544.49,1507.24 545.68,1507.2 547.54,1507.29 549.21,1507.04 550.98,1506.92 552.18,1506.88 553.39,1507.25 554.68,1506.99 556.24,1506.99 557.52,1507.09 558.88,1506.87 560.43,1506.99 561.89,1507.25 563.07,1507.2 564.76,1507.21 566.24,1507.15 567.45,1507.13 568.94,1506.89 570.66,1507.1 572,1507.19 573.38,1507.06 575.25,1507.27 576.51,1507.12 578.06,1507.27 579.18,1507.05 580.29,1506.93 581.93,1507.09 583.82,1507.08 585.68,1507.2 586.84,1507.11 588.37,1507 589.57,1506.98 590.9,1506.87 592.64,1506.95 593.78,1507.27 594.9,1507.1 596.03,1507.24 597.18,1506.85 598.65,1507.18 599.87,1507.17 601.05,1506.94 602.89,1506.93 604.05,1507.03 605.84,1507.12 607.56,1507.29 609.08,1506.97 610.52,1507.25 612.4,1506.93 613.72,1506.97 614.96,1507.02 616.63,1507.03 618.08,1506.93 619.51,1507.27 620.73,1507.23 622.45,1507.27 624.32,1507.04 625.48,1506.87 627.37,1507.19 628.92,1507.2 630.13,1507.27 631.94,1507.2 633.2,1507.22 634.53,1506.87 635.8,1507.22 636.94,1506.98 638.13,1506.93 639.98,1507.18 641.45,1506.94 642.94,1507.16 644.78,1506.85 646.07,1506.92 647.2,1506.93 648.57,1506.86 649.69,1507.21 651.12,1507.07 652.84,1507.24 653.98,1507.19 655.16,1506.87 656.67,1507.21 658.03,1507.18 659.49,1507.16 661.09,1507.2 662.74,1506.89 664.45,1507.26 665.93,1506.93 667.09,1506.88 668.27,1507.25 669.38,1506.91 670.5,1507.09 672.08,1507.08 673.97,1507.03 675.07,1507.12 676.3,1506.9 677.58,1507 679.04,1507.1 680.57,1507.19 682.18,1507.03 683.93,1506.93 685.11,1506.93 686.47,1506.86 688.03,1507.21 689.54,1507.05 691.05,1507.13 692.62,1507.06 694.36,1507.15 695.82,1507.3 697.52,1507.27 699.32,1507.07 700.87,1507.13 702.41,1507.26 703.64,1507.06 704.98,1507.07 706.47,1506.86 708.09,1507.29 709.72,1507.16 710.97,1507.14 712.79,1506.94 714.25,1506.91 715.77,1507.23 717.43,1506.91 719.08,1507.17 720.56,1507.24 721.85,1507.27 723.73,1506.98 725.21,1506.99 726.87,1507.09 728.17,1507.08 729.7,1507.13 730.98,1507.04 732.6,1507.2 733.81,1506.96 735.69,1506.97 737.45,1506.97 738.86,1507.04 740.33,1506.86 741.52,1506.85 742.72,1507.16 744.28,1506.88 746.08,1506.96 747.7,1506.96 749.04,1507.28 750.62,1507.2 752.08,1506.95 753.96,1507.24 755.8,1507.2 757.31,1506.94 758.96,1507.13 760.77,1507.22 762.53,1506.86 764.3,1507.25 765.72,1507.26 767.09,1507.12 768.32,1507.09 770.09,1507 771.43,1507.25 772.62,1506.93 773.92,1507.05 775.18,1506.99 776.35,1507.09 777.8,1507.07 779.07,1506.99 780.93,1507.21 782.09,1507.17 783.46,1506.91 784.59,1507.28 786.12,1507.09 787.39,1506.99 788.8,1506.86 790.08,1507.06 791.28,1507.25 793.14,1506.9 794.84,1507.07 796.48,1507.2 797.72,1507.2 799.04,1507.12 800.54,1507.18 801.92,1506.94 803.66,1507.19 805.21,1507.25 806.81,1507.02 808.06,1506.92 809.65,1506.87 810.96,1507.23 812.68,1506.96 813.97,1507.1 815.21,1507.09 817.09,1507.18 818.48,1506.91 820.37,1507.07 821.91,1507.07 823.57,1506.89 825.41,1507.05 826.87,1506.92 828.51,1506.85 829.7,1506.97 831.44,1507.14 832.54,1507.15 834.42,1506.96 835.79,1506.92 836.96,1506.97 838.5,1506.86 839.84,1507.14 841.22,1507.1 842.69,1507.21 844.15,1507.28 845.75,1506.92 847.11,1507.1 848.98,1506.92 850.63,1507.04 852.51,1507.09 854.1,1506.9 855.49,1507.11 857.12,1506.98 858.78,1507.12 860.1,1506.95 861.78,1507.07 863.08,1507.27 864.6,1506.89 866.39,1506.96 867.83,1506.91 869.63,1507.16 871.16,1507.14 872.42,1507.08 873.7,1506.87 875.58,1507.18 876.81,1507.21 878.65,1507.15 880.41,1506.85 881.78,1506.92 882.96,1507.28 884.6,1507.16 885.89,1507.07 887.62,1507.1 889.16,1506.96 890.34,1507.07 891.47,1507.21 892.67,1507.22 894.5,1507.29 895.99,1507.27 897.1,1506.88 898.6,1506.91 900.21,1507.04 901.92,1507.3 903.19,1506.99 905.08,1507.21 906.5,1506.99 908.06,1506.97 909.19,1507.19 910.83,1506.97 912.47,1506.94 914.21,1507.3 915.55,1507.27 916.75,1506.97 918.16,1506.9 919.28,1507.1 921.16,1507.14 922.81,1506.91 924.55,1507.15 926.01,1506.95 927.53,1507.11 929.39,1507.18 931.05,1507.14 932.65,1506.96 934.46,1506.94 935.96,1507.04 937.61,1506.96 939.45,1507.29 940.57,1506.87 942.18,1507.26 943.52,1507.24 944.87,1507.24 946.55,1507.23 948.01,1507.27 949.43,1507.18 950.96,1507.18 952.23,1507.14 954.09,1506.85 955.32,1506.97 956.46,1507.16 958.19,1506.97 959.84,1507.08 961.3,1507.28 962.93,1507.01 964.32,1507.23 965.63,1506.94 966.8,1507.03 968.52,1506.96 969.91,1506.99 971.18,1507.18 972.8,1507.25" fill="none" stroke="#222" stroke-width="1.1"/>
<path d="M70.6 1507.3V1504.47M79.07 1507.3V1506.47M85.82 1507.3V1506.43M89.74 1507.3V1505.17M98.12 1507.3V1506.48M101.76 1507.3V1506.03M106.81 1507.3V1505.34M110.57 1507.3V1506.31M114.23 1507.3V1503.41M120.04 1507.3V1506.49M123.33 1507.3V1505.39M131.14 1507.3V1504.37M139.59 1507.3V1505.73M144.84 1507.3V1506.26M147.45 1507.3V1504.96M154.91 1507.3V1506.44M158.14 1507.3V1506.44M160.85 1507.3V1506.36M166.78 1507.3V1505.11M172.71 1507.3V1505.18M178.41 1507.3V1506.07M186.98 1507.3V1504.28M190.33 1507.3V1506.19M196.2 1507.3V1505.49M200.26 1507.3V1504.88M206.21 1507.3V1506.12M210.12 1507.3V1506.49M212.74 1507.3V1506.09M221.74 1507.3V1506.36M226.3 1507.3V1506.48M233.6 1507.3V1506.21M241.22 1507.3V1504.85M249.73 1507.3V1506.28M259.56 1507.3V1504.76M262.65 1507.3V1506.43M265.97 1507.3V1506.43M271.16 1507.3V1506.49M276.74 1507.3V1506.43M279.48 1507.3V1506.07M284.62 1507.3V1506.49M288.26 1507.3V1506.48M294.37 1507.3V1504.41M303.62 1507.3V1505.19M312.5 1507.3V1505.75M318.02 1507.3V1506.49M321.29 1507.3V1506.37M325.91 1507.3V1505.4M331.26 1507.3V1505.99M337.9 1507.3V1505.82M346.89 1507.3V1504.86M350.75 1507.3V1506.26M354.13 1507.3V1504.6M357.01 1507.3V1506.38M364.61 1507.3V1505.95M372.17 1507.3V1505.14M381.31 1507.3V1505.99M389.74 1507.3V1504.63M397.26 1507.3V1505.28M400.35 1507.3V1503.99M408.9 1507.3V1506.38M415.98 1507.3V1505.95M422.7 1507.3V1504.98M427.93 1507.3V1506.41M437.31 1507.3V1505.24M443.93 1507.3V1504.68M452.25 1507.3V1506.47M458.21 1507.3V1506.4M467.93 1507.3V1506.44M472.63 1507.3V1504.74M481.66 1507.3V1505.97M489.7 1507.3V1506.08M497.11 1507.3V1504.25M503.71 1507.3V1506.33M510.64 1507.3V1506.48M517.31 1507.3V1505.62M524.16 1507.3V1506.3M527.8 1507.3V1504.43M530.38 1507.3V1506.48M537.26 1507.3V1503.2M546.9 1507.3V1506.33M553.45 1507.3V1505.65M559.98 1507.3V1505.87M564.75 1507.3V1506.46M571.53 1507.3V1505.72M576.23 1507.3V1505.59M579.9 1507.3V1504.95M589.61 1507.3V1506.26M593.26 1507.3V1506.43M600.54 1507.3V1504.72M607.41 1507.3V1505.18M613.27 1507.3V1506.32M620.67 1507.3V1506.5M625.23 1507.3V1505.26M631.16 1507.3V1504.88M636.13 1507.3V1506.46M643.1 1507.3V1506.27M651.97 1507.3V1506.13M661.56 1507.3V1506.41M666.04 1507.3V1505.8M670.77 1507.3V1506.4M674.16 1507.3V1504.82M683.1 1507.3V1506.28M686.66 1507.3V1506.34M695.39 1507.3V1506.17M704.33 1507.3V1506.05M714.87 1507.3V1506.45M724.38 1507.3V1506.5M737.54 1507.3V1505.81M747.44 1507.3V1503.06M763.41 1507.3V1505.81M768.27 1507.3V1504.99M774.35 1507.3V1505.72M801.54 1507.3V1504.98M825.84 1507.3V1506.46M842.5 1507.3V1504.75M967.26 1507.3V1505.77" stroke="#2a2a2a" stroke-width="1.05" fill="none"/>
<path d="M166.6 1507.3V1363.3M176.5 1507.3V1486.9M171.9 1507.3V1500M183.8 1507.3V1497.5M155.8 1507.3V1500M161.8 1507.3V1500M131.7 1507.3V1500M142.7 1507.3V1502M194 1507.3V1502M220.2 1507.3V1444.7M237.4 1507.3V1496M273.6 1507.3V1334.1M276 1507.3V1470M277.2 1507.3V1466.7M287.2 1507.3V1497M312.8 1507.3V1495M327.9 1507.3V1489.3M338.4 1507.3V1479.4M343 1507.3V1499M350.5 1507.3V1477.9M362.5 1507.3V1486.9M379.1 1507.3V1435.1M383.6 1507.3V1457.7M389 1507.3V1493M399.6 1507.3V1489.3M410.1 1507.3V1499M433.4 1507.3V1494.5M446.9 1507.3V1456.8M453.9 1507.3V1473.4M458.4 1507.3V1469.4M518.1 1507.3V1497.5M529.2 1507.3V1438.1M544.3 1507.3V1500M550.3 1507.3V1431.7M574.5 1507.3V1493M577.5 1507.3V1493M592 1507.3V1361.8M597.1 1507.3V1494.5M622.6 1507.3V1502M631.7 1507.3V1499M636.2 1507.3V1503M643.7 1507.3V1471.8M652.2 1507.3V1467M654.9 1507.3V1456.2M686.8 1507.3V1490M689.5 1507.3V1490M697.4 1507.3V1471.2M708.5 1507.3V1413M729 1507.3V1499M731.1 1507.3V1484.5M740.2 1507.3V1486.3M750.7 1507.3V1444.1M762.2 1507.3V1482.4M819.2 1507.3V1488M830.1 1507.3V1470.7M844.8 1507.3V1500M872.5 1507.3V1485.8M883.3 1507.3V1472.9M926.9 1507.3V1503M934.5 1507.3V1495.5M945.3 1507.3V1491.2M956.7 1507.3V1499.2M250 1507.3V1503M262 1507.3V1502M300 1507.3V1502M318 1507.3V1501M335 1507.3V1500M356 1507.3V1502M372 1507.3V1500M395 1507.3V1500M420 1507.3V1502M440 1507.3V1501M470 1507.3V1503M490 1507.3V1502M505 1507.3V1501M535 1507.3V1502M560 1507.3V1502M585 1507.3V1501M605 1507.3V1502M615 1507.3V1501M662 1507.3V1502M675 1507.3V1502M715 1507.3V1502M770 1507.3V1502M785 1507.3V1503M800 1507.3V1502M858 1507.3V1502M900 1507.3V1503" stroke="#4d4d4d" stroke-width="1.75" fill="none"/>
<path d="M167.5 1507.3V1464.1M221.1 1507.3V1488.52M274.5 1507.3V1455.34M278.1 1507.3V1495.12M380 1507.3V1485.64M384.5 1507.3V1492.42M447.8 1507.3V1492.15M530.1 1507.3V1486.54M551.2 1507.3V1484.62M592.9 1507.3V1463.65M653.1 1507.3V1495.21M655.8 1507.3V1491.97M709.4 1507.3V1479.01M751.6 1507.3V1488.34" stroke="#2a2a2a" stroke-width="1.2" fill="none"/>
<text x="97.17" y="1351.2" font-size="22.2" fill="#000" stroke="#000">444.24</text>
<text x="120.43" y="1324.5" font-size="21.6" fill="#000" stroke="#000">y</text>
<text x="132.44" y="1329.79" font-size="14.26" fill="#000" stroke="#000">4</text>
<polyline points="134.3,1359.2 160.8,1366.3" fill="none" stroke="#3a3a3a" stroke-width="1.55"/>
<text x="184.78" y="1341.6" font-size="22.2" fill="#000" stroke="#000">618.57</text>
<text x="208.63" y="1314.9" font-size="21.6" fill="#000" stroke="#000">y</text>
<text x="220.64" y="1320.19" font-size="14.26" fill="#000" stroke="#000">6</text>
<polyline points="229.9,1347.6 267.6,1375.4" fill="none" stroke="#3a3a3a" stroke-width="1.55"/>
<text x="279.38" y="1353.7" font-size="22.2" fill="#000" stroke="#000">623.21</text>
<text x="302.37" y="1327" font-size="21.6" fill="#000" stroke="#000">b</text>
<text x="315.57" y="1332.29" font-size="14.26" fill="#000" stroke="#000">5</text>
<polyline points="301.6,1358.8 301.6,1444.7 279,1474.3" fill="none" stroke="#3a3a3a" stroke-width="1.55"/>
<text x="304.35" y="1453.8" font-size="22.2" fill="#000" stroke="#000">722.18</text>
<text x="327.07" y="1427.1" font-size="21.6" fill="#000" stroke="#000">b</text>
<text x="340.27" y="1432.39" font-size="14.26" fill="#000" stroke="#000">6</text>
<polyline points="336.9,1461.3 339,1475.5" fill="none" stroke="#3a3a3a" stroke-width="1.55"/>
<text x="336.55" y="1391" font-size="22.2" fill="#000" stroke="#000">788.56</text>
<text x="360.83" y="1364.3" font-size="21.6" fill="#000" stroke="#000">y</text>
<text x="372.84" y="1369.59" font-size="14.26" fill="#000" stroke="#000">8</text>
<polyline points="369.5,1399.5 378.5,1429.6" fill="none" stroke="#3a3a3a" stroke-width="1.55"/>
<text x="409.15" y="1394.1" font-size="22.2" fill="#000" stroke="#000">796.48</text>
<text x="420.53" y="1367.4" font-size="21.6" fill="#000" stroke="#000">y</text>
<text x="432.54" y="1372.69" font-size="14.26" fill="#000" stroke="#000">15</text>
<text x="448.4" y="1360.92" font-size="14.26" fill="#000" stroke="#000">2+</text>
<polyline points="434,1406.1 434,1450.7 387.6,1466.4" fill="none" stroke="#3a3a3a" stroke-width="1.55"/>
<text x="451.62" y="1449.2" font-size="22.2" fill="#000" stroke="#000">916.57</text>
<text x="477.83" y="1422.5" font-size="21.6" fill="#000" stroke="#000">y</text>
<text x="489.84" y="1427.79" font-size="14.26" fill="#000" stroke="#000">9</text>
<polyline points="478.9,1457.4 465,1472.4" fill="none" stroke="#3a3a3a" stroke-width="1.55"/>
<text x="498.6" y="1401.6" font-size="22.2" fill="#000" stroke="#000">1031.68</text>
<text x="525.13" y="1374.9" font-size="21.6" fill="#000" stroke="#000">y</text>
<text x="537.14" y="1380.19" font-size="14.26" fill="#000" stroke="#000">10</text>
<polyline points="535.9,1412.1 529.8,1434.2" fill="none" stroke="#3a3a3a" stroke-width="1.55"/>
<text x="497.7" y="1348.2" font-size="22.2" fill="#000" stroke="#000">1132.55</text>
<text x="523.93" y="1321.5" font-size="21.6" fill="#000" stroke="#000">y</text>
<text x="535.94" y="1326.79" font-size="14.26" fill="#000" stroke="#000">11</text>
<polyline points="550.3,1355.8 585.6,1372.4" fill="none" stroke="#3a3a3a" stroke-width="1.55"/>
<text x="595.1" y="1422" font-size="22.2" fill="#000" stroke="#000">1236.52</text>
<text x="619.77" y="1396.5" font-size="21.6" fill="#000" stroke="#000">b</text>
<text x="632.97" y="1401.79" font-size="14.26" fill="#000" stroke="#000">11</text>
<polyline points="641.7,1429 651.9,1454.4" fill="none" stroke="#3a3a3a" stroke-width="1.55"/>
<text x="610.6" y="1355.8" font-size="22.2" fill="#000" stroke="#000">1323.53</text>
<text x="611.27" y="1329.1" font-size="21.6" fill="#000" stroke="#000">b</text>
<text x="624.47" y="1334.39" font-size="14.26" fill="#000" stroke="#000">12</text>
<text x="640.33" y="1329.1" font-size="21.6" fill="#000" stroke="#000">-H</text>
<text x="663.12" y="1334.39" font-size="14.26" fill="#000" stroke="#000">2</text>
<text x="671.05" y="1329.1" font-size="21.6" fill="#000" stroke="#000">O</text>
<polyline points="667.8,1363.3 698,1465.8" fill="none" stroke="#3a3a3a" stroke-width="1.55"/>
<text x="698.1" y="1373.9" font-size="22.2" fill="#000" stroke="#000">1323.53</text>
<text x="722.17" y="1347.2" font-size="21.6" fill="#000" stroke="#000">b</text>
<text x="735.37" y="1352.49" font-size="14.26" fill="#000" stroke="#000">12</text>
<polyline points="729.6,1382 710,1407" fill="none" stroke="#3a3a3a" stroke-width="1.55"/>
<text x="805.6" y="1362.7" font-size="22.2" fill="#000" stroke="#000">1392.57</text>
<text x="806.67" y="1336" font-size="21.6" fill="#000" stroke="#000">b</text>
<text x="819.87" y="1341.29" font-size="14.26" fill="#000" stroke="#000">13</text>
<text x="835.73" y="1336" font-size="21.6" fill="#000" stroke="#000">-H</text>
<text x="858.52" y="1341.29" font-size="14.26" fill="#000" stroke="#000">2</text>
<text x="866.45" y="1336" font-size="21.6" fill="#000" stroke="#000">O</text>
<polyline points="800.5,1343.7 752.2,1439.3" fill="none" stroke="#3a3a3a" stroke-width="1.55"/>
<text x="758.4" y="1452.2" font-size="22.2" fill="#000" stroke="#000">1410.64</text>
<text x="783.97" y="1425.5" font-size="21.6" fill="#000" stroke="#000">b</text>
<text x="797.17" y="1430.79" font-size="14.26" fill="#000" stroke="#000">13</text>
<polyline points="785.4,1462.2 768.2,1484.5" fill="none" stroke="#3a3a3a" stroke-width="1.55"/>
<text x="840.2" y="1435" font-size="22.2" fill="#000" stroke="#000">1606.68</text>
<text x="866.07" y="1408.3" font-size="21.6" fill="#000" stroke="#000">b</text>
<text x="879.27" y="1413.59" font-size="14.26" fill="#000" stroke="#000">15</text>
<polyline points="883.3,1442.6 883.3,1467.5" fill="none" stroke="#3a3a3a" stroke-width="1.55"/>
</svg>
</body></html>
